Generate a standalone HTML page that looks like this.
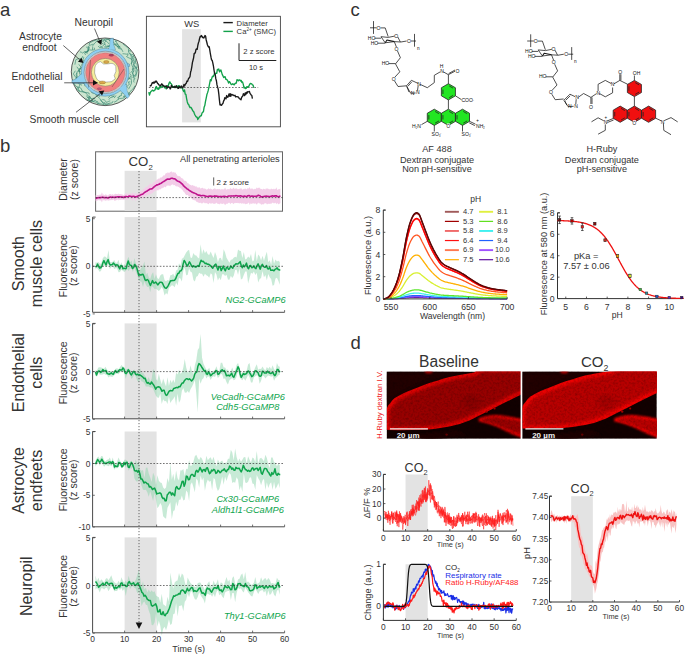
<!DOCTYPE html>
<html><head><meta charset="utf-8"><style>
html,body{margin:0;padding:0;background:#fff;width:685px;height:655px;overflow:hidden}
svg{display:block;font-family:"Liberation Sans", sans-serif}
</style></head><body>
<svg width="685" height="655" viewBox="0 0 685 655">
<text x="0" y="15.8" font-size="18.5" text-anchor="start" fill="#333" >a</text>
<circle cx="105.1" cy="71.8" r="33.8" fill="#cce5cf" stroke="#333" stroke-width="0.8"/>
<polyline points="124.96,92.58 121.22,93.27 121.5,95.51 119.06,96.36 117.42,98.01" fill="none" stroke="#2c7f6c" stroke-width="0.6"/>
<polyline points="112.21,42.63 110.64,40.14 107.46,39.51 105.12,40.07" fill="none" stroke="#2c7f6c" stroke-width="0.6"/>
<polyline points="115.25,41.97 115.92,40.62 116.61,42.53 117.93,44.53 119.65,46.84 119.01,47.99" fill="none" stroke="#2c7f6c" stroke-width="0.6"/>
<polyline points="130.22,54.99 132.5,54.49 133.95,55.77 132.39,57.2 134.01,59.7" fill="none" stroke="#2c7f6c" stroke-width="0.6"/>
<polyline points="127.37,85.78 129.33,84.48 128.41,81.93 130.34,81.83" fill="none" stroke="#2c7f6c" stroke-width="0.6"/>
<polyline points="114.53,95.7 112.98,96.23 110.8,95.55 110.22,95.45 108.34,97.74" fill="none" stroke="#2c7f6c" stroke-width="0.6"/>
<polyline points="93.07,99.93 91.97,101.11 89.96,100.35 87.96,100 86.02,98.72 85.82,98.58" fill="none" stroke="#2c7f6c" stroke-width="0.6"/>
<polyline points="112.27,40.91 114.02,42.92 117.18,45.81 118.41,47.13 120.26,46.31" fill="none" stroke="#2c7f6c" stroke-width="0.6"/>
<polyline points="79.51,72.08 79.28,71.09 80.21,68.86 81.22,66.74" fill="none" stroke="#2c7f6c" stroke-width="0.6"/>
<polyline points="79.9,91.28 77.96,90.57 76.42,88.12 76.36,88.02" fill="none" stroke="#2c7f6c" stroke-width="0.6"/>
<polyline points="80.34,77.34 81.72,78.58 82.3,79.9 83.48,82.67 84.52,84.53 85.21,86.36" fill="none" stroke="#2c7f6c" stroke-width="0.6"/>
<polyline points="86.06,95.64 87.54,97.04 88.52,97.79 89.71,100.92 92.92,101.57 95.18,100.21 97.51,102.28" fill="none" stroke="#2c7f6c" stroke-width="0.6"/>
<polyline points="130.11,54.06 129.11,53.55 128.54,50.29 128.45,48.63 127.29,47.37 125.7,46.02 122.98,44.06" fill="none" stroke="#2c7f6c" stroke-width="0.6"/>
<polyline points="114.51,44.67 117.71,46.63 119.26,46.86 121.23,48.47 123.01,51.9" fill="none" stroke="#2c7f6c" stroke-width="0.6"/>
<polyline points="76.81,66.72 78.63,69.23 78.68,71.66 80.69,71.68 80.53,71.66" fill="none" stroke="#2c7f6c" stroke-width="0.6"/>
<polyline points="113.14,101.07 112.07,103 108.92,103.26 106.99,104.48 103.19,102.63 102.07,101.93 100.2,99.77" fill="none" stroke="#2c7f6c" stroke-width="0.6"/>
<polyline points="82.07,91.86 79.37,91.15 77.78,87.68 74.85,84.99 74.03,82.93 74.86,80.53" fill="none" stroke="#2c7f6c" stroke-width="0.6"/>
<polyline points="89.01,45.22 89.71,42.79 93.6,40.87 96.89,39.84" fill="none" stroke="#2c7f6c" stroke-width="0.6"/>
<polyline points="97.22,101.17 98.73,103.63 101.72,104.03 104.73,104.8 106.7,104.02 109.73,104.14" fill="none" stroke="#2c7f6c" stroke-width="0.6"/>
<polyline points="132.46,77.44 134.42,76.79 135.87,76.04 136.21,73.66 135.82,71.02 136.8,67.13" fill="none" stroke="#2c7f6c" stroke-width="0.6"/>
<polyline points="75.39,78.15 77.31,76.8 76.88,74.71 77.1,71.8 79.34,69.35 78.96,68.82 80.98,68.09" fill="none" stroke="#2c7f6c" stroke-width="0.6"/>
<polyline points="89.89,96.76 88.18,96.05 87.45,94.89 86.1,93.13 84.92,92.36 82.02,90.82" fill="none" stroke="#2c7f6c" stroke-width="0.6"/>
<polyline points="89.37,48.25 88.38,47.22 89.04,48.75 87.65,51.5 85.86,52.02 84.68,53.15 85.62,54.94" fill="none" stroke="#2c7f6c" stroke-width="0.6"/>
<polyline points="105.36,102.22 103.45,103.62 101.82,101.42 100.52,99.11 97.95,96.83 95.31,94.55" fill="none" stroke="#2c7f6c" stroke-width="0.6"/>
<polyline points="95.14,97.8 93.98,99.28 93.72,98.08 91.29,98.8 90.86,97.95 88.43,98.01" fill="none" stroke="#2c7f6c" stroke-width="0.6"/>
<polyline points="118.04,99.62 119.37,98.57 123.43,98.1 125.25,97.16" fill="none" stroke="#2c7f6c" stroke-width="0.6"/>
<polyline points="88.89,96.22 89.99,96.34 91.19,99.17 92.91,101.41 96.28,102.36 98.1,104.05 99.39,102.75" fill="none" stroke="#2c7f6c" stroke-width="0.6"/>
<polyline points="123.22,97.26 125.86,95.31 128.36,93.76 129.72,92.3 131.5,90 133.78,88.13 134.85,85.83" fill="none" stroke="#2c7f6c" stroke-width="0.6"/>
<polyline points="131.31,63.98 131.91,59.98 131.35,58.13 131.14,55.78 129.94,52.97" fill="none" stroke="#2c7f6c" stroke-width="0.6"/>
<polyline points="92.38,46.23 94.99,42.81 98.55,39.72 100.7,40.84 102.83,41.23 104.57,42.68 105.97,40.78" fill="none" stroke="#2c7f6c" stroke-width="0.6"/>
<polyline points="75.77,80.42 76.3,78.77 76.76,76.87 76.15,74.88 76.76,72.78" fill="none" stroke="#2c7f6c" stroke-width="0.6"/>
<polyline points="130.51,72.64 132.52,70.81 134.03,67.24 133.38,63.86 133.94,61.35 132.44,58.09" fill="none" stroke="#2c7f6c" stroke-width="0.6"/>
<polyline points="136.66,68.01 137.37,64.88 135.27,62.75 134.93,60.46" fill="none" stroke="#2c7f6c" stroke-width="0.6"/>
<polyline points="133.89,79.47 134.27,78.1 133.05,75.98 132.96,74.39 132.28,72.75 133.78,70.43 134.13,68.24" fill="none" stroke="#2c7f6c" stroke-width="0.6"/>
<polyline points="128.46,89.22 130.41,85.77 131.54,83.14 131.46,80.53 131.03,78.71 131.07,75.04 129.71,73.53" fill="none" stroke="#2c7f6c" stroke-width="0.6"/>
<polyline points="87,97.36 89.53,97.35 88.92,99.49 88.36,100.24 88.4,100.26" fill="none" stroke="#2c7f6c" stroke-width="0.6"/>
<polyline points="121.45,49.11 118.43,48.4 117.75,46.79 118.04,45.37 117.91,44.64 117.09,43.85 113.65,44.63" fill="none" stroke="#2c7f6c" stroke-width="0.6"/>
<polyline points="112.15,44.21 110.49,45.75 108.69,46.3 107.34,45.23" fill="none" stroke="#2c7f6c" stroke-width="0.6"/>
<polyline points="79.97,51.84 81.49,52.31 82.56,53.02 83,52.65 84.65,51.74 86.18,52.73 87.62,53.35" fill="none" stroke="#2c7f6c" stroke-width="0.6"/>
<polyline points="99.55,45.86 100.58,46.27 102.33,47.76 102.68,46.9" fill="none" stroke="#2c7f6c" stroke-width="0.6"/>
<polyline points="126.17,56.83 127.82,55.52 128,53.86 126.17,54.17 124.79,53.89 122.52,53.72" fill="none" stroke="#2c7f6c" stroke-width="0.6"/>
<polyline points="98.8,41.81 99.47,41.22 102.17,39.62 105.41,40.54 107.68,42.29 109.22,44.2" fill="none" stroke="#2c7f6c" stroke-width="0.6"/>
<polyline points="89.3,94.45 88.9,92.98 85.08,92.42 82.47,92.06 81.23,88.5 79.53,87.48 76.82,86.77" fill="none" stroke="#2c7f6c" stroke-width="0.6"/>
<polyline points="98.05,46.15 99.84,47.75 101.88,46.8 103.52,45.13 105.37,43.56" fill="none" stroke="#2c7f6c" stroke-width="0.6"/>
<polyline points="120.37,95.69 118.91,97.1 118.22,98.98 116.94,100.73 114.06,102.26" fill="none" stroke="#2c7f6c" stroke-width="0.6"/>
<polyline points="131.26,55.66 133.99,57.08 135.38,58.69 135.28,61.9 134.13,64.65 135.71,67.61 134.99,68.95" fill="none" stroke="#2c7f6c" stroke-width="0.6"/>
<polyline points="74.89,64.65 75.47,61.61 75.77,59.79 78.1,58.69 80.36,58.65 81.89,58.21 82.88,56.02" fill="none" stroke="#2c7f6c" stroke-width="0.6"/>
<polyline points="128.18,87.51 126.56,86.49 126.09,86.33 124.25,87.18 122.88,88.22 122.49,88.63 122.45,88.67" fill="none" stroke="#2c7f6c" stroke-width="0.6"/>
<polyline points="134.19,82.51 133.63,81.15 134.37,79.19 135.04,78.31" fill="none" stroke="#2c7f6c" stroke-width="0.6"/>
<polyline points="89.73,46.83 88.53,48.48 88.38,50.88 87.05,52.31" fill="none" stroke="#2c7f6c" stroke-width="0.6"/>
<polyline points="92.59,49.08 93.52,49.93 94.77,49.55 94.21,47.64" fill="none" stroke="#2c7f6c" stroke-width="0.6"/>
<polyline points="110.22,100.82 108.56,101.45 106.48,102.45 105.3,100.68 104.27,99.91 102.29,99.4" fill="none" stroke="#2c7f6c" stroke-width="0.6"/>
<polyline points="83.89,57.07 83.02,59.68 83.58,60.73 83.02,61.89 82.47,63.22 81.41,65.65" fill="none" stroke="#2c7f6c" stroke-width="0.6"/>
<polyline points="113.48,45.29 112.28,47.02 109.88,46.87 108.94,45.68 106.7,47.6 105.31,47.6" fill="none" stroke="#2c7f6c" stroke-width="0.6"/>
<polyline points="79.42,81.06 78.32,83.54 80.01,84.59 79.15,86.84 78.78,87.75 78.09,88.78" fill="none" stroke="#2c7f6c" stroke-width="0.6"/>
<polyline points="123.11,96.4 126.49,95.8 129.55,93.97 128.65,91.97" fill="none" stroke="#2c7f6c" stroke-width="0.6"/>
<polyline points="134.54,65.86 136.29,68.46 137.55,69.67 136.73,72.52 135.55,75.11 133.45,75.77" fill="none" stroke="#2c7f6c" stroke-width="0.6"/>
<polyline points="133.86,76.16 132.85,73.55 133.27,71.51 134.37,70.93" fill="none" stroke="#2c7f6c" stroke-width="0.6"/>
<polyline points="78.55,64.38 80.15,65.78 81.26,67.66 80.02,69.12 79.09,70.76 79.61,73.04 79.69,74.56" fill="none" stroke="#2c7f6c" stroke-width="0.6"/>
<polyline points="128.07,50.85 128.86,51.25 129.63,50.59 130.77,51.06 130.36,51.13" fill="none" stroke="#2c7f6c" stroke-width="0.6"/>
<polyline points="106.16,45.46 103.91,43.56 103.27,44.24 101.58,42.5 98.68,41.15" fill="none" stroke="#2c7f6c" stroke-width="0.6"/>
<polyline points="93.32,44.06 90.39,45.18 88.98,46.09 87.7,47.16 86.08,47.15" fill="none" stroke="#2c7f6c" stroke-width="0.6"/>
<polyline points="99.54,96.8 99.11,95.36 97.41,94.75 95.5,94.02 94.05,93.33 91.98,92.9 91.01,91.48" fill="none" stroke="#2c7f6c" stroke-width="0.6"/>
<polyline points="103.17,40.52 105.48,38.8 108.33,39.24 110.57,41.67 110.73,41.34 112.58,40.27" fill="none" stroke="#2c7f6c" stroke-width="0.6"/>
<polyline points="132.31,70 132.84,67.27 132.01,65.36 131.2,63.05" fill="none" stroke="#2c7f6c" stroke-width="0.6"/>
<polyline points="75.35,70.73 73.37,73.93 75.84,77.45 77.16,78.67 78.72,81.94 80.52,84.41 82.06,85.3" fill="none" stroke="#2c7f6c" stroke-width="0.6"/>
<polyline points="131.92,63.03 132.62,60.91 131.01,58.9 129.27,58.09 126.9,56.89" fill="none" stroke="#2c7f6c" stroke-width="0.6"/>
<polyline points="112.28,46.96 111.73,46.53 110.5,47.43 109.96,45.88 108,46.75 105.3,46.02 104.13,47.62" fill="none" stroke="#2c7f6c" stroke-width="0.6"/>
<polyline points="130.7,76.5 128.47,78.07 130.24,78.91 129.25,78.51 128.19,79.04 128.46,79.69" fill="none" stroke="#2c7f6c" stroke-width="0.6"/>
<polyline points="87.82,47.76 87.78,49.33 87.43,51.11 87.95,51.94 85.57,52.37" fill="none" stroke="#2c7f6c" stroke-width="0.6"/>
<polyline points="92.7,46.55 92.58,47.77 92.65,50.16 89.42,49.91 87.42,51.43 86.42,51.42 84.4,52.15" fill="none" stroke="#2c7f6c" stroke-width="0.6"/>
<polyline points="116,95.46 114.49,97.67 113.33,96.08 112.6,97.18 110.4,97.55 108.79,99.68" fill="none" stroke="#2c7f6c" stroke-width="0.6"/>
<path d="M108.6,49 Q110.6,45 110,38.4 L113.4,38.2 Q112.6,45 115.5,49.5 Z" fill="#8ecff0" stroke="#2c5f78" stroke-width="0.35"/>
<path d="M83,71 Q78,79 71.8,80.6 L72.2,83.2 Q80,83.4 87,83.5 Z" fill="#8ecff0" stroke="#2c5f78" stroke-width="0.35"/>
<path d="M118.5,89.5 Q124,92.5 127,98.4 L129.4,96.3 Q126,91 126.5,84 Z" fill="#8ecff0" stroke="#2c5f78" stroke-width="0.35"/>
<path d="M125.5,61.5 Q127.5,63.8 129.5,64.2 L129.6,66.4 Q127.4,66.6 125.8,68 Z" fill="#8ecff0" stroke="#2c5f78" stroke-width="0.35"/>
<circle cx="105.1" cy="72.3" r="23.9" fill="#8ecff0" stroke="#2c5f78" stroke-width="0.35"/>
<path d="M108.8,49.6 Q110.8,45.5 110.5,40 L112.9,40 Q112.4,45.5 115,49.8 Z" fill="#8ecff0"/>
<path d="M83.5,72 Q78,79.6 73,81.4 L73.2,82.6 Q80,82.8 87,83 Z" fill="#8ecff0"/>
<path d="M119,89 Q124,92.5 127.6,97.4 L128.7,96.4 Q125.8,91 126,84.5 Z" fill="#8ecff0"/>
<circle cx="105.3" cy="72.39999999999999" r="21.2" fill="#fff" stroke="#333" stroke-width="0.35"/>
<circle cx="105.3" cy="72.39999999999999" r="20.4" fill="none" stroke="#444" stroke-width="0.3"/>
<circle cx="105.3" cy="72.39999999999999" r="19.7" fill="#f07f7f" stroke="#555" stroke-width="0.3"/>
<circle cx="105.3" cy="72.3" r="13.9" fill="#f6ee9c" stroke="#555" stroke-width="0.4"/>
<path d="M94.8,68 Q95.5,62.8 100.5,61.6 L103.6,64 L108.4,63.8 Q114,62.2 115.8,66.5 Q116.8,72 114.2,75.5 L115.3,78.8 Q111.5,83 107.5,82 L103,82.4 Q97.2,81.2 96,77.2 L94.6,73 Z" fill="#fff" stroke="#555" stroke-width="0.4"/>
<ellipse cx="106.3" cy="62" rx="2.8" ry="1.4" fill="#d9a84a" stroke="#7a5a20" stroke-width="0.3"/>
<ellipse cx="102.3" cy="82.4" rx="3.2" ry="1.5" fill="#d9a84a" stroke="#7a5a20" stroke-width="0.3"/>
<ellipse cx="111.3" cy="55.2" rx="2.4" ry="1.1" fill="#b04060" stroke="#702040" stroke-width="0.3"/>
<ellipse cx="99.4" cy="88.8" rx="2.2" ry="1" fill="#c06080" stroke="#702040" stroke-width="0.3"/>
<line x1="94.5" y1="28.5" x2="99.39" y2="40.38" stroke="#222" stroke-width="0.7" />
<polygon points="101.3,45 96.9,41.41 101.89,39.35" fill="#111"/>
<line x1="63.3" y1="45.5" x2="79.72" y2="59.73" stroke="#222" stroke-width="0.7" />
<polygon points="83.5,63 77.95,61.77 81.49,57.69" fill="#111"/>
<line x1="64.2" y1="82.8" x2="93" y2="82.8" stroke="#222" stroke-width="0.7" />
<polygon points="98,82.8 93,85.5 93,80.1" fill="#111"/>
<line x1="76" y1="112.3" x2="100.35" y2="93.46" stroke="#222" stroke-width="0.7" />
<polygon points="104.3,90.4 102,95.6 98.69,91.32" fill="#111"/>
<line x1="88.5" y1="87.5" x2="90.5" y2="60" stroke="#333" stroke-width="0.4" />
<line x1="112" y1="87" x2="124" y2="69" stroke="#333" stroke-width="0.4" />
<text x="74.6" y="26" font-size="10.3" text-anchor="start" fill="#333" >Neuropil</text>
<text x="40.5" y="39.7" font-size="10.3" text-anchor="middle" fill="#333" >Astrocyte</text>
<text x="39.5" y="51.4" font-size="10.3" text-anchor="middle" fill="#333" >endfoot</text>
<text x="37" y="80.4" font-size="10.3" text-anchor="middle" fill="#333" >Endothelial</text>
<text x="36.3" y="92.4" font-size="10.3" text-anchor="middle" fill="#333" >cell</text>
<text x="29.6" y="122.5" font-size="10.3" text-anchor="start" fill="#333" >Smooth muscle cell</text>
<rect x="146.4" y="16.3" width="134" height="110.5" fill="none" stroke="#444" stroke-width="0.9"/>
<rect x="182.1" y="29.2" width="18.7" height="93.2" fill="#e3e3e3"/>
<text x="191.7" y="26.7" font-size="9.3" text-anchor="middle" fill="#333" >WS</text>
<line x1="148.8" y1="87.5" x2="258.2" y2="87.5" stroke="#333" stroke-width="0.7" stroke-dasharray="1.6 1.6"/>
<polyline points="148.8,92.11 149.5,95.07 150.2,92.81 150.9,91.54 151.6,91.01 152.3,90.21 153,90.55 153.7,91.08 154.4,90.31 155.1,89.84 155.8,86.98 156.5,86.58 157.2,89.18 157.9,88.27 158.6,89.31 159.3,88.16 160,85.75 160.7,87.89 161.4,87.05 162.1,86.56 162.8,85.71 163.5,86.7 164.2,86.73 164.9,87.94 165.6,87.35 166.3,88.98 167,85.75 167.7,86.12 168.4,85.27 169.1,83.04 169.8,81.84 170.5,83.16 171.2,83.73 171.9,84.88 172.6,87.27 173.3,86.6 174,87.34 174.7,86.32 175.4,86.94 176.1,87.56 176.8,86.06 177.5,87.27 178.2,85.67 178.9,86.69 179.6,85.9 180.3,87.44 181,87.9 181.7,87.9 182.4,88.11 183.1,90.42 183.8,91.52 184.5,89.9 185.2,94.22 185.9,94.48 186.6,98.62 187.3,101.93 188,103.96 188.7,104.55 189.4,106.44 190.1,107.71 190.8,107.41 191.5,107.93 192.2,109.7 192.9,110.94 193.6,111.61 194.3,113.36 195,114.98 195.7,116.21 196.4,116.99 197.1,117.16 197.8,119.55 198.5,118.27 199.2,117.16 199.9,116.45 200.6,115.81 201.3,115.79 202,113.18 202.7,112.14 203.4,111.83 204.1,107.35 204.8,105.62 205.5,101.43 206.2,98.12 206.9,94.53 207.6,92.63 208.3,90.15 209,86.8 209.7,83.22 210.4,79.61 211.1,80.85 211.8,78.15 212.5,76.26 213.2,76.59 213.9,75.38 214.6,73.25 215.3,74.21 216,73.17 216.7,73.37 217.4,69.43 218.1,69.88 218.8,69.06 219.5,71.86 220.2,70.6 220.9,69.98 221.6,72.32 222.3,74.66 223,75.91 223.7,77.53 224.4,76.93 225.1,76.66 225.8,79.28 226.5,79.32 227.2,80.07 227.9,81.12 228.6,83.07 229.3,81.6 230,82.18 230.7,83.83 231.4,84.53 232.1,84.31 232.8,83.71 233.5,84.43 234.2,84.85 234.9,83.69 235.6,83.12 236.3,83.15 237,79.73 237.7,80.04 238.4,80.67 239.1,80 239.8,80.04 240.5,80.92 241.2,80.39 241.9,82.46 242.6,82.08 243.3,84.38 244,87.92 244.7,87.26 245.4,88.6 246.1,88.46 246.8,86.73 247.5,87.28 248.2,86.39 248.9,86.35 249.6,84.53 250.3,83.49 251,83.68 251.7,83.91 252.4,84.77 253.1,85.1 253.8,87.7" fill="none" stroke="#12a14a" stroke-width="1.35" stroke-linejoin="round" />
<polyline points="149.8,86.4 150.4,85.77 151,85.87 151.6,84.37 152.2,82.76 152.8,83.07 153.4,82.16 154,83.19 154.6,82.55 155.2,81.19 155.8,81.99 156.4,81.1 157,82.2 157.6,83.35 158.2,83.82 158.8,84.96 159.4,85.09 160,85.16 160.6,85.87 161.2,84.72 161.8,83.76 162.4,84.79 163,85.55 163.6,85.53 164.2,86.17 164.8,86.64 165.4,86.12 166,86.44 166.6,85.96 167.2,88.05 167.8,87.17 168.4,86.71 169,86.96 169.6,87.55 170.2,88.97 170.8,87.91 171.4,85.33 172,86.39 172.6,86.85 173.2,87.28 173.8,87.14 174.4,86.4 175,87.58 175.6,86.95 176.2,85.67 176.8,87.28 177.4,87.22 178,88.46 178.6,88.31 179.2,86.31 179.8,87.57 180.4,87.65 181,86.44 181.6,86.05 182.2,87.81 182.8,87.68 183.4,86.69 184,84.46 184.6,86.07 185.2,84.78 185.8,83.7 186.4,82.98 187,81.03 187.6,81.33 188.2,79.61 188.8,78.06 189.4,77.79 190,76.47 190.6,72.06 191.2,70.23 191.8,66.87 192.4,62.65 193,60.25 193.6,57.79 194.2,53.41 194.8,53.54 195.4,52.44 196,49.28 196.6,48.96 197.2,49.31 197.8,45.5 198.4,42.89 199,41.26 199.6,38.37 200.2,36.36 200.8,36.69 201.4,35.52 202,36.34 202.6,37.59 203.2,37.5 203.8,38.01 204.4,36.91 205,35.51 205.6,36.21 206.2,39.96 206.8,42.26 207.4,44.77 208,46.17 208.6,46.98 209.2,46.69 209.8,50.19 210.4,53.99 211,57.2 211.6,60 212.2,60.35 212.8,62.89 213.4,65.78 214,70.01 214.6,73.5 215.2,74.7 215.8,78.65 216.4,80.75 217,84.88 217.6,87.16 218.2,89.08 218.8,93.93 219.4,99.83 220,104.88 220.6,104.51 221.2,105.41 221.8,104.9 222.4,103.92 223,103.3 223.6,101 224.2,100.16 224.8,97.61 225.4,98.35 226,98.81 226.6,95.55 227.2,96.38 227.8,97.31 228.4,95.92 229,93.89 229.6,96.2 230.2,93.72 230.8,96.23 231.4,94.47 232,94.36 232.6,95.02 233.2,94.98 233.8,95.54 234.4,95.55 235,95.28 235.6,96.91 236.2,96.67 236.8,96.58 237.4,96.76 238,96.86 238.6,97.23 239.2,98.5 239.8,98.93 240.4,99.14 241,99.71 241.6,97.36 242.2,96.79 242.8,95.97 243.4,93.75 244,94.21 244.6,95.65 245.2,92.99 245.8,94.59 246.4,92.3 247,93.31 247.6,91.71 248.2,91.84 248.8,91.78 249.4,91.35 250,93.43 250.6,94.15 251.2,95.06 251.8,95.47 252.4,98.57" fill="none" stroke="#1a1a1a" stroke-width="1.35" stroke-linejoin="round" />
<line x1="223.4" y1="22.6" x2="232.8" y2="22.6" stroke="#1a1a1a" stroke-width="1.4" />
<line x1="223.4" y1="31.4" x2="232.8" y2="31.4" stroke="#12a14a" stroke-width="1.4" />
<text x="236.6" y="25.8" font-size="7.7" text-anchor="start" fill="#333" >Diameter</text>
<text x="236.6" y="34.2" font-size="7.7" fill="#333">Ca<tspan font-size="4.6" dy="-3">2+</tspan><tspan dy="3"> (SMC)</tspan></text>
<polyline points="239,43.3 239,60.5 276.3,60.5" fill="none" stroke="#222" stroke-width="1"/>
<text x="243.3" y="53.8" font-size="7.7" text-anchor="start" fill="#333" >2 z score</text>
<text x="256" y="69.6" font-size="7.5" text-anchor="middle" fill="#333" >10 s</text>
<text x="0" y="151.9" font-size="18.5" text-anchor="start" fill="#333" >b</text>
<rect x="95.6" y="151.8" width="186.9" height="59.4" fill="none" stroke="#666" stroke-width="1"/>
<rect x="124.6" y="170.8" width="32" height="40" fill="#e3e3e3"/>
<text x="128.6" y="166.3" font-size="13.2" fill="#333">CO<tspan font-size="7.8" dy="3.2">2</tspan></text>
<text x="180" y="162.4" font-size="9.25" text-anchor="start" fill="#333" >All penetrating arterioles</text>
<line x1="213.7" y1="177.4" x2="213.7" y2="185.5" stroke="#333" stroke-width="0.8" />
<text x="216.4" y="185" font-size="8.05" text-anchor="start" fill="#333" >2 z score</text>
<text x="67.2" y="179.5" font-size="10.5" text-anchor="middle" fill="#333" transform="rotate(-90 67.2 179.5)" >Diameter</text>
<text x="77.8" y="179.5" font-size="10.5" text-anchor="middle" fill="#333" transform="rotate(-90 77.8 179.5)" >(z score)</text>
<polygon points="95.64,195.3 96.12,195.15 96.6,195.6 97.08,195.02 97.56,195.06 98.04,195.35 98.52,195.26 99,194.44 99.48,195.25 99.96,194.37 100.44,194.51 100.92,195.15 101.4,193.8 101.88,192.17 102.36,193.21 102.84,194.94 103.32,194.62 103.8,194.5 104.28,195.29 104.76,194.95 105.24,193.9 105.72,194.75 106.2,195.17 106.68,194.33 107.16,195.33 107.64,195.61 108.12,195.56 108.6,194.88 109.08,194.03 109.56,194.56 110.04,193.92 110.52,194.22 111,194.14 111.48,194.95 111.96,194.3 112.44,194.09 112.92,194.63 113.4,194.52 113.88,195 114.36,194.15 114.84,193.91 115.32,193.67 115.8,193.75 116.28,193.89 116.76,193.97 117.24,194.14 117.72,194.03 118.2,194.61 118.68,193.15 119.16,194.35 119.64,193.9 120.12,193.95 120.6,194.24 121.08,194.3 121.56,194.45 122.04,194.05 122.52,194.67 123,194.91 123.48,195.29 123.96,195 124.44,194.25 124.92,194.51 125.4,193.3 125.88,193.88 126.36,192.64 126.84,193.52 127.32,193.94 127.8,194.32 128.28,193.94 128.76,193.59 129.24,193.36 129.72,193.67 130.2,193.15 130.68,193.57 131.16,193.76 131.64,193.81 132.12,193.17 132.6,192.02 133.08,193.11 133.56,194.07 134.04,193.4 134.52,193.42 135,193.32 135.48,192.37 135.96,194.36 136.44,193.4 136.92,193.94 137.4,193.03 137.88,193.79 138.36,193.09 138.84,193.18 139.32,192.1 139.8,192.48 140.28,191.94 140.76,191.15 141.24,190.48 141.72,191.04 142.2,191.15 142.68,190.17 143.16,188.9 143.64,188.83 144.12,189.51 144.6,188.19 145.08,187.57 145.56,187.4 146.04,187.03 146.52,187.13 147,187.12 147.48,186.61 147.96,185.87 148.44,185.15 148.92,185.06 149.4,184.9 149.88,183.52 150.36,183.53 150.84,184.55 151.32,184.21 151.8,184.1 152.28,183.72 152.76,183.5 153.24,182.79 153.72,182.02 154.2,181.98 154.68,181.84 155.16,181.3 155.64,180.7 156.12,179.88 156.6,179.82 157.08,179.62 157.56,179.54 158.04,178.77 158.52,178.59 159,178.85 159.48,178.85 159.96,177.58 160.44,177.35 160.92,178.2 161.4,177.36 161.88,177.16 162.36,176.46 162.84,176.55 163.32,175.39 163.8,175.19 164.28,175.45 164.76,175.15 165.24,174.18 165.72,173.14 166.2,173.2 166.68,172.96 167.16,173.58 167.64,171.89 168.12,172.91 168.6,172.58 169.08,172.81 169.56,173.04 170.04,171.42 170.52,171.92 171,171.96 171.48,171.52 171.96,171.35 172.44,172.63 172.92,172.22 173.4,171.81 173.88,172.87 174.36,172.11 174.84,173.03 175.32,172.52 175.8,172.78 176.28,174.3 176.76,174.14 177.24,175.42 177.72,175.88 178.2,175.81 178.68,176.29 179.16,175.92 179.64,176.16 180.12,176.49 180.6,177 181.08,177.77 181.56,178.25 182.04,177.97 182.52,178.8 183,178.51 183.48,179.58 183.96,180.46 184.44,180.76 184.92,180.78 185.4,181.08 185.88,180.73 186.36,181.41 186.84,182.01 187.32,182.95 187.8,183.37 188.28,183.23 188.76,183.76 189.24,184.26 189.72,184.51 190.2,184.97 190.68,184.79 191.16,185.14 191.64,185.56 192.12,185.38 192.6,185.12 193.08,185.08 193.56,185.93 194.04,185.72 194.52,185.85 195,186.57 195.48,186.71 195.96,186.05 196.44,186.19 196.92,187.6 197.4,187.56 197.88,187.28 198.36,188 198.84,187.07 199.32,187.58 199.8,187.37 200.28,188.75 200.76,188.33 201.24,188.03 201.72,188.22 202.2,188.02 202.68,187.53 203.16,188.84 203.64,188.14 204.12,188.64 204.6,188.26 205.08,189.03 205.56,188.4 206.04,189.54 206.52,189.51 207,189.6 207.48,189.27 207.96,188.94 208.44,188.25 208.92,188.61 209.4,189.29 209.88,188.72 210.36,188.34 210.84,189.28 211.32,188.89 211.8,189.2 212.28,189.75 212.76,189.49 213.24,189.03 213.72,188.69 214.2,188.93 214.68,188.08 215.16,188.2 215.64,189.13 216.12,189.26 216.6,189.29 217.08,189.14 217.56,189.07 218.04,188.71 218.52,189.23 219,189.59 219.48,188.91 219.96,188.83 220.44,189.65 220.92,189.48 221.4,188.86 221.88,189.67 222.36,189.04 222.84,189.4 223.32,189.47 223.8,189.13 224.28,189.04 224.76,187.92 225.24,187.6 225.72,188.95 226.2,189.72 226.68,189.62 227.16,189.53 227.64,188.95 228.12,189.04 228.6,189.22 229.08,189.31 229.56,189.23 230.04,188.07 230.52,187.78 231,189.23 231.48,188.83 231.96,188.82 232.44,189.15 232.92,188.11 233.4,187.49 233.88,188.37 234.36,188.8 234.84,188.84 235.32,189.11 235.8,188.06 236.28,188.73 236.76,188.27 237.24,188.79 237.72,189.17 238.2,189.28 238.68,188.96 239.16,189.15 239.64,188.54 240.12,188.63 240.6,188.61 241.08,187.87 241.56,188.83 242.04,189.52 242.52,189.55 243,189.49 243.48,188.83 243.96,189.27 244.44,188.59 244.92,189.02 245.4,188.52 245.88,188.78 246.36,189.46 246.84,188.94 247.32,188.66 247.8,187.64 248.28,188.33 248.76,188.71 249.24,187.74 249.72,186.89 250.2,188.25 250.68,189.2 251.16,188.65 251.64,188.31 252.12,189.12 252.6,188.35 253.08,188.9 253.56,189.45 254.04,189.27 254.52,188.9 255,188.56 255.48,189.27 255.96,188.87 256.44,187.95 256.92,187.31 257.4,188.28 257.88,188.23 258.36,188.03 258.84,187.4 259.32,187.59 259.8,188.13 260.28,188.62 260.76,189 261.24,189.05 261.72,189.08 262.2,189.38 262.68,189.44 263.16,188.71 263.64,188.67 264.12,189.18 264.6,189.02 265.08,189.34 265.56,189.42 266.04,187.82 266.52,188.71 267,188.98 267.48,188.61 267.96,188.3 268.44,188.91 268.92,189.37 269.4,189.25 269.88,189.27 270.36,189.4 270.84,188.87 271.32,188.56 271.8,189.03 272.28,189.07 272.76,189.2 273.24,189.32 273.72,188.4 274.2,189.38 274.68,188.76 275.16,188.89 275.64,188.89 276.12,187.45 276.6,187.82 277.08,189.66 277.56,189.69 278.04,189.41 278.52,189.37 279,188.97 279.48,189.21 279.96,188.85 280.44,188.57 280.44,203.32 279.96,203.32 279.48,203.64 279,204.26 278.52,204.14 278.04,203.9 277.56,203.34 277.08,203.07 276.6,203.86 276.12,204.31 275.64,202.83 275.16,202.85 274.68,203.25 274.2,203.16 273.72,203.46 273.24,202.86 272.76,202.88 272.28,202.61 271.8,202.9 271.32,204.09 270.84,203.83 270.36,203.61 269.88,203.88 269.4,203.83 268.92,203.46 268.44,203.82 267.96,204.27 267.48,204.15 267,203.6 266.52,203.61 266.04,204.45 265.56,203 265.08,203.12 264.6,203.52 264.12,203.76 263.64,204.43 263.16,204.29 262.68,204.2 262.2,204.32 261.72,204.7 261.24,204.51 260.76,204.35 260.28,203.45 259.8,203.24 259.32,203.59 258.84,203.4 258.36,202.58 257.88,202.89 257.4,203.81 256.92,204.64 256.44,204.35 255.96,203.77 255.48,203.2 255,203.83 254.52,203.79 254.04,203.16 253.56,203.21 253.08,203.79 252.6,203.86 252.12,203.1 251.64,204.11 251.16,203.67 250.68,203.15 250.2,204.21 249.72,204.99 249.24,203.5 248.76,202.45 248.28,203.07 247.8,203.83 247.32,203.45 246.84,204.06 246.36,203.63 245.88,204.16 245.4,204.32 244.92,203.17 244.44,203.89 243.96,203.03 243.48,203.9 243,203.53 242.52,203.57 242.04,202.94 241.56,203.45 241.08,203.96 240.6,202.93 240.12,203.1 239.64,203.42 239.16,203.21 238.68,203.22 238.2,203.03 237.72,202.81 237.24,203.14 236.76,202.98 236.28,202.88 235.8,203.25 235.32,202.83 234.84,203.04 234.36,203.16 233.88,203.39 233.4,204.36 232.92,203.79 232.44,202.71 231.96,203.3 231.48,202.99 231,202.94 230.52,204.18 230.04,203.84 229.56,202.67 229.08,202.77 228.6,202.81 228.12,203.3 227.64,203.8 227.16,203.64 226.68,203.77 226.2,203.64 225.72,204.2 225.24,205.18 224.76,204.76 224.28,203.77 223.8,203.7 223.32,203.32 222.84,203.95 222.36,204 221.88,203.22 221.4,204.17 220.92,203.41 220.44,203.17 219.96,204.39 219.48,204.26 219,203.38 218.52,203.97 218.04,203.94 217.56,203.56 217.08,203.66 216.6,202.86 216.12,202.8 215.64,203.15 215.16,203.98 214.68,203.65 214.2,203.63 213.72,203.93 213.24,203.56 212.76,203.3 212.28,203.36 211.8,203.46 211.32,203.42 210.84,203.25 210.36,203.78 209.88,203.23 209.4,203.01 208.92,203.86 208.44,204.28 207.96,203.95 207.48,203.62 207,203.26 206.52,203.27 206.04,203 205.56,203.54 205.08,202.83 204.6,203.52 204.12,202.48 203.64,202.82 203.16,202.26 202.68,203.54 202.2,203.13 201.72,203.19 201.24,203.44 200.76,202.92 200.28,202.42 199.8,202.95 199.32,202.81 198.84,203.22 198.36,202.37 197.88,202.49 197.4,202.04 196.92,201.53 196.44,201.94 195.96,201.37 195.48,200.42 195,200.12 194.52,200.38 194.04,200.08 193.56,199.77 193.08,200.28 192.6,199.49 192.12,198.89 191.64,198.38 191.16,197.91 190.68,197.82 190.2,197.15 189.72,196.85 189.24,196.44 188.76,196.42 188.28,195.73 187.8,195.03 187.32,195.11 186.84,195.22 186.36,194.96 185.88,194.75 185.4,194.07 184.92,193.18 184.44,192.48 183.96,191.55 183.48,191.82 183,191.37 182.52,189.82 182.04,189.64 181.56,189.23 181.08,188.22 180.6,188.19 180.12,188.25 179.64,187.76 179.16,187.15 178.68,186.67 178.2,187.04 177.72,186.25 177.24,186.38 176.76,186.86 176.28,185.99 175.8,186.31 175.32,185.8 174.84,185.1 174.36,185.32 173.88,184.56 173.4,185.54 172.92,184.7 172.44,183.89 171.96,185.16 171.48,184.84 171,184.68 170.52,185.65 170.04,186.39 169.56,185.39 169.08,185.77 168.6,185.74 168.12,185.35 167.64,186.34 167.16,184.92 166.68,186.02 166.2,186.44 165.72,187.45 165.24,186.88 164.76,186.49 164.28,186.98 163.8,187.67 163.32,187.57 162.84,187.5 162.36,188.58 161.88,187.84 161.4,188.86 160.92,188.65 160.44,189.56 159.96,189.51 159.48,189.43 159,189.37 158.52,190.12 158.04,190.75 157.56,190.2 157.08,189.9 156.6,190.23 156.12,190.95 155.64,190.56 155.16,190.64 154.68,191.19 154.2,191.77 153.72,192.08 153.24,192.32 152.76,192.95 152.28,193.62 151.8,193.37 151.32,193.76 150.84,193.46 150.36,194.47 149.88,194.68 149.4,193.9 148.92,194.58 148.44,195.31 147.96,194.65 147.48,194.81 147,195.21 146.52,195.5 146.04,195.97 145.56,196.7 145.08,196.62 144.6,196.62 144.12,196.1 143.64,197.73 143.16,198.53 142.68,198.22 142.2,197.41 141.72,197.81 141.24,198.7 140.76,198.38 140.28,197.91 139.8,198.42 139.32,198.96 138.84,198.06 138.36,198.66 137.88,198.45 137.4,199.36 136.92,199.2 136.44,200.24 135.96,199.49 135.48,201.41 135,200.31 134.52,199.59 134.04,199.5 133.56,198.69 133.08,199.59 132.6,200.93 132.12,200.07 131.64,199.33 131.16,199.05 130.68,198.94 130.2,199.2 129.72,198.49 129.24,198.7 128.76,198.8 128.28,198.95 127.8,199.02 127.32,199.62 126.84,199.79 126.36,200.23 125.88,199.05 125.4,199.78 124.92,199.14 124.44,199.82 123.96,199.83 123.48,199.7 123,199.46 122.52,199.5 122.04,200.17 121.56,199.53 121.08,199.49 120.6,199.87 120.12,199.89 119.64,199.92 119.16,199.5 118.68,200.63 118.2,199.18 117.72,199.73 117.24,199.83 116.76,199.89 116.28,200.24 115.8,200.26 115.32,200.83 114.84,200.84 114.36,200.63 113.88,199.45 113.4,199.86 112.92,199.73 112.44,199.99 111.96,200.16 111.48,199.82 111,200.43 110.52,199.79 110.04,200.6 109.56,199.93 109.08,200.72 108.6,200.45 108.12,200.53 107.64,200.17 107.16,200.19 106.68,200.86 106.2,199.88 105.72,200.25 105.24,201.31 104.76,200.4 104.28,199.94 103.8,200.57 103.32,200.25 102.84,199.35 102.36,201.21 101.88,202.61 101.4,201.23 100.92,199.83 100.44,200.82 99.96,200.82 99.48,200.09 99,200.59 98.52,200.05 98.04,200.22 97.56,200.53 97.08,200.75 96.6,201.07 96.12,201.2 95.64,201.2" fill="#f3cde8" />
<polyline points="95.64,198.25 96.12,198.18 96.6,198.34 97.08,197.88 97.56,197.8 98.04,197.78 98.52,197.66 99,197.52 99.48,197.67 99.96,197.59 100.44,197.66 100.92,197.49 101.4,197.52 101.88,197.39 102.36,197.21 102.84,197.14 103.32,197.43 103.8,197.54 104.28,197.62 104.76,197.67 105.24,197.6 105.72,197.5 106.2,197.53 106.68,197.59 107.16,197.76 107.64,197.89 108.12,198.05 108.6,197.67 109.08,197.38 109.56,197.24 110.04,197.26 110.52,197 111,197.29 111.48,197.38 111.96,197.23 112.44,197.04 112.92,197.18 113.4,197.19 113.88,197.23 114.36,197.39 114.84,197.37 115.32,197.25 115.8,197 116.28,197.07 116.76,196.93 117.24,196.98 117.72,196.88 118.2,196.9 118.68,196.89 119.16,196.92 119.64,196.91 120.12,196.92 120.6,197.06 121.08,196.9 121.56,196.99 122.04,197.11 122.52,197.09 123,197.18 123.48,197.5 123.96,197.41 124.44,197.03 124.92,196.82 125.4,196.54 125.88,196.46 126.36,196.43 126.84,196.66 127.32,196.78 127.8,196.67 128.28,196.45 128.76,196.19 129.24,196.03 129.72,196.08 130.2,196.17 130.68,196.26 131.16,196.41 131.64,196.57 132.12,196.62 132.6,196.48 133.08,196.35 133.56,196.38 134.04,196.45 134.52,196.5 135,196.81 135.48,196.89 135.96,196.92 136.44,196.82 136.92,196.57 137.4,196.2 137.88,196.12 138.36,195.87 138.84,195.62 139.32,195.53 139.8,195.45 140.28,194.93 140.76,194.77 141.24,194.59 141.72,194.42 142.2,194.28 142.68,194.2 143.16,193.72 143.64,193.28 144.12,192.81 144.6,192.41 145.08,192.09 145.56,192.05 146.04,191.5 146.52,191.32 147,191.16 147.48,190.71 147.96,190.26 148.44,190.23 148.92,189.82 149.4,189.4 149.88,189.1 150.36,189 150.84,189 151.32,188.98 151.8,188.73 152.28,188.67 152.76,188.23 153.24,187.56 153.72,187.05 154.2,186.88 154.68,186.51 155.16,185.97 155.64,185.63 156.12,185.41 156.6,185.02 157.08,184.76 157.56,184.87 158.04,184.76 158.52,184.36 159,184.11 159.48,184.14 159.96,183.54 160.44,183.45 160.92,183.43 161.4,183.11 161.88,182.5 162.36,182.52 162.84,182.03 163.32,181.48 163.8,181.43 164.28,181.22 164.76,180.82 165.24,180.53 165.72,180.3 166.2,179.82 166.68,179.49 167.16,179.25 167.64,179.11 168.12,179.13 168.6,179.16 169.08,179.29 169.56,179.21 170.04,178.9 170.52,178.78 171,178.32 171.48,178.18 171.96,178.26 172.44,178.26 172.92,178.46 173.4,178.68 173.88,178.71 174.36,178.72 174.84,179.07 175.32,179.16 175.8,179.55 176.28,180.15 176.76,180.5 177.24,180.9 177.72,181.06 178.2,181.42 178.68,181.48 179.16,181.54 179.64,181.96 180.12,182.37 180.6,182.59 181.08,183 181.56,183.74 182.04,183.81 182.52,184.31 183,184.94 183.48,185.7 183.96,186 184.44,186.62 184.92,186.98 185.4,187.58 185.88,187.74 186.36,188.19 186.84,188.62 187.32,189.03 187.8,189.2 188.28,189.48 188.76,190.09 189.24,190.35 189.72,190.68 190.2,191.06 190.68,191.3 191.16,191.53 191.64,191.97 192.12,192.13 192.6,192.31 193.08,192.68 193.56,192.85 194.04,192.9 194.52,193.12 195,193.35 195.48,193.57 195.96,193.71 196.44,194.06 196.92,194.56 197.4,194.8 197.88,194.88 198.36,195.18 198.84,195.15 199.32,195.2 199.8,195.16 200.28,195.58 200.76,195.63 201.24,195.73 201.72,195.7 202.2,195.57 202.68,195.53 203.16,195.55 203.64,195.48 204.12,195.56 204.6,195.89 205.08,195.93 205.56,195.97 206.04,196.27 206.52,196.39 207,196.43 207.48,196.44 207.96,196.44 208.44,196.27 208.92,196.24 209.4,196.15 209.88,195.98 210.36,196.06 210.84,196.27 211.32,196.15 211.8,196.33 212.28,196.56 212.76,196.4 213.24,196.29 213.72,196.31 214.2,196.28 214.68,195.87 215.16,196.09 215.64,196.14 216.12,196.03 216.6,196.07 217.08,196.4 217.56,196.31 218.04,196.32 218.52,196.6 219,196.49 219.48,196.59 219.96,196.61 220.44,196.41 220.92,196.44 221.4,196.51 221.88,196.44 222.36,196.52 222.84,196.67 223.32,196.39 223.8,196.42 224.28,196.4 224.76,196.34 225.24,196.39 225.72,196.57 226.2,196.68 226.68,196.69 227.16,196.59 227.64,196.37 228.12,196.17 228.6,196.02 229.08,196.04 229.56,195.95 230.04,195.96 230.52,195.98 231,196.09 231.48,195.91 231.96,196.06 232.44,195.93 232.92,195.95 233.4,195.93 233.88,195.88 234.36,195.98 234.84,195.94 235.32,195.97 235.8,195.65 236.28,195.8 236.76,195.63 237.24,195.97 237.72,195.99 238.2,196.15 238.68,196.09 239.16,196.18 239.64,195.98 240.12,195.87 240.6,195.77 241.08,195.91 241.56,196.14 242.04,196.23 242.52,196.56 243,196.51 243.48,196.37 243.96,196.15 244.44,196.24 244.92,196.09 245.4,196.42 245.88,196.47 246.36,196.55 246.84,196.5 247.32,196.06 247.8,195.74 248.28,195.7 248.76,195.58 249.24,195.62 249.72,195.94 250.2,196.23 250.68,196.18 251.16,196.16 251.64,196.21 252.12,196.11 252.6,196.1 253.08,196.35 253.56,196.33 254.04,196.22 254.52,196.35 255,196.2 255.48,196.24 255.96,196.32 256.44,196.15 256.92,195.97 257.4,196.05 257.88,195.56 258.36,195.3 258.84,195.4 259.32,195.59 259.8,195.69 260.28,196.04 260.76,196.68 261.24,196.78 261.72,196.89 262.2,196.85 262.68,196.82 263.16,196.5 263.64,196.55 264.12,196.47 264.6,196.27 265.08,196.23 265.56,196.21 266.04,196.14 266.52,196.16 267,196.29 267.48,196.38 267.96,196.28 268.44,196.36 268.92,196.42 269.4,196.54 269.88,196.57 270.36,196.5 270.84,196.35 271.32,196.32 271.8,195.96 272.28,195.84 272.76,196.04 273.24,196.09 273.72,195.93 274.2,196.27 274.68,196.01 275.16,195.87 275.64,195.86 276.12,195.88 276.6,195.84 277.08,196.36 277.56,196.52 278.04,196.65 278.52,196.76 279,196.61 279.48,196.43 279.96,196.09 280.44,195.95" fill="none" stroke="#bf148c" stroke-width="1.6" stroke-linejoin="round" />
<line x1="95.6" y1="197.6" x2="282.5" y2="197.6" stroke="#333" stroke-width="0.7" stroke-dasharray="1.6 1.6"/>
<rect x="124.6" y="217.1" width="32" height="95.2" fill="#e3e3e3"/>
<polygon points="95.48,262.16 96.92,262.87 98.36,262.12 99.8,263.48 101.24,263.86 102.68,258.55 104.12,256.6 105.56,256.85 107,258.25 108.44,250.1 109.88,261.73 111.32,262.19 112.76,261.76 114.2,260.11 115.64,262.75 117.08,262.77 118.52,259.81 119.96,265.82 121.4,262.24 122.84,266.14 124.28,264.22 125.72,265.16 127.16,259.79 128.6,256.84 130.04,262.51 131.48,260.38 132.92,266.04 134.36,257.99 135.8,263.07 137.24,266.79 138.68,270.33 140.12,270.1 141.56,267.45 143,265.55 144.44,261.58 145.88,275.1 147.32,272.83 148.76,277.5 150.2,278.88 151.64,274.55 153.08,272.17 154.52,278.99 155.96,274.14 157.4,278.23 158.84,278.89 160.28,275.42 161.72,274.21 163.16,274.26 164.6,280.2 166.04,281.15 167.48,280.01 168.92,280.44 170.36,275.13 171.8,275 173.24,273.85 174.68,276.62 176.12,270.6 177.56,269.65 179,263.18 180.44,266.12 181.88,258.8 183.32,257.97 184.76,255.19 186.2,252.39 187.64,250.83 189.08,249.8 190.52,257.57 191.96,257.95 193.4,252.91 194.84,255.22 196.28,255.57 197.72,257.54 199.16,258.57 200.6,244.21 202.04,254.34 203.48,249.23 204.92,253.26 206.36,251.05 207.8,254.34 209.24,255.04 210.68,251.57 212.12,255.09 213.56,257.93 215,252.12 216.44,255.68 217.88,262.18 219.32,258.27 220.76,257.73 222.2,261.22 223.64,249.34 225.08,252.58 226.52,257.71 227.96,260.37 229.4,262.71 230.84,259.85 232.28,259.58 233.72,257.66 235.16,256.79 236.6,257.48 238.04,249.57 239.48,250.74 240.92,251.12 242.36,257.99 243.8,251.92 245.24,259.49 246.68,258.75 248.12,256.38 249.56,257.88 251,254.07 252.44,261.44 253.88,260.39 255.32,250.06 256.76,261.2 258.2,254.44 259.64,256.35 261.08,260.6 262.52,255.83 263.96,261.08 265.4,256.1 266.84,251.7 268.28,262.17 269.72,260.28 271.16,264.66 272.6,255.91 274.04,263.73 275.48,259.54 276.92,261.39 278.36,260.63 279.8,261.93 279.8,284.79 278.36,280.81 276.92,277.8 275.48,278.59 274.04,284.92 272.6,285.83 271.16,279.12 269.72,277.18 268.28,274.09 266.84,280.3 265.4,275.06 263.96,277.17 262.52,271.02 261.08,278 259.64,278.96 258.2,282.62 256.76,272.83 255.32,275.08 253.88,271.38 252.44,273.67 251,272.68 249.56,277.89 248.12,283.4 246.68,271.4 245.24,271.56 243.8,275.04 242.36,278.84 240.92,279.62 239.48,268.25 238.04,274.79 236.6,269.77 235.16,269.98 233.72,275.79 232.28,278.09 230.84,275.75 229.4,279.8 227.96,279.57 226.52,274.84 225.08,276 223.64,274.28 222.2,274.32 220.76,280.25 219.32,277.41 217.88,280.39 216.44,274.49 215,272.04 213.56,283.03 212.12,274.42 210.68,273.31 209.24,277.67 207.8,275.89 206.36,275.24 204.92,273.87 203.48,276.76 202.04,273.72 200.6,273.73 199.16,272.63 197.72,275.98 196.28,276.87 194.84,281.38 193.4,280 191.96,272.58 190.52,271.81 189.08,268.57 187.64,274.88 186.2,275.32 184.76,267.44 183.32,270.55 181.88,281.38 180.44,278.46 179,278.09 177.56,285.38 176.12,282.48 174.68,287.19 173.24,285.65 171.8,285.33 170.36,286.79 168.92,288 167.48,294.49 166.04,293.12 164.6,295.46 163.16,289.78 161.72,286.89 160.28,289.58 158.84,290.9 157.4,289.75 155.96,288.78 154.52,289.06 153.08,286.9 151.64,286.17 150.2,292.07 148.76,286.76 147.32,287.07 145.88,284.67 144.44,281.26 143,286.98 141.56,281.78 140.12,281.36 138.68,279.92 137.24,274.86 135.8,271.47 134.36,267.59 132.92,271.88 131.48,268.25 130.04,268.86 128.6,270.96 127.16,269.09 125.72,271.12 124.28,271.91 122.84,270.71 121.4,269.86 119.96,272.01 118.52,272.18 117.08,268.27 115.64,268.35 114.2,268.99 112.76,266.2 111.32,266.9 109.88,269.06 108.44,264.08 107,266.87 105.56,266.8 104.12,265.2 102.68,266.2 101.24,270.14 99.8,272.05 98.36,269.79 96.92,267.77 95.48,269.54" fill="#8fd6ae" fill-opacity="0.5"/>
<polyline points="95.48,267.18 96.54,266.23 97.59,264.1 98.65,266.67 99.7,268.12 100.76,267.78 101.82,266.38 102.87,262.81 103.93,260.62 104.98,262.97 106.04,264.92 107.1,261.57 108.15,259.6 109.21,263.43 110.26,265.07 111.32,264.77 112.38,264.57 113.43,263.01 114.49,264.17 115.54,265.44 116.6,264.87 117.66,264.88 118.71,267.09 119.77,268.85 120.82,265.6 121.88,265.83 122.94,268.74 123.99,268.17 125.05,268.64 126.1,268.58 127.16,264.32 128.22,261.06 129.27,264.21 130.33,265.25 131.38,265.43 132.44,268.5 133.5,267.65 134.55,264.4 135.61,265.42 136.66,267.55 137.72,271.2 138.78,275.34 139.83,274.66 140.89,275.2 141.94,274.43 143,274.24 144.06,276.81 145.11,279.89 146.17,280.57 147.22,279.51 148.28,280.26 149.34,283.05 150.39,285.45 151.45,282.94 152.5,280.6 153.56,282.91 154.62,283.07 155.67,282.01 156.73,283.31 157.78,284.97 158.84,283.53 159.9,282.2 160.95,282.23 162.01,282.42 163.06,284.43 164.12,286.82 165.18,288.05 166.23,288.29 167.29,287.07 168.34,285.3 169.4,283.13 170.46,280.83 171.51,280.8 172.57,280.46 173.62,280.39 174.68,280.2 175.74,278.5 176.79,275.84 177.85,273.52 178.9,273.17 179.96,270.91 181.02,270.75 182.07,269.06 183.13,264.11 184.18,260.51 185.24,261.91 186.3,264.52 187.35,266.07 188.41,264.04 189.46,261.88 190.52,263.73 191.58,265.88 192.63,266.89 193.69,265.81 194.74,266.75 195.8,267.15 196.86,266.43 197.91,265.64 198.97,266.37 200.02,263.03 201.08,260.32 202.14,261.59 203.19,261.25 204.25,262.53 205.3,263.6 206.36,263.33 207.42,264.36 208.47,264.15 209.53,264.84 210.58,265.75 211.64,267.04 212.7,268.29 213.75,266.22 214.81,264.9 215.86,264.1 216.92,267.26 217.98,270.03 219.03,266.7 220.09,266.41 221.14,270.62 222.2,268.71 223.26,265.94 224.31,269.13 225.37,270.81 226.42,267.56 227.48,267.24 228.54,269.3 229.59,268.86 230.65,265.98 231.7,267.26 232.76,268.19 233.82,265.51 234.87,265.03 235.93,263.84 236.98,264.03 238.04,263.83 239.1,262.89 240.15,261.61 241.21,265.48 242.26,267.81 243.32,264.94 244.38,266.78 245.43,265.32 246.49,263.1 247.54,267.43 248.6,268.74 249.66,265.83 250.71,265.6 251.77,267.78 252.82,267.33 253.88,265.91 254.94,267.91 255.99,268.61 257.05,265.66 258.1,263.78 259.16,266.75 260.22,269.15 261.27,266.02 262.33,264.39 263.38,266.18 264.44,267.36 265.5,267.16 266.55,265.52 267.61,268.87 268.66,268.96 269.72,267.27 270.78,270.33 271.83,270.19 272.89,270.1 273.94,270.76 275,269.44 276.06,268.87 277.11,267.82 278.17,269.48 279.22,269.93 280.28,269.68" fill="none" stroke="#0ea44c" stroke-width="1.5" stroke-linejoin="round" />
<line x1="92.6" y1="266.3" x2="284.6" y2="266.3" stroke="#333" stroke-width="0.7" stroke-dasharray="1.6 1.6"/>
<polyline points="95.6,217.1 92.6,217.1 92.6,312.3 284.6,312.3" fill="none" stroke="#4a4a4a" stroke-width="1"/>
<line x1="124.6" y1="312.3" x2="124.6" y2="310.1" stroke="#4a4a4a" stroke-width="0.8" />
<line x1="156.6" y1="312.3" x2="156.6" y2="310.1" stroke="#4a4a4a" stroke-width="0.8" />
<line x1="188.6" y1="312.3" x2="188.6" y2="310.1" stroke="#4a4a4a" stroke-width="0.8" />
<line x1="220.6" y1="312.3" x2="220.6" y2="310.1" stroke="#4a4a4a" stroke-width="0.8" />
<line x1="252.6" y1="312.3" x2="252.6" y2="310.1" stroke="#4a4a4a" stroke-width="0.8" />
<line x1="284.6" y1="312.3" x2="284.6" y2="310.1" stroke="#4a4a4a" stroke-width="0.8" />
<line x1="92.6" y1="313.9" x2="94.8" y2="313.9" stroke="#4a4a4a" stroke-width="0.8" />
<text x="90.4" y="316.9" font-size="8.3" text-anchor="end" fill="#333" >-5</text>
<line x1="92.6" y1="266.3" x2="94.8" y2="266.3" stroke="#4a4a4a" stroke-width="0.8" />
<text x="90.4" y="269.3" font-size="8.3" text-anchor="end" fill="#333" >0</text>
<line x1="92.6" y1="218.7" x2="94.8" y2="218.7" stroke="#4a4a4a" stroke-width="0.8" />
<text x="90.4" y="221.7" font-size="8.3" text-anchor="end" fill="#333" >5</text>
<text x="24.2" y="263.6" font-size="16.0" text-anchor="middle" fill="#333" transform="rotate(-90 24.2 263.6)" >Smooth</text>
<text x="41.8" y="263.6" font-size="16.0" text-anchor="middle" fill="#333" transform="rotate(-90 41.8 263.6)" >muscle cells</text>
<text x="67.2" y="265.6" font-size="10.5" text-anchor="middle" fill="#333" transform="rotate(-90 67.2 265.6)" >Fluorescence</text>
<text x="77" y="265.6" font-size="10.5" text-anchor="middle" fill="#333" transform="rotate(-90 77 265.6)" >(z score)</text>
<text x="285.6" y="303" font-size="9.25" text-anchor="end" fill="#0ea44c" font-style="italic">NG2-GCaMP6</text>
<rect x="124.6" y="323.4" width="32" height="95.4" fill="#e3e3e3"/>
<polygon points="95.48,370.27 96.92,370.5 98.36,367.49 99.8,367.14 101.24,367.55 102.68,368.16 104.12,368.85 105.56,366.72 107,369.87 108.44,370.97 109.88,371.38 111.32,370.64 112.76,372.67 114.2,370.81 115.64,368.72 117.08,368.3 118.52,369.17 119.96,367.18 121.4,365.07 122.84,366.54 124.28,367.3 125.72,369.84 127.16,369.31 128.6,368.18 130.04,369.97 131.48,371.06 132.92,370.91 134.36,369.52 135.8,372.23 137.24,369.92 138.68,370.64 140.12,368.16 141.56,372.99 143,372.45 144.44,375.05 145.88,377.08 147.32,379.99 148.76,377.08 150.2,381.19 151.64,378.92 153.08,369.02 154.52,371.06 155.96,379.08 157.4,380.66 158.84,373.7 160.28,379.79 161.72,384.17 163.16,378.51 164.6,382.86 166.04,386.55 167.48,377.31 168.92,385.93 170.36,379.74 171.8,383.04 173.24,379.52 174.68,382.97 176.12,372.72 177.56,374.43 179,369.59 180.44,373.83 181.88,372.39 183.32,367.4 184.76,358.94 186.2,367.4 187.64,372.15 189.08,372.39 190.52,365.13 191.96,371.58 193.4,374.53 194.84,365.34 196.28,360.32 197.72,349.94 199.16,347.66 200.6,333.9 202.04,357.65 203.48,363.74 204.92,366.87 206.36,369.68 207.8,369.75 209.24,367.67 210.68,372.85 212.12,370.88 213.56,370.81 215,369.76 216.44,366.3 217.88,370.79 219.32,370.64 220.76,362.66 222.2,362.87 223.64,367.48 225.08,367.54 226.52,370.1 227.96,369.56 229.4,372.69 230.84,370.66 232.28,367.48 233.72,372.17 235.16,370.37 236.6,365.05 238.04,363.06 239.48,367.57 240.92,373.9 242.36,372.13 243.8,371.3 245.24,371 246.68,370.38 248.12,364.62 249.56,362.92 251,372.03 252.44,373.33 253.88,370.63 255.32,367.37 256.76,364.13 258.2,369.73 259.64,368.71 261.08,368.99 262.52,366.51 263.96,368.99 265.4,370.55 266.84,367.01 268.28,368.63 269.72,366.87 271.16,369.25 272.6,365.21 274.04,368.94 275.48,371.04 276.92,362.94 278.36,366.25 279.8,366.77 279.8,374.86 278.36,375.33 276.92,376.93 275.48,378.05 274.04,380.85 272.6,375.97 271.16,376.63 269.72,375.9 268.28,375.58 266.84,376.67 265.4,378.56 263.96,376.23 262.52,375.48 261.08,380.8 259.64,383.66 258.2,375.82 256.76,375.28 255.32,376.18 253.88,377.37 252.44,382.56 251,382.4 249.56,377.34 248.12,374.63 246.68,378.12 245.24,380.73 243.8,378.07 242.36,380.13 240.92,379.09 239.48,376.97 238.04,369.38 236.6,376.79 235.16,379.56 233.72,380.17 232.28,378.06 230.84,378.95 229.4,380.15 227.96,384.41 226.52,382.29 225.08,378.21 223.64,379.05 222.2,374.51 220.76,373.76 219.32,376.45 217.88,377.96 216.44,374.26 215,376.88 213.56,376.29 212.12,377.17 210.68,380.08 209.24,376.86 207.8,376.55 206.36,378.47 204.92,374.17 203.48,378.21 202.04,379.59 200.6,383.72 199.16,378.58 197.72,412.14 196.28,393.19 194.84,380.09 193.4,383.65 191.96,386.73 190.52,389.15 189.08,393.05 187.64,390.97 186.2,392.82 184.76,392.61 183.32,388.07 181.88,390.83 180.44,399.92 179,402.79 177.56,393.54 176.12,405.65 174.68,396.22 173.24,398.9 171.8,400.51 170.36,402.97 168.92,396.46 167.48,403.97 166.04,400.99 164.6,401.28 163.16,399.21 161.72,403.99 160.28,393.43 158.84,397.67 157.4,397.57 155.96,395.69 154.52,392.22 153.08,388.74 151.64,387.61 150.2,387.57 148.76,386.47 147.32,386.52 145.88,386.46 144.44,383.56 143,381.69 141.56,381.39 140.12,378.78 138.68,382.23 137.24,380.53 135.8,376.67 134.36,374.23 132.92,377.37 131.48,378.98 130.04,375.12 128.6,371.74 127.16,374.2 125.72,378.73 124.28,372.66 122.84,371.47 121.4,371.98 119.96,372.3 118.52,374.27 117.08,373.63 115.64,373.91 114.2,375.15 112.76,376.64 111.32,376.78 109.88,376.24 108.44,377.38 107,374.74 105.56,374.79 104.12,373.63 102.68,374.45 101.24,374.66 99.8,374.85 98.36,373.03 96.92,376.81 95.48,375.47" fill="#8fd6ae" fill-opacity="0.5"/>
<polyline points="95.48,372.02 96.54,375.06 97.59,372.24 98.65,370.9 99.7,371.31 100.76,372.35 101.82,371.45 102.87,369.55 103.93,370.97 104.98,370.81 106.04,370.53 107.1,373.47 108.15,373.84 109.21,374.21 110.26,373.75 111.32,372.75 112.38,374 113.43,374.31 114.49,371.85 115.54,370.58 116.6,372.27 117.66,371.99 118.71,370.48 119.77,369.66 120.82,369.98 121.88,370.05 122.94,367.86 123.99,369.15 125.05,372.91 126.1,373.62 127.16,372.25 128.22,369.77 129.27,370.92 130.33,373.75 131.38,374.93 132.44,373.22 133.5,371.41 134.55,371.87 135.61,374.09 136.66,374.83 137.72,374.23 138.78,375.03 139.83,374.79 140.89,375.53 141.94,376.42 143,377.26 144.06,378.42 145.11,378.29 146.17,381.29 147.22,383.23 148.28,382.59 149.34,383.74 150.39,384.18 151.45,381.99 152.5,383.5 153.56,384.92 154.62,386.74 155.67,389.22 156.73,387.42 157.78,386.88 158.84,386.84 159.9,387.25 160.95,389.16 162.01,391.34 163.06,390.17 164.12,390.28 165.18,393.64 166.23,395.38 167.29,394.79 168.34,392.47 169.4,390.92 170.46,390.56 171.51,390.87 172.57,390.75 173.62,388.48 174.68,388.28 175.74,387.67 176.79,387.36 177.85,387.68 178.9,386.52 179.96,386.86 181.02,384.89 182.07,383.12 183.13,383.05 184.18,381.05 185.24,379.75 186.3,378.79 187.35,378.82 188.41,379.59 189.46,378.84 190.52,379.82 191.58,380.94 192.63,379.71 193.69,378.14 194.74,374.22 195.8,372.53 196.86,371.77 197.91,366.22 198.97,363.63 200.02,364.44 201.08,365.86 202.14,367.77 203.19,369.27 204.25,371.15 205.3,370.43 206.36,373.77 207.42,374.43 208.47,371.87 209.53,373.37 210.58,375.76 211.64,374.86 212.7,373.57 213.75,373.3 214.81,372.5 215.86,370.59 216.92,370.89 217.98,374.4 219.03,373.78 220.09,372.04 221.14,370.47 222.2,369.75 223.26,371.23 224.31,370.5 225.37,372.71 226.42,375.69 227.48,375.45 228.54,375.23 229.59,375.96 230.65,374.68 231.7,373.23 232.76,376.21 233.82,377.31 234.87,374.77 235.93,372.14 236.98,369.74 238.04,366.8 239.1,368.83 240.15,374.01 241.21,377.35 242.26,375.53 243.32,373.62 244.38,374.43 245.43,374.03 246.49,373.6 247.54,371.4 248.6,371.07 249.66,372.81 250.71,374.51 251.77,376.65 252.82,375.98 253.88,373.86 254.94,370.88 255.99,370.71 257.05,371.85 258.1,372.78 259.16,375.78 260.22,376.34 261.27,375.63 262.33,371.35 263.38,371.41 264.44,373.08 265.5,373.11 266.55,372.91 267.61,371.08 268.66,372.48 269.72,372.98 270.78,373.57 271.83,372.83 272.89,372.45 273.94,374.6 275,375.6 276.06,373.58 277.11,369.59 278.17,369.49 279.22,371.68 280.28,371.39" fill="none" stroke="#0ea44c" stroke-width="1.5" stroke-linejoin="round" />
<line x1="92.6" y1="371.6" x2="284.6" y2="371.6" stroke="#333" stroke-width="0.7" stroke-dasharray="1.6 1.6"/>
<polyline points="95.6,323.4 92.6,323.4 92.6,418.8 284.6,418.8" fill="none" stroke="#4a4a4a" stroke-width="1"/>
<line x1="124.6" y1="418.8" x2="124.6" y2="416.6" stroke="#4a4a4a" stroke-width="0.8" />
<line x1="156.6" y1="418.8" x2="156.6" y2="416.6" stroke="#4a4a4a" stroke-width="0.8" />
<line x1="188.6" y1="418.8" x2="188.6" y2="416.6" stroke="#4a4a4a" stroke-width="0.8" />
<line x1="220.6" y1="418.8" x2="220.6" y2="416.6" stroke="#4a4a4a" stroke-width="0.8" />
<line x1="252.6" y1="418.8" x2="252.6" y2="416.6" stroke="#4a4a4a" stroke-width="0.8" />
<line x1="284.6" y1="418.8" x2="284.6" y2="416.6" stroke="#4a4a4a" stroke-width="0.8" />
<line x1="92.6" y1="419.3" x2="94.8" y2="419.3" stroke="#4a4a4a" stroke-width="0.8" />
<text x="90.4" y="422.3" font-size="8.3" text-anchor="end" fill="#333" >-5</text>
<line x1="92.6" y1="371.6" x2="94.8" y2="371.6" stroke="#4a4a4a" stroke-width="0.8" />
<text x="90.4" y="374.6" font-size="8.3" text-anchor="end" fill="#333" >0</text>
<line x1="92.6" y1="323.9" x2="94.8" y2="323.9" stroke="#4a4a4a" stroke-width="0.8" />
<text x="90.4" y="326.9" font-size="8.3" text-anchor="end" fill="#333" >5</text>
<text x="24.2" y="372.7" font-size="16.0" text-anchor="middle" fill="#333" transform="rotate(-90 24.2 372.7)" >Endothelial</text>
<text x="41.8" y="372.7" font-size="16.0" text-anchor="middle" fill="#333" transform="rotate(-90 41.8 372.7)" >cells</text>
<text x="67.2" y="372.8" font-size="10.5" text-anchor="middle" fill="#333" transform="rotate(-90 67.2 372.8)" >Fluorescence</text>
<text x="77" y="372.8" font-size="10.5" text-anchor="middle" fill="#333" transform="rotate(-90 77 372.8)" >(z score)</text>
<text x="247.8" y="399.7" font-size="9.25" text-anchor="middle" fill="#0ea44c" font-style="italic">VeCadh-GCaMP6</text>
<text x="247.8" y="409.7" font-size="9.25" text-anchor="middle" fill="#0ea44c" font-style="italic">Cdh5-GCaMP8</text>
<rect x="124.6" y="431.5" width="32" height="95.3" fill="#e3e3e3"/>
<polygon points="95.48,460.79 96.92,458.01 98.36,456.61 99.8,459.11 101.24,455.93 102.68,456.16 104.12,460.38 105.56,461.19 107,459.71 108.44,459.41 109.88,457.38 111.32,461.93 112.76,457.56 114.2,463.32 115.64,464.18 117.08,461.65 118.52,457.58 119.96,460.68 121.4,462.67 122.84,463.16 124.28,459.84 125.72,459.75 127.16,460.51 128.6,464.71 130.04,461.48 131.48,460.75 132.92,463.65 134.36,465.1 135.8,459.51 137.24,464.22 138.68,460.2 140.12,469.75 141.56,470.64 143,470.1 144.44,478.05 145.88,467.77 147.32,467.43 148.76,473.61 150.2,477.59 151.64,481.95 153.08,472.82 154.52,476.09 155.96,484.94 157.4,475.36 158.84,480.67 160.28,482.49 161.72,483.07 163.16,487.51 164.6,489.1 166.04,487.61 167.48,478.04 168.92,482.86 170.36,462.92 171.8,479.77 173.24,473.68 174.68,481.35 176.12,470.61 177.56,478.29 179,480.52 180.44,470.19 181.88,470.59 183.32,468.96 184.76,476.03 186.2,468.81 187.64,469.14 189.08,459.89 190.52,465.93 191.96,465.33 193.4,461.75 194.84,456.36 196.28,454.8 197.72,458.22 199.16,459.92 200.6,457.06 202.04,458.78 203.48,462.55 204.92,464.13 206.36,455.78 207.8,460.18 209.24,458.38 210.68,457.27 212.12,460.63 213.56,456.82 215,462.54 216.44,466.14 217.88,459.56 219.32,462.87 220.76,461.52 222.2,460.53 223.64,463.42 225.08,462.72 226.52,462.72 227.96,458.66 229.4,458.81 230.84,449.84 232.28,452.54 233.72,460.6 235.16,448.43 236.6,457.11 238.04,461.86 239.48,458.44 240.92,461.63 242.36,459.76 243.8,457.2 245.24,457.05 246.68,463.33 248.12,456.32 249.56,459.7 251,462.84 252.44,457.51 253.88,458.41 255.32,462.55 256.76,451.07 258.2,463.53 259.64,458.84 261.08,457.79 262.52,459.37 263.96,461.28 265.4,454.8 266.84,457.98 268.28,464.18 269.72,468.02 271.16,457.38 272.6,457.53 274.04,462.26 275.48,462.8 276.92,466.34 278.36,463.54 279.8,465.4 279.8,488.28 278.36,482.88 276.92,486.43 275.48,488.97 274.04,481.68 272.6,489.68 271.16,482.21 269.72,483.94 268.28,487.95 266.84,482.34 265.4,490.09 263.96,478.68 262.52,480.38 261.08,485.15 259.64,480.55 258.2,478.31 256.76,474.91 255.32,489.85 253.88,484 252.44,483.44 251,477.34 249.56,477.64 248.12,481.68 246.68,482.88 245.24,482.59 243.8,473.13 242.36,491.99 240.92,485.73 239.48,490.24 238.04,479.63 236.6,477.17 235.16,482.84 233.72,481.91 232.28,482.92 230.84,474.65 229.4,472.98 227.96,476.36 226.52,480.96 225.08,476.5 223.64,484.68 222.2,476.44 220.76,483.37 219.32,488.86 217.88,490.91 216.44,487.17 215,479.23 213.56,477.99 212.12,490.37 210.68,480.63 209.24,481.72 207.8,479.42 206.36,483.22 204.92,490.83 203.48,477.5 202.04,480.39 200.6,475.52 199.16,487.43 197.72,480.43 196.28,478.49 194.84,492.32 193.4,487.06 191.96,482.21 190.52,484.86 189.08,500.9 187.64,492.61 186.2,490.62 184.76,499.67 183.32,500.58 181.88,495.56 180.44,499.67 179,499.63 177.56,506.41 176.12,501.4 174.68,510.19 173.24,510.99 171.8,519.26 170.36,502.24 168.92,504.93 167.48,507.64 166.04,518.69 164.6,517.79 163.16,516.16 161.72,505.87 160.28,502.9 158.84,506.26 157.4,508.3 155.96,499.53 154.52,493.15 153.08,501.07 151.64,495.97 150.2,491.43 148.76,496.71 147.32,492.29 145.88,489.68 144.44,490.11 143,489.76 141.56,485.75 140.12,481.3 138.68,478.77 137.24,482.02 135.8,480.78 134.36,478.18 132.92,467.29 131.48,468.71 130.04,468.17 128.6,470.69 127.16,463.94 125.72,467.65 124.28,464.71 122.84,467.86 121.4,468.22 119.96,465.26 118.52,466.8 117.08,468.15 115.64,468.1 114.2,469.84 112.76,463.93 111.32,466.14 109.88,465.12 108.44,466.33 107,465.43 105.56,464.96 104.12,466.79 102.68,464.41 101.24,463.07 99.8,465.76 98.36,462.92 96.92,463.64 95.48,466.78" fill="#8fd6ae" fill-opacity="0.5"/>
<polyline points="95.48,464.17 96.54,461.93 97.59,459.52 98.65,460.87 99.7,462.27 100.76,461.2 101.82,459.17 102.87,461.05 103.93,462.98 104.98,463.19 106.04,463.42 107.1,462.79 108.15,462.44 109.21,461.88 110.26,461.95 111.32,463.64 112.38,461.49 113.43,462.41 114.49,467.05 115.54,465.77 116.6,466.46 117.66,466.6 118.71,462.44 119.77,462.71 120.82,464.03 121.88,466.84 122.94,465.94 123.99,462.46 125.05,464.65 126.1,462.43 127.16,462.34 128.22,467 129.27,467.48 130.33,464.85 131.38,462.47 132.44,463.94 133.5,466.88 134.55,470.61 135.61,471.03 136.66,470.55 137.72,472.16 138.78,470.39 139.83,473.75 140.89,478.98 141.94,478.95 143,480.94 144.06,483.09 145.11,482.02 146.17,482.71 147.22,483.78 148.28,484 149.34,487.03 150.39,486.54 151.45,487.61 152.5,489.55 153.56,488.64 154.62,488.11 155.67,490.59 156.73,493.92 157.78,493.41 158.84,493.3 159.9,492.86 160.95,493.56 162.01,496.99 163.06,498.49 164.12,498.16 165.18,500.87 166.23,500.69 167.29,494.79 168.34,493.69 169.4,492.25 170.46,492.3 171.51,495.1 172.57,492.94 173.62,494.6 174.68,495.69 175.74,487.98 176.79,486.56 177.85,488.56 178.9,489.15 179.96,488.24 181.02,485.64 182.07,481.59 183.13,481.27 184.18,486.26 185.24,483.16 186.3,476.12 187.35,476.43 188.41,479.83 189.46,479.61 190.52,475.89 191.58,474.55 192.63,474.43 193.69,476.22 194.74,476.33 195.8,471.41 196.86,470.41 197.91,472.22 198.97,470.28 200.02,467.57 201.08,469.65 202.14,472.02 203.19,469.67 204.25,469.43 205.3,471.41 206.36,468.24 207.42,467.78 208.47,470.82 209.53,473.63 210.58,472.78 211.64,470.08 212.7,470.85 213.75,469.34 214.81,470.12 215.86,473.39 216.92,472.58 217.98,470.37 219.03,471.25 220.09,472.68 221.14,471.75 222.2,470.26 223.26,470.14 224.31,468.81 225.37,470.89 226.42,471.72 227.48,469.56 228.54,469.52 229.59,466.06 230.65,466.81 231.7,469.26 232.76,468.05 233.82,470.12 234.87,470.31 235.93,467.36 236.98,468.39 238.04,468.57 239.1,468.16 240.15,470.04 241.21,471.95 242.26,469.54 243.32,465.29 244.38,467.64 245.43,469.51 246.49,470.04 247.54,471.14 248.6,470.25 249.66,471.4 250.71,471.07 251.77,468.42 252.82,467.81 253.88,470.1 254.94,469.17 255.99,468.42 257.05,468.14 258.1,470.46 259.16,469 260.22,467.4 261.27,473.03 262.33,474.16 263.38,471.22 264.44,468.47 265.5,468.56 266.55,468.9 267.61,471.46 268.66,472.44 269.72,474.56 270.78,476.05 271.83,472.51 272.89,474.37 273.94,472.56 275,468.79 276.06,474.07 277.11,475.31 278.17,473.36 279.22,474.53 280.28,474.48" fill="none" stroke="#0ea44c" stroke-width="1.5" stroke-linejoin="round" />
<line x1="92.6" y1="463.5" x2="284.6" y2="463.5" stroke="#333" stroke-width="0.7" stroke-dasharray="1.6 1.6"/>
<polyline points="95.6,431.5 92.6,431.5 92.6,526.8 284.6,526.8" fill="none" stroke="#4a4a4a" stroke-width="1"/>
<line x1="124.6" y1="526.8" x2="124.6" y2="524.6" stroke="#4a4a4a" stroke-width="0.8" />
<line x1="156.6" y1="526.8" x2="156.6" y2="524.6" stroke="#4a4a4a" stroke-width="0.8" />
<line x1="188.6" y1="526.8" x2="188.6" y2="524.6" stroke="#4a4a4a" stroke-width="0.8" />
<line x1="220.6" y1="526.8" x2="220.6" y2="524.6" stroke="#4a4a4a" stroke-width="0.8" />
<line x1="252.6" y1="526.8" x2="252.6" y2="524.6" stroke="#4a4a4a" stroke-width="0.8" />
<line x1="284.6" y1="526.8" x2="284.6" y2="524.6" stroke="#4a4a4a" stroke-width="0.8" />
<line x1="92.6" y1="527.03" x2="94.8" y2="527.03" stroke="#4a4a4a" stroke-width="0.8" />
<text x="90.4" y="530.03" font-size="8.3" text-anchor="end" fill="#333" >-10</text>
<line x1="92.6" y1="495.27" x2="94.8" y2="495.27" stroke="#4a4a4a" stroke-width="0.8" />
<text x="90.4" y="498.27" font-size="8.3" text-anchor="end" fill="#333" >-5</text>
<line x1="92.6" y1="463.5" x2="94.8" y2="463.5" stroke="#4a4a4a" stroke-width="0.8" />
<text x="90.4" y="466.5" font-size="8.3" text-anchor="end" fill="#333" >0</text>
<line x1="92.6" y1="431.73" x2="94.8" y2="431.73" stroke="#4a4a4a" stroke-width="0.8" />
<text x="90.4" y="434.73" font-size="8.3" text-anchor="end" fill="#333" >5</text>
<text x="24.2" y="480.5" font-size="16.0" text-anchor="middle" fill="#333" transform="rotate(-90 24.2 480.5)" >Astrocyte</text>
<text x="41.8" y="480.5" font-size="16.0" text-anchor="middle" fill="#333" transform="rotate(-90 41.8 480.5)" >endfeets</text>
<text x="67.2" y="479.8" font-size="10.5" text-anchor="middle" fill="#333" transform="rotate(-90 67.2 479.8)" >Fluorescence</text>
<text x="77" y="479.8" font-size="10.5" text-anchor="middle" fill="#333" transform="rotate(-90 77 479.8)" >(z score)</text>
<text x="247.8" y="502" font-size="9.25" text-anchor="middle" fill="#0ea44c" font-style="italic">Cx30-GCaMP6</text>
<text x="247.8" y="512.6" font-size="9.25" text-anchor="middle" fill="#0ea44c" font-style="italic">Aldh1l1-GCaMP6</text>
<rect x="124.6" y="537.4" width="32" height="95.4" fill="#e3e3e3"/>
<polygon points="95.48,575.54 96.92,581.28 98.36,577.8 99.8,581.66 101.24,579.22 102.68,580.77 104.12,582.66 105.56,579.02 107,577.93 108.44,580.16 109.88,577.94 111.32,575.31 112.76,579.89 114.2,581.95 115.64,583.3 117.08,583.76 118.52,580.78 119.96,583.32 121.4,577.32 122.84,580.69 124.28,582.89 125.72,580.57 127.16,582.82 128.6,575.87 130.04,580.83 131.48,581.88 132.92,581.02 134.36,582.12 135.8,579.87 137.24,575.58 138.68,570.02 140.12,577.68 141.56,586.31 143,581.18 144.44,589.6 145.88,587.64 147.32,592.6 148.76,589.62 150.2,592.23 151.64,590.23 153.08,592.37 154.52,591.15 155.96,595.58 157.4,596.61 158.84,597.36 160.28,602.75 161.72,593.87 163.16,604.22 164.6,605.31 166.04,606.55 167.48,596.7 168.92,601.8 170.36,572.85 171.8,581.86 173.24,588.64 174.68,582.62 176.12,581.1 177.56,580.49 179,573.09 180.44,577.98 181.88,573.53 183.32,575.13 184.76,581.65 186.2,587.15 187.64,577.56 189.08,580.61 190.52,582.92 191.96,584.44 193.4,585.09 194.84,586.99 196.28,586.67 197.72,583.25 199.16,582.38 200.6,582.68 202.04,585.83 203.48,587.02 204.92,590.27 206.36,585.5 207.8,583.36 209.24,581.19 210.68,586.55 212.12,586.28 213.56,580.46 215,584.22 216.44,583.23 217.88,579.24 219.32,586.39 220.76,582.57 222.2,582.96 223.64,585.88 225.08,581.45 226.52,576.94 227.96,581.63 229.4,579.45 230.84,586.51 232.28,577.95 233.72,576.21 235.16,583.78 236.6,584.63 238.04,579.49 239.48,578.68 240.92,574.88 242.36,573.5 243.8,579.43 245.24,571.96 246.68,582.18 248.12,581.53 249.56,582.88 251,584.7 252.44,584.54 253.88,582.66 255.32,576.91 256.76,584.06 258.2,583.23 259.64,582.15 261.08,577.35 262.52,580.95 263.96,579.11 265.4,578.05 266.84,580.43 268.28,577.99 269.72,579.72 271.16,583.54 272.6,582.9 274.04,583.65 275.48,583.81 276.92,577.65 278.36,580.08 279.8,580.35 279.8,594.69 278.36,589.38 276.92,590.72 275.48,596.5 274.04,594.75 272.6,590.48 271.16,593.71 269.72,594.95 268.28,590.61 266.84,596.26 265.4,590.77 263.96,592.41 262.52,589.94 261.08,590.56 259.64,591.36 258.2,593.9 256.76,591.24 255.32,588.59 253.88,591.94 252.44,596.61 251,596.09 249.56,593.89 248.12,592.32 246.68,589.7 245.24,587.58 243.8,592.55 242.36,591 240.92,588.13 239.48,588.95 238.04,588.09 236.6,593.36 235.16,602.19 233.72,592.89 232.28,592.99 230.84,600.11 229.4,590.98 227.96,590.89 226.52,591.48 225.08,592.45 223.64,598.16 222.2,596.39 220.76,593.67 219.32,595.24 217.88,590.02 216.44,592.02 215,597.19 213.56,593.73 212.12,596.63 210.68,594.5 209.24,594.67 207.8,593.43 206.36,594.99 204.92,603.58 203.48,599.62 202.04,597.6 200.6,595.29 199.16,592.13 197.72,596.96 196.28,599.68 194.84,599.15 193.4,595.7 191.96,591.21 190.52,591.88 189.08,597.17 187.64,593.23 186.2,599.87 184.76,601.81 183.32,611.2 181.88,605.25 180.44,605.79 179,605.98 177.56,616.61 176.12,603.02 174.68,613.41 173.24,614.33 171.8,623.83 170.36,625.1 168.92,619.15 167.48,625.38 166.04,630.37 164.6,626.8 163.16,628.83 161.72,635.61 160.28,625.79 158.84,620.65 157.4,626.86 155.96,613.49 154.52,622.41 153.08,625.34 151.64,624.97 150.2,614.4 148.76,610.48 147.32,605.16 145.88,604.71 144.44,601.51 143,602.72 141.56,606.28 140.12,596.93 138.68,592.07 137.24,593.36 135.8,588.6 134.36,587.63 132.92,586.01 131.48,587.08 130.04,589.12 128.6,584.86 127.16,589.08 125.72,596.01 124.28,588.51 122.84,591.09 121.4,588.02 119.96,590.04 118.52,588.58 117.08,590.96 115.64,591.08 114.2,591.22 112.76,586.81 111.32,586.49 109.88,588.74 108.44,591.27 107,587.52 105.56,587.88 104.12,589.58 102.68,588.17 101.24,588.33 99.8,592.49 98.36,589.21 96.92,588.03 95.48,589.44" fill="#8fd6ae" fill-opacity="0.5"/>
<polyline points="95.48,581.6 96.54,582.73 97.59,584.73 98.65,587.27 99.7,586.2 100.76,585.25 101.82,584.37 102.87,583.13 103.93,585 104.98,584.66 106.04,582.42 107.1,582.28 108.15,584.05 109.21,584.23 110.26,583.39 111.32,583.34 112.38,583.55 113.43,586.61 114.49,588.97 115.54,587.02 116.6,588.18 117.66,587.47 118.71,585.83 119.77,586.99 120.82,583.42 121.88,582.78 122.94,585.39 123.99,585.15 125.05,585.11 126.1,586.58 127.16,586.34 128.22,582.64 129.27,581.5 130.33,583.57 131.38,584.23 132.44,583.51 133.5,582.77 134.55,584.95 135.61,585.37 136.66,584.4 137.72,583.02 138.78,584.55 139.83,586.76 140.89,589.61 141.94,592.46 143,593.28 144.06,596.12 145.11,595.31 146.17,596.68 147.22,599.15 148.28,600 149.34,600.6 150.39,600.59 151.45,605.39 152.5,606.15 153.56,605.36 154.62,604.84 155.67,603.87 156.73,606.34 157.78,611.79 158.84,611.75 159.9,609.52 160.95,614.37 162.01,614.62 163.06,611.7 164.12,614.86 165.18,615.79 166.23,613.61 167.29,613.13 168.34,610.6 169.4,608.29 170.46,604.81 171.51,601.33 172.57,598.82 173.62,595.89 174.68,596.3 175.74,595.34 176.79,595.06 177.85,594.63 178.9,593.53 179.96,594.1 181.02,590.83 182.07,590.04 183.13,590.28 184.18,591.47 185.24,593.29 186.3,590.9 187.35,588.21 188.41,590.69 189.46,590.51 190.52,588.47 191.58,587.41 192.63,588.01 193.69,591.5 194.74,590.52 195.8,591.2 196.86,591.42 197.91,590.03 198.97,588.4 200.02,587.82 201.08,591.18 202.14,593.31 203.19,592.87 204.25,593.81 205.3,595.34 206.36,589.78 207.42,588 208.47,589.04 209.53,588.87 210.58,591.06 211.64,592.3 212.7,590.04 213.75,588.25 214.81,587.66 215.86,588.02 216.92,588.48 217.98,585.52 219.03,589.18 220.09,590.51 221.14,589.83 222.2,591.93 223.26,590.34 224.31,587.65 225.37,585.94 226.42,587.4 227.48,587.81 228.54,586.54 229.59,587.8 230.65,589.75 231.7,589.61 232.76,583.57 233.82,584.81 234.87,589.67 235.93,589.54 236.98,587.4 238.04,583.72 239.1,583.7 240.15,583.39 241.21,585.22 242.26,585.55 243.32,586.49 244.38,586.58 245.43,583.4 246.49,586.26 247.54,586.92 248.6,587.46 249.66,590.54 250.71,590.89 251.77,590.42 252.82,590.08 253.88,588.74 254.94,584.87 255.99,585.06 257.05,588.56 258.1,587.3 259.16,586.49 260.22,587.28 261.27,586.42 262.33,585.95 263.38,587.41 264.44,588.34 265.5,586.15 266.55,586.33 267.61,587.91 268.66,586.99 269.72,586.1 270.78,586.94 271.83,586.75 272.89,586.33 273.94,588.86 275,587.98 276.06,587.38 277.11,584.11 278.17,582.53 279.22,587.06 280.28,586.3" fill="none" stroke="#0ea44c" stroke-width="1.5" stroke-linejoin="round" />
<line x1="92.6" y1="585.5" x2="284.6" y2="585.5" stroke="#333" stroke-width="0.7" stroke-dasharray="1.6 1.6"/>
<polyline points="95.6,537.4 92.6,537.4 92.6,632.8 284.6,632.8" fill="none" stroke="#4a4a4a" stroke-width="1"/>
<line x1="124.6" y1="632.8" x2="124.6" y2="630.6" stroke="#4a4a4a" stroke-width="0.8" />
<line x1="156.6" y1="632.8" x2="156.6" y2="630.6" stroke="#4a4a4a" stroke-width="0.8" />
<line x1="188.6" y1="632.8" x2="188.6" y2="630.6" stroke="#4a4a4a" stroke-width="0.8" />
<line x1="220.6" y1="632.8" x2="220.6" y2="630.6" stroke="#4a4a4a" stroke-width="0.8" />
<line x1="252.6" y1="632.8" x2="252.6" y2="630.6" stroke="#4a4a4a" stroke-width="0.8" />
<line x1="284.6" y1="632.8" x2="284.6" y2="630.6" stroke="#4a4a4a" stroke-width="0.8" />
<line x1="92.6" y1="633.2" x2="94.8" y2="633.2" stroke="#4a4a4a" stroke-width="0.8" />
<text x="90.4" y="636.2" font-size="8.3" text-anchor="end" fill="#333" >-5</text>
<line x1="92.6" y1="585.5" x2="94.8" y2="585.5" stroke="#4a4a4a" stroke-width="0.8" />
<text x="90.4" y="588.5" font-size="8.3" text-anchor="end" fill="#333" >0</text>
<line x1="92.6" y1="537.8" x2="94.8" y2="537.8" stroke="#4a4a4a" stroke-width="0.8" />
<text x="90.4" y="540.8" font-size="8.3" text-anchor="end" fill="#333" >5</text>
<text x="31.8" y="586.3" font-size="16.0" text-anchor="middle" fill="#333" transform="rotate(-90 31.8 586.3)" >Neuropil</text>
<text x="67.2" y="586.3" font-size="10.5" text-anchor="middle" fill="#333" transform="rotate(-90 67.2 586.3)" >Fluorescence</text>
<text x="77" y="586.3" font-size="10.5" text-anchor="middle" fill="#333" transform="rotate(-90 77 586.3)" >(z score)</text>
<text x="285.6" y="619.4" font-size="9.25" text-anchor="end" fill="#0ea44c" font-style="italic">Thy1-GCaMP6</text>
<text x="92.6" y="642" font-size="8.4" text-anchor="middle" fill="#333" >0</text>
<text x="124.6" y="642" font-size="8.4" text-anchor="middle" fill="#333" >10</text>
<text x="156.6" y="642" font-size="8.4" text-anchor="middle" fill="#333" >20</text>
<text x="188.6" y="642" font-size="8.4" text-anchor="middle" fill="#333" >30</text>
<text x="220.6" y="642" font-size="8.4" text-anchor="middle" fill="#333" >40</text>
<text x="252.6" y="642" font-size="8.4" text-anchor="middle" fill="#333" >50</text>
<text x="284.6" y="642" font-size="8.4" text-anchor="middle" fill="#333" >60</text>
<text x="188.6" y="652.3" font-size="9" text-anchor="middle" fill="#333" >Time (s)</text>
<line x1="139" y1="171" x2="139" y2="622.5" stroke="#444" stroke-width="0.8" stroke-dasharray="1.2 1.8"/>
<polygon points="135.7,622.6 142.3,622.6 139,629" fill="#111"/>
<text x="350.5" y="16" font-size="18.5" text-anchor="start" fill="#333" >c</text>
<g transform="translate(0,0)">
<path d="M373.5,21.1 V33.9 M370,27.8 H376.6" fill="none" stroke="#151515" stroke-width="0.75" stroke-linejoin="round"/>
<text x="378.6" y="29.7" font-size="5.07" text-anchor="middle" fill="#111">O</text>
<path d="M380.5,27.9 H385.2 L388.2,36.6" fill="none" stroke="#151515" stroke-width="0.75" stroke-linejoin="round"/>
<path d="M381,36.7 L388.2,37.4 L394.6,36.1 M397.8,37 L400.4,42 L394.3,41.6 L385.2,42.8 L381,36.7" fill="none" stroke="#151515" stroke-width="0.75" stroke-linejoin="round"/>
<path d="M385.2,42.8 L387,40 L394.3,41.6" fill="none" stroke="#151515" stroke-width="1.1" stroke-linejoin="round"/>
<text x="396.2" y="37.9" font-size="5.07" text-anchor="middle" fill="#111">O</text>
<text x="371.6" y="39.9" font-size="5.07" text-anchor="middle" fill="#111">HO</text>
<path d="M374.5,38.2 H381" fill="none" stroke="#151515" stroke-width="0.75" stroke-linejoin="round"/>
<text x="374.5" y="44.9" font-size="5.07" text-anchor="middle" fill="#111">HO</text>
<path d="M377.4,43.2 H385.2" fill="none" stroke="#151515" stroke-width="0.75" stroke-linejoin="round"/>
<path d="M400.4,42.1 L406.6,41" fill="none" stroke="#151515" stroke-width="0.75" stroke-linejoin="round"/>
<text x="409" y="42.7" font-size="5.07" text-anchor="middle" fill="#111">O</text>
<path d="M411,41 H416 M414.5,33.9 V46.7" fill="none" stroke="#151515" stroke-width="0.75" stroke-linejoin="round"/>
<text x="418.2" y="49.5" font-size="4.72" text-anchor="middle" fill="#111">n</text>
<path d="M394.3,41.6 L396.4,47" fill="none" stroke="#151515" stroke-width="0.75" stroke-linejoin="round"/>
<text x="396.5" y="50.5" font-size="5.07" text-anchor="middle" fill="#111">O</text>
<path d="M397.5,51 L400.4,57.7 L395.5,63.9 L399.8,71.8 L395,77" fill="none" stroke="#151515" stroke-width="0.75" stroke-linejoin="round"/>
<text x="385.5" y="65.1" font-size="5.07" text-anchor="middle" fill="#111">HO</text>
<path d="M388.5,63.6 H395.5" fill="none" stroke="#151515" stroke-width="0.75" stroke-linejoin="round"/>
<text x="393.8" y="80.5" font-size="5.07" text-anchor="middle" fill="#111">O</text>
<path d="M394.6,81 L398,86.5 L406.5,85.8" fill="none" stroke="#151515" stroke-width="0.75" stroke-linejoin="round"/>
</g>
<path d="M406.5,85.8 L411.4,80.3 L418,83.4 M418.2,85.5 L417.5,90.6 M415.6,93 L410.6,93.2 L406.5,85.8 M408,86.2 L411.8,81.8 M409,92 L406.8,86.6" fill="none" stroke="#151515" stroke-width="0.75" stroke-linejoin="round"/>
<text x="419" y="85.7" font-size="5.07" text-anchor="middle" fill="#111">N</text>
<text x="417.8" y="94.1" font-size="5.07" text-anchor="middle" fill="#111">N</text>
<text x="412.6" y="94.9" font-size="5.07" text-anchor="middle" fill="#111">N</text>
<path d="M420.2,84.4 L427.3,87.7 L434.3,82.6 L434.3,75.3 L440.3,71.8" fill="none" stroke="#151515" stroke-width="0.75" stroke-linejoin="round"/>
<text x="442" y="72.5" font-size="5.07" text-anchor="middle" fill="#111">N</text>
<text x="441.6" y="67.5" font-size="5.07" text-anchor="middle" fill="#111">H</text>
<path d="M443.6,72 L448.4,74.7 L455,71.2 M448.4,74.7 L448.4,83.8 M448.6,73.6 L455,70" fill="none" stroke="#151515" stroke-width="0.75" stroke-linejoin="round"/>
<text x="457.4" y="72.7" font-size="5.07" text-anchor="middle" fill="#111">O</text>
<polygon points="448.4,83.7 455.41,87.75 455.41,95.85 448.4,99.9 441.39,95.85 441.39,87.75" fill="#22e622" stroke="#222" stroke-width="0.8"/>
<line x1="449.22" y1="85.96" x2="453.05" y2="88.17" stroke="#222" stroke-width="0.8"/>
<line x1="453.05" y1="95.43" x2="449.22" y2="97.64" stroke="#222" stroke-width="0.8"/>
<line x1="442.93" y1="94.01" x2="442.93" y2="89.59" stroke="#222" stroke-width="0.8"/>
<path d="M455.4,95.8 L461.4,99.6" fill="none" stroke="#151515" stroke-width="0.75" stroke-linejoin="round"/>
<text x="461.4" y="102.3" font-size="5.07" text-anchor="start" fill="#111">COO<tspan font-size="2.6" dy="-1.5">-</tspan></text>
<path d="M448.4,99.9 L448.4,108.9" fill="none" stroke="#151515" stroke-width="0.75" stroke-linejoin="round"/>
<polygon points="434.3,109.2 441.31,113.25 441.31,121.35 434.3,125.4 427.29,121.35 427.29,113.25" fill="#22e622" stroke="#222" stroke-width="0.8"/>
<line x1="435.12" y1="111.46" x2="438.95" y2="113.67" stroke="#222" stroke-width="0.8"/>
<line x1="438.95" y1="120.93" x2="435.12" y2="123.14" stroke="#222" stroke-width="0.8"/>
<line x1="428.83" y1="119.51" x2="428.83" y2="115.09" stroke="#222" stroke-width="0.8"/>
<polygon points="448.4,109.2 455.41,113.25 455.41,121.35 448.4,125.4 441.39,121.35 441.39,113.25" fill="#22e622" stroke="#222" stroke-width="0.8"/>
<line x1="449.22" y1="111.46" x2="453.05" y2="113.67" stroke="#222" stroke-width="0.8"/>
<line x1="453.05" y1="120.93" x2="449.22" y2="123.14" stroke="#222" stroke-width="0.8"/>
<line x1="442.93" y1="119.51" x2="442.93" y2="115.09" stroke="#222" stroke-width="0.8"/>
<polygon points="462.5,109.2 469.51,113.25 469.51,121.35 462.5,125.4 455.49,121.35 455.49,113.25" fill="#22e622" stroke="#222" stroke-width="0.8"/>
<line x1="463.32" y1="111.46" x2="467.15" y2="113.67" stroke="#222" stroke-width="0.8"/>
<line x1="467.15" y1="120.93" x2="463.32" y2="123.14" stroke="#222" stroke-width="0.8"/>
<line x1="457.03" y1="119.51" x2="457.03" y2="115.09" stroke="#222" stroke-width="0.8"/>
<rect x="446.8" y="123.5" width="3.2" height="3.6" fill="#fff"/>
<text x="448.4" y="127.7" font-size="4.72" text-anchor="middle" fill="#111">O</text>
<path d="M427.3,121.3 L421.5,124.6" fill="none" stroke="#151515" stroke-width="0.75" stroke-linejoin="round"/>
<text x="416.4" y="127.5" font-size="5.07" text-anchor="middle" fill="#111">H<tspan font-size="2.6" dy="1">2</tspan><tspan dy="-1">N</tspan></text>
<path d="M434.3,125.4 L434.3,131.5 M462.5,125.4 L462.5,131.5" fill="none" stroke="#151515" stroke-width="0.75" stroke-linejoin="round"/>
<text x="436.4" y="135.8" font-size="5.07" text-anchor="middle" fill="#111">SO<tspan font-size="2.6" dy="1">3</tspan><tspan font-size="2.6" dy="-2.5">-</tspan></text>
<text x="466.4" y="135.8" font-size="5.07" text-anchor="middle" fill="#111">SO<tspan font-size="2.6" dy="1">3</tspan><tspan font-size="2.6" dy="-2.5">-</tspan></text>
<path d="M469.5,121.3 L475.5,124.2 M469.2,122.8 L474.8,125.6" fill="none" stroke="#151515" stroke-width="0.75" stroke-linejoin="round"/>
<text x="480.4" y="127.7" font-size="5.07" text-anchor="middle" fill="#111">NH<tspan font-size="2.6" dy="1">2</tspan></text>
<text x="477.6" y="121.9" font-size="4.48" text-anchor="middle" fill="#111">+</text>
<g transform="translate(157.2,13.2)">
<path d="M373.5,21.1 V33.9 M370,27.8 H376.6" fill="none" stroke="#151515" stroke-width="0.75" stroke-linejoin="round"/>
<text x="378.6" y="29.7" font-size="5.07" text-anchor="middle" fill="#111">O</text>
<path d="M380.5,27.9 H385.2 L388.2,36.6" fill="none" stroke="#151515" stroke-width="0.75" stroke-linejoin="round"/>
<path d="M381,36.7 L388.2,37.4 L394.6,36.1 M397.8,37 L400.4,42 L394.3,41.6 L385.2,42.8 L381,36.7" fill="none" stroke="#151515" stroke-width="0.75" stroke-linejoin="round"/>
<path d="M385.2,42.8 L387,40 L394.3,41.6" fill="none" stroke="#151515" stroke-width="1.1" stroke-linejoin="round"/>
<text x="396.2" y="37.9" font-size="5.07" text-anchor="middle" fill="#111">O</text>
<text x="371.6" y="39.9" font-size="5.07" text-anchor="middle" fill="#111">HO</text>
<path d="M374.5,38.2 H381" fill="none" stroke="#151515" stroke-width="0.75" stroke-linejoin="round"/>
<text x="374.5" y="44.9" font-size="5.07" text-anchor="middle" fill="#111">HO</text>
<path d="M377.4,43.2 H385.2" fill="none" stroke="#151515" stroke-width="0.75" stroke-linejoin="round"/>
<path d="M400.4,42.1 L406.6,41" fill="none" stroke="#151515" stroke-width="0.75" stroke-linejoin="round"/>
<text x="409" y="42.7" font-size="5.07" text-anchor="middle" fill="#111">O</text>
<path d="M411,41 H416 M414.5,33.9 V46.7" fill="none" stroke="#151515" stroke-width="0.75" stroke-linejoin="round"/>
<text x="418.2" y="49.5" font-size="4.72" text-anchor="middle" fill="#111">n</text>
<path d="M394.3,41.6 L396.4,47" fill="none" stroke="#151515" stroke-width="0.75" stroke-linejoin="round"/>
<text x="396.5" y="50.5" font-size="5.07" text-anchor="middle" fill="#111">O</text>
<path d="M397.5,51 L400.4,57.7 L395.5,63.9 L399.8,71.8 L395,77" fill="none" stroke="#151515" stroke-width="0.75" stroke-linejoin="round"/>
<text x="385.5" y="65.1" font-size="5.07" text-anchor="middle" fill="#111">HO</text>
<path d="M388.5,63.6 H395.5" fill="none" stroke="#151515" stroke-width="0.75" stroke-linejoin="round"/>
<text x="393.8" y="80.5" font-size="5.07" text-anchor="middle" fill="#111">O</text>
<path d="M394.6,81 L398,86.5 L406.5,85.8" fill="none" stroke="#151515" stroke-width="0.75" stroke-linejoin="round"/>
</g>
<path d="M563.9,100.2 L569.9,94.2 L575,96.6 M576.2,99.2 L575.8,104 M573.6,106.3 L568,106.6 L563.9,100.2 M565.6,100.4 L570.2,95.8 M566.8,105 L564.8,101" fill="none" stroke="#151515" stroke-width="0.75" stroke-linejoin="round"/>
<text x="577" y="99.3" font-size="5.07" text-anchor="middle" fill="#111">N</text>
<text x="576" y="107.5" font-size="5.07" text-anchor="middle" fill="#111">N</text>
<text x="569.8" y="108.3" font-size="5.07" text-anchor="middle" fill="#111">N</text>
<path d="M578.4,97.2 L583.6,93.5 L590.9,97.4 L596.5,93.6 M590.9,97.4 L590.9,104 M592,97.4 L592,104" fill="none" stroke="#151515" stroke-width="0.75" stroke-linejoin="round"/>
<text x="591" y="108.5" font-size="5.07" text-anchor="middle" fill="#111">O</text>
<text x="598.3" y="94.7" font-size="5.07" text-anchor="middle" fill="#111">N</text>
<text x="612.6" y="86.1" font-size="5.07" text-anchor="middle" fill="#111">N</text>
<path d="M598.1,91 L598.1,84.3 L605.3,80.4 L611.2,83.5 M612.6,87.5 L612.6,92.8 L605.3,96.8 L599.6,93.6" fill="none" stroke="#151515" stroke-width="0.75" stroke-linejoin="round"/>
<path d="M614,83.8 L619.8,80.4 L627.7,84.3 M619.8,80.4 L619.8,74.2 M620.9,80.4 L620.9,74.2" fill="none" stroke="#151515" stroke-width="0.75" stroke-linejoin="round"/>
<text x="620.3" y="73.5" font-size="5.07" text-anchor="middle" fill="#111">O</text>
<polygon points="634.4,80.4 641.41,84.45 641.41,92.55 634.4,96.6 627.39,92.55 627.39,84.45" fill="#f01010" stroke="#222" stroke-width="0.8"/>
<line x1="635.22" y1="82.66" x2="639.05" y2="84.87" stroke="#222" stroke-width="0.8"/>
<line x1="639.05" y1="92.13" x2="635.22" y2="94.34" stroke="#222" stroke-width="0.8"/>
<line x1="628.93" y1="90.71" x2="628.93" y2="86.29" stroke="#222" stroke-width="0.8"/>
<path d="M634.4,80.4 L634.4,75.5" fill="none" stroke="#151515" stroke-width="0.75" stroke-linejoin="round"/>
<text x="636.6" y="74.7" font-size="5.07" text-anchor="middle" fill="#111">OH</text>
<path d="M634.4,96.6 L634.4,106" fill="none" stroke="#151515" stroke-width="0.75" stroke-linejoin="round"/>
<polygon points="620.2,106.1 627.21,110.15 627.21,118.25 620.2,122.3 613.19,118.25 613.19,110.15" fill="#f01010" stroke="#222" stroke-width="0.8"/>
<line x1="621.02" y1="108.36" x2="624.85" y2="110.57" stroke="#222" stroke-width="0.8"/>
<line x1="624.85" y1="117.83" x2="621.02" y2="120.04" stroke="#222" stroke-width="0.8"/>
<line x1="614.73" y1="116.41" x2="614.73" y2="111.99" stroke="#222" stroke-width="0.8"/>
<polygon points="634.4,106.1 641.41,110.15 641.41,118.25 634.4,122.3 627.39,118.25 627.39,110.15" fill="#f01010" stroke="#222" stroke-width="0.8"/>
<line x1="635.22" y1="108.36" x2="639.05" y2="110.57" stroke="#222" stroke-width="0.8"/>
<line x1="639.05" y1="117.83" x2="635.22" y2="120.04" stroke="#222" stroke-width="0.8"/>
<line x1="628.93" y1="116.41" x2="628.93" y2="111.99" stroke="#222" stroke-width="0.8"/>
<polygon points="648.6,106.1 655.61,110.15 655.61,118.25 648.6,122.3 641.59,118.25 641.59,110.15" fill="#f01010" stroke="#222" stroke-width="0.8"/>
<line x1="649.42" y1="108.36" x2="653.25" y2="110.57" stroke="#222" stroke-width="0.8"/>
<line x1="653.25" y1="117.83" x2="649.42" y2="120.04" stroke="#222" stroke-width="0.8"/>
<line x1="643.13" y1="116.41" x2="643.13" y2="111.99" stroke="#222" stroke-width="0.8"/>
<rect x="632.8" y="120.2" width="3.2" height="3.8" fill="#fff"/>
<text x="634.4" y="124.7" font-size="4.72" text-anchor="middle" fill="#111">O</text>
<path d="M613.2,118.5 L607,121 M613.6,120 L607.4,122.5" fill="none" stroke="#151515" stroke-width="0.75" stroke-linejoin="round"/>
<text x="605.5" y="123.7" font-size="5.07" text-anchor="middle" fill="#111">N</text>
<text x="605.8" y="119.1" font-size="4.48" text-anchor="middle" fill="#111">+</text>
<path d="M603.8,120.8 L598.1,117.8 L591.5,121.8 M605.3,124.4 L605.3,130.3 L598.1,134.2" fill="none" stroke="#151515" stroke-width="0.75" stroke-linejoin="round"/>
<path d="M655.7,118.2 L661.2,120.8" fill="none" stroke="#151515" stroke-width="0.75" stroke-linejoin="round"/>
<text x="662.7" y="123.5" font-size="5.07" text-anchor="middle" fill="#111">N</text>
<path d="M664.2,120.6 L671,117.6 L677.7,121.9 M663.4,123.6 L663.8,130.4 L671,134.7" fill="none" stroke="#151515" stroke-width="0.75" stroke-linejoin="round"/>
<text x="437" y="152.3" font-size="9.15" text-anchor="middle" fill="#333" >AF 488</text>
<text x="437" y="162.9" font-size="9.15" text-anchor="middle" fill="#333" >Dextran conjugate</text>
<text x="437" y="172.4" font-size="9.15" text-anchor="middle" fill="#333" >Non pH-sensitive</text>
<text x="601.9" y="152.3" font-size="9.15" text-anchor="middle" fill="#333" >H-Ruby</text>
<text x="601.9" y="162.9" font-size="9.15" text-anchor="middle" fill="#333" >Dextran conjugate</text>
<text x="601.9" y="172.4" font-size="9.15" text-anchor="middle" fill="#333" >pH-sensitive</text>
<polyline points="383.3,298.9 384.07,298.9 384.85,298.9 385.62,298.89 386.4,298.89 387.17,298.88 387.94,298.87 388.72,298.86 389.49,298.84 390.27,298.82 391.04,298.8 391.81,298.78 392.59,298.76 393.36,298.73 394.14,298.7 394.91,298.67 395.68,298.63 396.46,298.59 397.23,298.55 398.01,298.5 398.78,298.45 399.55,298.39 400.33,298.33 401.1,298.26 401.88,298.19 402.65,298.12 403.42,298.04 404.2,297.95 404.97,297.86 405.75,297.78 406.52,297.7 407.29,297.63 408.07,297.57 408.84,297.51 409.62,297.45 410.39,297.41 411.16,297.37 411.94,297.33 412.71,297.3 413.49,297.28 414.26,297.26 415.03,297.25 415.81,297.24 416.58,297.23 417.36,297.24 418.13,297.25 418.9,297.26 419.68,297.28 420.45,297.32 421.23,297.36 422,297.4 422.77,297.44 423.55,297.48 424.32,297.52 425.1,297.56 425.87,297.6 426.64,297.64 427.42,297.68 428.19,297.72 428.97,297.76 429.74,297.79 430.51,297.83 431.29,297.86 432.06,297.89 432.84,297.92 433.61,297.95 434.38,297.98 435.16,298.01 435.93,298.03 436.71,298.06 437.48,298.08 438.25,298.11 439.03,298.13 439.8,298.15 440.58,298.18 441.35,298.19 442.12,298.21 442.9,298.22 443.67,298.23 444.45,298.24 445.22,298.25 445.99,298.26 446.77,298.27 447.54,298.27 448.32,298.28 449.09,298.29 449.86,298.29 450.64,298.3 451.41,298.31 452.19,298.31 452.96,298.32 453.73,298.33 454.51,298.33 455.28,298.34 456.06,298.35 456.83,298.35 457.6,298.36 458.38,298.37 459.15,298.38 459.93,298.38 460.7,298.39 461.47,298.4 462.25,298.41 463.02,298.42 463.8,298.43 464.57,298.44 465.34,298.45 466.12,298.46 466.89,298.47 467.67,298.48 468.44,298.49 469.21,298.5 469.99,298.51 470.76,298.52 471.54,298.53 472.31,298.54 473.08,298.55 473.86,298.56 474.63,298.57 475.41,298.57 476.18,298.58 476.95,298.59 477.73,298.6 478.5,298.61 479.28,298.62 480.05,298.63 480.82,298.63 481.6,298.64 482.37,298.65 483.15,298.65 483.92,298.66 484.69,298.66 485.47,298.67 486.24,298.67 487.02,298.68 487.79,298.68 488.56,298.69 489.34,298.69 490.11,298.69 490.89,298.7 491.66,298.7 492.43,298.7 493.21,298.71 493.98,298.71 494.76,298.71 495.53,298.71 496.3,298.72 497.08,298.72 497.85,298.72 498.63,298.72 499.4,298.72 500.17,298.73 500.95,298.73 501.72,298.73 502.5,298.73 503.27,298.73 504.04,298.74 504.82,298.74 505.59,298.74 506.37,298.74 507.14,298.74" fill="none" stroke="#5a1090" stroke-width="1.3" stroke-linejoin="round" />
<polyline points="383.3,298.9 384.07,298.9 384.85,298.89 385.62,298.89 386.4,298.88 387.17,298.87 387.94,298.86 388.72,298.84 389.49,298.82 390.27,298.8 391.04,298.77 391.81,298.74 392.59,298.71 393.36,298.67 394.14,298.63 394.91,298.59 395.68,298.54 396.46,298.49 397.23,298.43 398.01,298.37 398.78,298.3 399.55,298.23 400.33,298.14 401.1,298.05 401.88,297.95 402.65,297.86 403.42,297.75 404.2,297.63 404.97,297.52 405.75,297.4 406.52,297.3 407.29,297.21 408.07,297.12 408.84,297.04 409.62,296.97 410.39,296.91 411.16,296.86 411.94,296.81 412.71,296.77 413.49,296.74 414.26,296.71 415.03,296.7 415.81,296.68 416.58,296.68 417.36,296.68 418.13,296.7 418.9,296.71 419.68,296.74 420.45,296.79 421.23,296.85 422,296.9 422.77,296.95 423.55,297.01 424.32,297.06 425.1,297.12 425.87,297.17 426.64,297.22 427.42,297.27 428.19,297.33 428.97,297.38 429.74,297.42 430.51,297.47 431.29,297.51 432.06,297.55 432.84,297.6 433.61,297.63 434.38,297.67 435.16,297.71 435.93,297.75 436.71,297.78 437.48,297.81 438.25,297.84 439.03,297.88 439.8,297.91 440.58,297.93 441.35,297.96 442.12,297.98 442.9,297.99 443.67,298.01 444.45,298.02 445.22,298.03 445.99,298.05 446.77,298.06 447.54,298.06 448.32,298.07 449.09,298.08 449.86,298.09 450.64,298.1 451.41,298.11 452.19,298.12 452.96,298.13 453.73,298.14 454.51,298.14 455.28,298.15 456.06,298.16 456.83,298.17 457.6,298.18 458.38,298.19 459.15,298.2 459.93,298.21 460.7,298.22 461.47,298.23 462.25,298.25 463.02,298.26 463.8,298.27 464.57,298.28 465.34,298.3 466.12,298.31 466.89,298.32 467.67,298.34 468.44,298.35 469.21,298.36 469.99,298.38 470.76,298.39 471.54,298.4 472.31,298.42 473.08,298.43 473.86,298.44 474.63,298.45 475.41,298.47 476.18,298.48 476.95,298.49 477.73,298.5 478.5,298.51 479.28,298.52 480.05,298.53 480.82,298.54 481.6,298.55 482.37,298.56 483.15,298.57 483.92,298.58 484.69,298.58 485.47,298.59 486.24,298.6 487.02,298.6 487.79,298.61 488.56,298.61 489.34,298.62 490.11,298.62 490.89,298.63 491.66,298.63 492.43,298.64 493.21,298.64 493.98,298.64 494.76,298.65 495.53,298.65 496.3,298.65 497.08,298.66 497.85,298.66 498.63,298.66 499.4,298.66 500.17,298.67 500.95,298.67 501.72,298.67 502.5,298.68 503.27,298.68 504.04,298.68 504.82,298.68 505.59,298.68 506.37,298.69 507.14,298.69" fill="none" stroke="#9a50ff" stroke-width="1.3" stroke-linejoin="round" />
<polyline points="383.3,298.9 384.07,298.9 384.85,298.89 385.62,298.88 386.4,298.87 387.17,298.86 387.94,298.84 388.72,298.82 389.49,298.78 390.27,298.75 391.04,298.71 391.81,298.66 392.59,298.61 393.36,298.56 394.14,298.5 394.91,298.43 395.68,298.36 396.46,298.28 397.23,298.2 398.01,298.1 398.78,298 399.55,297.89 400.33,297.76 401.1,297.63 401.88,297.48 402.65,297.33 403.42,297.18 404.2,297 404.97,296.82 405.75,296.65 406.52,296.5 407.29,296.37 408.07,296.24 408.84,296.12 409.62,296.01 410.39,295.92 411.16,295.84 411.94,295.77 412.71,295.71 413.49,295.65 414.26,295.62 415.03,295.6 415.81,295.58 416.58,295.57 417.36,295.58 418.13,295.6 418.9,295.62 419.68,295.66 420.45,295.74 421.23,295.82 422,295.9 422.77,295.98 423.55,296.06 424.32,296.14 425.1,296.22 425.87,296.3 426.64,296.38 427.42,296.46 428.19,296.54 428.97,296.61 429.74,296.69 430.51,296.75 431.29,296.82 432.06,296.88 432.84,296.94 433.61,297 434.38,297.06 435.16,297.11 435.93,297.17 436.71,297.22 437.48,297.27 438.25,297.32 439.03,297.36 439.8,297.41 440.58,297.45 441.35,297.48 442.12,297.51 442.9,297.54 443.67,297.56 444.45,297.58 445.22,297.6 445.99,297.62 446.77,297.63 447.54,297.65 448.32,297.66 449.09,297.67 449.86,297.69 450.64,297.7 451.41,297.71 452.19,297.73 452.96,297.74 453.73,297.75 454.51,297.77 455.28,297.78 456.06,297.79 456.83,297.81 457.6,297.82 458.38,297.84 459.15,297.85 459.93,297.87 460.7,297.88 461.47,297.9 462.25,297.92 463.02,297.94 463.8,297.96 464.57,297.97 465.34,297.99 466.12,298.01 466.89,298.03 467.67,298.05 468.44,298.07 469.21,298.09 469.99,298.11 470.76,298.13 471.54,298.15 472.31,298.17 473.08,298.19 473.86,298.21 474.63,298.23 475.41,298.25 476.18,298.27 476.95,298.28 477.73,298.3 478.5,298.32 479.28,298.34 480.05,298.35 480.82,298.36 481.6,298.38 482.37,298.39 483.15,298.4 483.92,298.41 484.69,298.42 485.47,298.43 486.24,298.44 487.02,298.45 487.79,298.46 488.56,298.47 489.34,298.48 490.11,298.49 490.89,298.49 491.66,298.5 492.43,298.51 493.21,298.51 493.98,298.52 494.76,298.52 495.53,298.53 496.3,298.53 497.08,298.53 497.85,298.54 498.63,298.54 499.4,298.55 500.17,298.55 500.95,298.56 501.72,298.56 502.5,298.56 503.27,298.57 504.04,298.57 504.82,298.57 505.59,298.58 506.37,298.58 507.14,298.58" fill="none" stroke="#2a60ff" stroke-width="1.3" stroke-linejoin="round" />
<polyline points="383.3,298.9 384.07,298.9 384.85,298.89 385.62,298.87 386.4,298.85 387.17,298.83 387.94,298.8 388.72,298.75 389.49,298.7 390.27,298.63 391.04,298.57 391.81,298.49 392.59,298.41 393.36,298.31 394.14,298.2 394.91,298.09 395.68,297.97 396.46,297.83 397.23,297.68 398.01,297.52 398.78,297.34 399.55,297.15 400.33,296.93 401.1,296.69 401.88,296.44 402.65,296.19 403.42,295.91 404.2,295.61 404.97,295.3 405.75,295.01 406.52,294.74 407.29,294.51 408.07,294.28 408.84,294.07 409.62,293.89 410.39,293.73 411.16,293.6 411.94,293.47 412.71,293.36 413.49,293.27 414.26,293.21 415.03,293.17 415.81,293.14 416.58,293.13 417.36,293.14 418.13,293.17 418.9,293.21 419.68,293.29 420.45,293.42 421.23,293.56 422,293.71 422.77,293.84 423.55,293.98 424.32,294.12 425.1,294.26 425.87,294.4 426.64,294.53 427.42,294.67 428.19,294.81 428.97,294.94 429.74,295.06 430.51,295.18 431.29,295.29 432.06,295.4 432.84,295.51 433.61,295.61 434.38,295.71 435.16,295.8 435.93,295.9 436.71,295.99 437.48,296.07 438.25,296.16 439.03,296.24 439.8,296.32 440.58,296.39 441.35,296.45 442.12,296.5 442.9,296.54 443.67,296.58 444.45,296.62 445.22,296.65 445.99,296.68 446.77,296.7 447.54,296.73 448.32,296.75 449.09,296.78 449.86,296.8 450.64,296.82 451.41,296.85 452.19,296.87 452.96,296.89 453.73,296.91 454.51,296.94 455.28,296.96 456.06,296.98 456.83,297.01 457.6,297.03 458.38,297.06 459.15,297.08 459.93,297.11 460.7,297.14 461.47,297.17 462.25,297.2 463.02,297.23 463.8,297.26 464.57,297.3 465.34,297.33 466.12,297.36 466.89,297.4 467.67,297.43 468.44,297.47 469.21,297.5 469.99,297.54 470.76,297.57 471.54,297.61 472.31,297.64 473.08,297.68 473.86,297.71 474.63,297.74 475.41,297.77 476.18,297.8 476.95,297.83 477.73,297.86 478.5,297.89 479.28,297.92 480.05,297.95 480.82,297.97 481.6,298 482.37,298.02 483.15,298.04 483.92,298.06 484.69,298.08 485.47,298.09 486.24,298.11 487.02,298.13 487.79,298.14 488.56,298.16 489.34,298.17 490.11,298.18 490.89,298.2 491.66,298.21 492.43,298.22 493.21,298.23 493.98,298.24 494.76,298.24 495.53,298.25 496.3,298.26 497.08,298.27 497.85,298.27 498.63,298.28 499.4,298.29 500.17,298.3 500.95,298.3 501.72,298.31 502.5,298.32 503.27,298.32 504.04,298.33 504.82,298.33 505.59,298.34 506.37,298.35 507.14,298.35" fill="none" stroke="#40f0f0" stroke-width="1.3" stroke-linejoin="round" />
<polyline points="383.3,298.9 384.07,298.89 384.85,298.88 385.62,298.85 386.4,298.82 387.17,298.79 387.94,298.74 388.72,298.67 389.49,298.58 390.27,298.48 391.04,298.37 391.81,298.26 392.59,298.12 393.36,297.97 394.14,297.8 394.91,297.63 395.68,297.43 396.46,297.22 397.23,296.98 398.01,296.72 398.78,296.44 399.55,296.13 400.33,295.79 401.1,295.42 401.88,295.02 402.65,294.62 403.42,294.19 404.2,293.71 404.97,293.22 405.75,292.76 406.52,292.35 407.29,291.98 408.07,291.62 408.84,291.29 409.62,291 410.39,290.75 411.16,290.54 411.94,290.34 412.71,290.17 413.49,290.03 414.26,289.93 415.03,289.87 415.81,289.82 416.58,289.8 417.36,289.82 418.13,289.87 418.9,289.93 419.68,290.06 420.45,290.25 421.23,290.49 422,290.71 422.77,290.92 423.55,291.14 424.32,291.36 425.1,291.58 425.87,291.8 426.64,292.02 427.42,292.23 428.19,292.44 428.97,292.65 429.74,292.85 430.51,293.03 431.29,293.21 432.06,293.38 432.84,293.55 433.61,293.71 434.38,293.87 435.16,294.02 435.93,294.17 436.71,294.31 437.48,294.44 438.25,294.57 439.03,294.7 439.8,294.83 440.58,294.94 441.35,295.03 442.12,295.11 442.9,295.18 443.67,295.24 444.45,295.3 445.22,295.35 445.99,295.4 446.77,295.44 447.54,295.48 448.32,295.51 449.09,295.55 449.86,295.59 450.64,295.62 451.41,295.66 452.19,295.7 452.96,295.73 453.73,295.77 454.51,295.8 455.28,295.84 456.06,295.88 456.83,295.91 457.6,295.95 458.38,295.99 459.15,296.04 459.93,296.08 460.7,296.12 461.47,296.17 462.25,296.22 463.02,296.27 463.8,296.32 464.57,296.37 465.34,296.42 466.12,296.48 466.89,296.53 467.67,296.59 468.44,296.64 469.21,296.7 469.99,296.75 470.76,296.81 471.54,296.86 472.31,296.92 473.08,296.97 473.86,297.02 474.63,297.07 475.41,297.12 476.18,297.17 476.95,297.22 477.73,297.27 478.5,297.31 479.28,297.36 480.05,297.4 480.82,297.44 481.6,297.47 482.37,297.51 483.15,297.54 483.92,297.57 484.69,297.6 485.47,297.63 486.24,297.65 487.02,297.68 487.79,297.7 488.56,297.73 489.34,297.75 490.11,297.77 490.89,297.79 491.66,297.81 492.43,297.82 493.21,297.84 493.98,297.85 494.76,297.87 495.53,297.88 496.3,297.89 497.08,297.9 497.85,297.91 498.63,297.92 499.4,297.94 500.17,297.95 500.95,297.96 501.72,297.97 502.5,297.98 503.27,297.99 504.04,298 504.82,298.01 505.59,298.02 506.37,298.03 507.14,298.04" fill="none" stroke="#5ce62c" stroke-width="1.3" stroke-linejoin="round" />
<polyline points="383.3,298.9 384.07,298.88 384.85,298.84 385.62,298.77 386.4,298.68 387.17,298.59 387.94,298.45 388.72,298.24 389.49,297.98 390.27,297.69 391.04,297.39 391.81,297.05 392.59,296.66 393.36,296.23 394.14,295.76 394.91,295.25 395.68,294.69 396.46,294.07 397.23,293.39 398.01,292.65 398.78,291.86 399.55,290.97 400.33,289.99 401.1,288.92 401.88,287.79 402.65,286.64 403.42,285.39 404.2,284.03 404.97,282.63 405.75,281.3 406.52,280.12 407.29,279.06 408.07,278.04 408.84,277.09 409.62,276.25 410.39,275.55 411.16,274.94 411.94,274.37 412.71,273.88 413.49,273.48 414.26,273.21 415.03,273.02 415.81,272.87 416.58,272.81 417.36,272.87 418.13,273.01 418.9,273.21 419.68,273.56 420.45,274.12 421.23,274.79 422,275.42 422.77,276.03 423.55,276.65 424.32,277.29 425.1,277.93 425.87,278.55 426.64,279.17 427.42,279.79 428.19,280.4 428.97,280.99 429.74,281.55 430.51,282.09 431.29,282.6 432.06,283.09 432.84,283.57 433.61,284.03 434.38,284.48 435.16,284.91 435.93,285.33 436.71,285.73 437.48,286.12 438.25,286.5 439.03,286.87 439.8,287.23 440.58,287.55 441.35,287.81 442.12,288.04 442.9,288.24 443.67,288.42 444.45,288.58 445.22,288.73 445.99,288.86 446.77,288.98 447.54,289.09 448.32,289.19 449.09,289.3 449.86,289.41 450.64,289.51 451.41,289.62 452.19,289.72 452.96,289.82 453.73,289.93 454.51,290.03 455.28,290.13 456.06,290.24 456.83,290.34 457.6,290.46 458.38,290.57 459.15,290.69 459.93,290.82 460.7,290.94 461.47,291.08 462.25,291.21 463.02,291.36 463.8,291.5 464.57,291.65 465.34,291.8 466.12,291.96 466.89,292.11 467.67,292.27 468.44,292.43 469.21,292.59 469.99,292.75 470.76,292.9 471.54,293.06 472.31,293.21 473.08,293.36 473.86,293.51 474.63,293.66 475.41,293.8 476.18,293.94 476.95,294.08 477.73,294.22 478.5,294.35 479.28,294.48 480.05,294.6 480.82,294.71 481.6,294.81 482.37,294.91 483.15,295.01 483.92,295.09 484.69,295.17 485.47,295.25 486.24,295.33 487.02,295.4 487.79,295.47 488.56,295.54 489.34,295.61 490.11,295.66 490.89,295.72 491.66,295.77 492.43,295.82 493.21,295.86 493.98,295.9 494.76,295.94 495.53,295.97 496.3,296.01 497.08,296.04 497.85,296.07 498.63,296.1 499.4,296.13 500.17,296.17 500.95,296.2 501.72,296.23 502.5,296.26 503.27,296.29 504.04,296.32 504.82,296.34 505.59,296.37 506.37,296.4 507.14,296.42" fill="none" stroke="#d8f030" stroke-width="1.3" stroke-linejoin="round" />
<polyline points="383.3,298.9 384.07,298.87 384.85,298.79 385.62,298.68 386.4,298.54 387.17,298.37 387.94,298.14 388.72,297.79 389.49,297.36 390.27,296.87 391.04,296.36 391.81,295.79 392.59,295.14 393.36,294.41 394.14,293.62 394.91,292.76 395.68,291.83 396.46,290.78 397.23,289.64 398.01,288.4 398.78,287.06 399.55,285.58 400.33,283.92 401.1,282.12 401.88,280.23 402.65,278.29 403.42,276.19 404.2,273.9 404.97,271.55 405.75,269.32 406.52,267.33 407.29,265.54 408.07,263.83 408.84,262.24 409.62,260.83 410.39,259.66 411.16,258.63 411.94,257.68 412.71,256.84 413.49,256.17 414.26,255.71 415.03,255.4 415.81,255.15 416.58,255.05 417.36,255.15 418.13,255.39 418.9,255.71 419.68,256.3 420.45,257.26 421.23,258.37 422,259.44 422.77,260.45 423.55,261.51 424.32,262.58 425.1,263.65 425.87,264.7 426.64,265.74 427.42,266.78 428.19,267.81 428.97,268.8 429.74,269.74 430.51,270.64 431.29,271.5 432.06,272.33 432.84,273.13 433.61,273.91 434.38,274.66 435.16,275.39 435.93,276.09 436.71,276.77 437.48,277.42 438.25,278.05 439.03,278.68 439.8,279.28 440.58,279.81 441.35,280.27 442.12,280.64 442.9,280.98 443.67,281.28 444.45,281.55 445.22,281.8 445.99,282.02 446.77,282.22 447.54,282.41 448.32,282.59 449.09,282.77 449.86,282.95 450.64,283.12 451.41,283.3 452.19,283.47 452.96,283.64 453.73,283.82 454.51,283.99 455.28,284.16 456.06,284.34 456.83,284.52 457.6,284.71 458.38,284.9 459.15,285.11 459.93,285.31 460.7,285.53 461.47,285.75 462.25,285.98 463.02,286.22 463.8,286.46 464.57,286.71 465.34,286.97 466.12,287.23 466.89,287.49 467.67,287.76 468.44,288.03 469.21,288.29 469.99,288.56 470.76,288.82 471.54,289.08 472.31,289.34 473.08,289.59 473.86,289.85 474.63,290.09 475.41,290.33 476.18,290.57 476.95,290.8 477.73,291.03 478.5,291.25 479.28,291.47 480.05,291.67 480.82,291.85 481.6,292.03 482.37,292.2 483.15,292.35 483.92,292.5 484.69,292.64 485.47,292.77 486.24,292.9 487.02,293.02 487.79,293.14 488.56,293.26 489.34,293.36 490.11,293.46 490.89,293.55 491.66,293.64 492.43,293.72 493.21,293.79 493.98,293.85 494.76,293.92 495.53,293.98 496.3,294.04 497.08,294.09 497.85,294.14 498.63,294.2 499.4,294.25 500.17,294.31 500.95,294.36 501.72,294.41 502.5,294.46 503.27,294.51 504.04,294.56 504.82,294.6 505.59,294.65 506.37,294.69 507.14,294.73" fill="none" stroke="#ffb000" stroke-width="1.3" stroke-linejoin="round" />
<polyline points="383.3,298.9 384.07,298.86 384.85,298.75 385.62,298.58 386.4,298.37 387.17,298.13 387.94,297.79 388.72,297.29 389.49,296.66 390.27,295.95 391.04,295.2 391.81,294.38 392.59,293.43 393.36,292.37 394.14,291.21 394.91,289.96 395.68,288.6 396.46,287.09 397.23,285.42 398.01,283.61 398.78,281.67 399.55,279.51 400.33,277.09 401.1,274.47 401.88,271.72 402.65,268.9 403.42,265.85 404.2,262.5 404.97,259.09 405.75,255.83 406.52,252.95 407.29,250.35 408.07,247.85 408.84,245.54 409.62,243.49 410.39,241.78 411.16,240.28 411.94,238.89 412.71,237.67 413.49,236.69 414.26,236.03 415.03,235.57 415.81,235.22 416.58,235.07 417.36,235.21 418.13,235.56 418.9,236.03 419.68,236.89 420.45,238.28 421.23,239.9 422,241.46 422.77,242.93 423.55,244.47 424.32,246.03 425.1,247.59 425.87,249.12 426.64,250.63 427.42,252.14 428.19,253.64 428.97,255.08 429.74,256.46 430.51,257.76 431.29,259.01 432.06,260.22 432.84,261.39 433.61,262.52 434.38,263.61 435.16,264.68 435.93,265.7 436.71,266.69 437.48,267.63 438.25,268.55 439.03,269.47 439.8,270.34 440.58,271.12 441.35,271.77 442.12,272.32 442.9,272.81 443.67,273.25 444.45,273.65 445.22,274.01 445.99,274.33 446.77,274.62 447.54,274.89 448.32,275.15 449.09,275.41 449.86,275.68 450.64,275.93 451.41,276.18 452.19,276.44 452.96,276.69 453.73,276.94 454.51,277.19 455.28,277.44 456.06,277.7 456.83,277.97 457.6,278.24 458.38,278.53 459.15,278.82 459.93,279.12 460.7,279.43 461.47,279.76 462.25,280.09 463.02,280.44 463.8,280.8 464.57,281.16 465.34,281.53 466.12,281.91 466.89,282.3 467.67,282.69 468.44,283.07 469.21,283.46 469.99,283.84 470.76,284.23 471.54,284.61 472.31,284.99 473.08,285.35 473.86,285.72 474.63,286.08 475.41,286.43 476.18,286.77 476.95,287.11 477.73,287.45 478.5,287.77 479.28,288.08 480.05,288.37 480.82,288.64 481.6,288.9 482.37,289.14 483.15,289.37 483.92,289.58 484.69,289.78 485.47,289.97 486.24,290.16 487.02,290.34 487.79,290.52 488.56,290.68 489.34,290.84 490.11,290.98 490.89,291.12 491.66,291.24 492.43,291.35 493.21,291.46 493.98,291.56 494.76,291.65 495.53,291.73 496.3,291.82 497.08,291.9 497.85,291.98 498.63,292.06 499.4,292.13 500.17,292.21 500.95,292.29 501.72,292.36 502.5,292.44 503.27,292.51 504.04,292.58 504.82,292.65 505.59,292.71 506.37,292.77 507.14,292.84" fill="none" stroke="#ff5520" stroke-width="1.3" stroke-linejoin="round" />
<polyline points="383.3,298.9 384.07,298.85 384.85,298.71 385.62,298.5 386.4,298.24 387.17,297.94 387.94,297.51 388.72,296.88 389.49,296.09 390.27,295.2 391.04,294.26 391.81,293.24 392.59,292.05 393.36,290.72 394.14,289.27 394.91,287.71 395.68,286 396.46,284.11 397.23,282.02 398.01,279.76 398.78,277.32 399.55,274.62 400.33,271.59 401.1,268.31 401.88,264.87 402.65,261.34 403.42,257.51 404.2,253.33 404.97,249.05 405.75,244.97 406.52,241.36 407.29,238.1 408.07,234.98 408.84,232.08 409.62,229.52 410.39,227.37 411.16,225.5 411.94,223.76 412.71,222.23 413.49,221.01 414.26,220.18 415.03,219.6 415.81,219.16 416.58,218.98 417.36,219.15 418.13,219.59 418.9,220.18 419.68,221.26 420.45,222.99 421.23,225.02 422,226.97 422.77,228.82 423.55,230.74 424.32,232.7 425.1,234.65 425.87,236.56 426.64,238.45 427.42,240.35 428.19,242.22 428.97,244.03 429.74,245.75 430.51,247.39 431.29,248.96 432.06,250.47 432.84,251.93 433.61,253.35 434.38,254.72 435.16,256.05 435.93,257.33 436.71,258.56 437.48,259.74 438.25,260.9 439.03,262.04 439.8,263.13 440.58,264.11 441.35,264.93 442.12,265.62 442.9,266.23 443.67,266.78 444.45,267.28 445.22,267.73 445.99,268.14 446.77,268.5 447.54,268.84 448.32,269.16 449.09,269.49 449.86,269.82 450.64,270.14 451.41,270.46 452.19,270.77 452.96,271.09 453.73,271.4 454.51,271.72 455.28,272.03 456.06,272.35 456.83,272.69 457.6,273.03 458.38,273.39 459.15,273.76 459.93,274.13 460.7,274.52 461.47,274.93 462.25,275.35 463.02,275.79 463.8,276.23 464.57,276.68 465.34,277.15 466.12,277.62 466.89,278.11 467.67,278.6 468.44,279.08 469.21,279.56 469.99,280.05 470.76,280.53 471.54,281.01 472.31,281.48 473.08,281.94 473.86,282.4 474.63,282.85 475.41,283.29 476.18,283.72 476.95,284.14 477.73,284.56 478.5,284.96 479.28,285.35 480.05,285.71 480.82,286.05 481.6,286.38 482.37,286.68 483.15,286.97 483.92,287.23 484.69,287.48 485.47,287.72 486.24,287.96 487.02,288.19 487.79,288.4 488.56,288.61 489.34,288.81 490.11,288.99 490.89,289.16 491.66,289.31 492.43,289.45 493.21,289.58 493.98,289.7 494.76,289.82 495.53,289.93 496.3,290.03 497.08,290.13 497.85,290.23 498.63,290.33 499.4,290.43 500.17,290.53 500.95,290.62 501.72,290.72 502.5,290.81 503.27,290.9 504.04,290.98 504.82,291.07 505.59,291.15 506.37,291.23 507.14,291.31" fill="none" stroke="#ff4040" stroke-width="1.3" stroke-linejoin="round" />
<polyline points="383.3,298.9 384.07,298.85 384.85,298.71 385.62,298.49 386.4,298.23 387.17,297.93 387.94,297.51 388.72,296.87 389.49,296.07 390.27,295.18 391.04,294.23 391.81,293.2 392.59,292 393.36,290.67 394.14,289.2 394.91,287.63 395.68,285.92 396.46,284 397.23,281.9 398.01,279.62 398.78,277.17 399.55,274.45 400.33,271.4 401.1,268.1 401.88,264.63 402.65,261.08 403.42,257.23 404.2,253.01 404.97,248.71 405.75,244.6 406.52,240.96 407.29,237.68 408.07,234.53 408.84,231.62 409.62,229.03 410.39,226.87 411.16,224.99 411.94,223.24 412.71,221.7 413.49,220.46 414.26,219.63 415.03,219.05 415.81,218.6 416.58,218.42 417.36,218.6 418.13,219.04 418.9,219.63 419.68,220.72 420.45,222.46 421.23,224.5 422,226.47 422.77,228.33 423.55,230.27 424.32,232.24 425.1,234.2 425.87,236.13 426.64,238.03 427.42,239.94 428.19,241.83 428.97,243.65 429.74,245.38 430.51,247.03 431.29,248.61 432.06,250.14 432.84,251.61 433.61,253.03 434.38,254.41 435.16,255.75 435.93,257.04 436.71,258.28 437.48,259.47 438.25,260.63 439.03,261.79 439.8,262.88 440.58,263.87 441.35,264.7 442.12,265.39 442.9,266.01 443.67,266.56 444.45,267.06 445.22,267.51 445.99,267.92 446.77,268.29 447.54,268.63 448.32,268.95 449.09,269.29 449.86,269.62 450.64,269.94 451.41,270.26 452.19,270.58 452.96,270.89 453.73,271.21 454.51,271.53 455.28,271.84 456.06,272.17 456.83,272.5 457.6,272.85 458.38,273.21 459.15,273.58 459.93,273.96 460.7,274.36 461.47,274.76 462.25,275.19 463.02,275.63 463.8,276.07 464.57,276.53 465.34,276.99 466.12,277.48 466.89,277.96 467.67,278.46 468.44,278.94 469.21,279.43 469.99,279.92 470.76,280.4 471.54,280.88 472.31,281.36 473.08,281.82 473.86,282.28 474.63,282.73 475.41,283.18 476.18,283.61 476.95,284.04 477.73,284.46 478.5,284.87 479.28,285.26 480.05,285.62 480.82,285.96 481.6,286.29 482.37,286.6 483.15,286.88 483.92,287.15 484.69,287.4 485.47,287.65 486.24,287.88 487.02,288.11 487.79,288.33 488.56,288.54 489.34,288.74 490.11,288.92 490.89,289.09 491.66,289.24 492.43,289.38 493.21,289.52 493.98,289.64 494.76,289.76 495.53,289.87 496.3,289.97 497.08,290.07 497.85,290.17 498.63,290.27 499.4,290.37 500.17,290.47 500.95,290.56 501.72,290.66 502.5,290.75 503.27,290.84 504.04,290.93 504.82,291.01 505.59,291.1 506.37,291.18 507.14,291.25" fill="none" stroke="#ff0000" stroke-width="1.3" stroke-linejoin="round" />
<polyline points="383.3,298.9 384.07,298.85 384.85,298.7 385.62,298.47 386.4,298.19 387.17,297.87 387.94,297.42 388.72,296.74 389.49,295.9 390.27,294.94 391.04,293.94 391.81,292.84 392.59,291.58 393.36,290.16 394.14,288.6 394.91,286.93 395.68,285.11 396.46,283.08 397.23,280.85 398.01,278.43 398.78,275.82 399.55,272.93 400.33,269.69 401.1,266.19 401.88,262.51 402.65,258.73 403.42,254.64 404.2,250.16 404.97,245.59 405.75,241.23 406.52,237.36 407.29,233.88 408.07,230.54 408.84,227.44 409.62,224.7 410.39,222.4 411.16,220.41 411.94,218.54 412.71,216.9 413.49,215.6 414.26,214.71 415.03,214.1 415.81,213.62 416.58,213.43 417.36,213.61 418.13,214.08 418.9,214.71 419.68,215.86 420.45,217.72 421.23,219.89 422,221.98 422.77,223.95 423.55,226.01 424.32,228.1 425.1,230.19 425.87,232.23 426.64,234.26 427.42,236.29 428.19,238.29 428.97,240.22 429.74,242.06 430.51,243.81 431.29,245.49 432.06,247.11 432.84,248.67 433.61,250.18 434.38,251.65 435.16,253.07 435.93,254.44 436.71,255.76 437.48,257.02 438.25,258.26 439.03,259.48 439.8,260.65 440.58,261.7 441.35,262.58 442.12,263.31 442.9,263.97 443.67,264.55 444.45,265.08 445.22,265.57 445.99,266 446.77,266.39 447.54,266.75 448.32,267.1 449.09,267.45 449.86,267.8 450.64,268.14 451.41,268.48 452.19,268.82 452.96,269.16 453.73,269.49 454.51,269.83 455.28,270.16 456.06,270.51 456.83,270.87 457.6,271.24 458.38,271.62 459.15,272.01 459.93,272.41 460.7,272.83 461.47,273.27 462.25,273.72 463.02,274.18 463.8,274.66 464.57,275.14 465.34,275.63 466.12,276.15 466.89,276.66 467.67,277.19 468.44,277.7 469.21,278.22 469.99,278.74 470.76,279.25 471.54,279.77 472.31,280.27 473.08,280.76 473.86,281.25 474.63,281.73 475.41,282.2 476.18,282.66 476.95,283.11 477.73,283.56 478.5,284 479.28,284.41 480.05,284.8 480.82,285.16 481.6,285.51 482.37,285.83 483.15,286.14 483.92,286.42 484.69,286.69 485.47,286.95 486.24,287.2 487.02,287.44 487.79,287.67 488.56,287.9 489.34,288.1 490.11,288.3 490.89,288.48 491.66,288.64 492.43,288.79 493.21,288.93 493.98,289.06 494.76,289.19 495.53,289.3 496.3,289.42 497.08,289.52 497.85,289.63 498.63,289.74 499.4,289.84 500.17,289.94 500.95,290.05 501.72,290.15 502.5,290.24 503.27,290.34 504.04,290.43 504.82,290.52 505.59,290.61 506.37,290.7 507.14,290.78" fill="none" stroke="#8b0000" stroke-width="1.3" stroke-linejoin="round" />
<polyline points="383.3,298.9 384.07,298.84 384.85,298.69 385.62,298.47 386.4,298.18 387.17,297.86 387.94,297.4 388.72,296.72 389.49,295.86 390.27,294.9 391.04,293.89 391.81,292.78 392.59,291.5 393.36,290.06 394.14,288.5 394.91,286.81 395.68,284.97 396.46,282.91 397.23,280.66 398.01,278.21 398.78,275.58 399.55,272.66 400.33,269.39 401.1,265.85 401.88,262.13 402.65,258.31 403.42,254.18 404.2,249.66 404.97,245.04 405.75,240.63 406.52,236.72 407.29,233.2 408.07,229.83 408.84,226.7 409.62,223.93 410.39,221.61 411.16,219.59 411.94,217.71 412.71,216.05 413.49,214.73 414.26,213.84 415.03,213.21 415.81,212.73 416.58,212.54 417.36,212.73 418.13,213.2 418.9,213.84 419.68,215 420.45,216.88 421.23,219.07 422,221.18 422.77,223.17 423.55,225.25 424.32,227.36 425.1,229.48 425.87,231.54 426.64,233.58 427.42,235.63 428.19,237.66 428.97,239.61 429.74,241.47 430.51,243.24 431.29,244.93 432.06,246.57 432.84,248.15 433.61,249.68 434.38,251.16 435.16,252.59 435.93,253.98 436.71,255.31 437.48,256.58 438.25,257.84 439.03,259.08 439.8,260.25 440.58,261.31 441.35,262.2 442.12,262.94 442.9,263.6 443.67,264.2 444.45,264.73 445.22,265.22 445.99,265.66 446.77,266.05 447.54,266.41 448.32,266.77 449.09,267.12 449.86,267.48 450.64,267.82 451.41,268.16 452.19,268.5 452.96,268.85 453.73,269.19 454.51,269.53 455.28,269.87 456.06,270.21 456.83,270.57 457.6,270.95 458.38,271.33 459.15,271.73 459.93,272.14 460.7,272.56 461.47,273 462.25,273.45 463.02,273.92 463.8,274.4 464.57,274.89 465.34,275.39 466.12,275.91 466.89,276.43 467.67,276.96 468.44,277.48 469.21,278 469.99,278.53 470.76,279.05 471.54,279.57 472.31,280.07 473.08,280.57 473.86,281.07 474.63,281.55 475.41,282.03 476.18,282.49 476.95,282.95 477.73,283.4 478.5,283.84 479.28,284.26 480.05,284.65 480.82,285.02 481.6,285.37 482.37,285.7 483.15,286.01 483.92,286.29 484.69,286.56 485.47,286.82 486.24,287.08 487.02,287.32 487.79,287.56 488.56,287.78 489.34,287.99 490.11,288.19 490.89,288.37 491.66,288.54 492.43,288.69 493.21,288.83 493.98,288.96 494.76,289.09 495.53,289.21 496.3,289.32 497.08,289.43 497.85,289.53 498.63,289.64 499.4,289.75 500.17,289.85 500.95,289.95 501.72,290.06 502.5,290.15 503.27,290.25 504.04,290.35 504.82,290.44 505.59,290.53 506.37,290.61 507.14,290.7" fill="none" stroke="#5a0808" stroke-width="1.3" stroke-linejoin="round" />
<polyline points="385.8,210.1 383.3,210.1 383.3,298.9 507.14,298.9" fill="none" stroke="#333" stroke-width="1"/>
<line x1="383.3" y1="298.9" x2="385.3" y2="298.9" stroke="#333" stroke-width="0.8" />
<text x="380.3" y="302" font-size="8.7" text-anchor="end" fill="#333" >0</text>
<line x1="383.3" y1="276.7" x2="385.3" y2="276.7" stroke="#333" stroke-width="0.8" />
<text x="380.3" y="279.8" font-size="8.7" text-anchor="end" fill="#333" >2</text>
<line x1="383.3" y1="254.5" x2="385.3" y2="254.5" stroke="#333" stroke-width="0.8" />
<text x="380.3" y="257.6" font-size="8.7" text-anchor="end" fill="#333" >4</text>
<line x1="383.3" y1="232.3" x2="385.3" y2="232.3" stroke="#333" stroke-width="0.8" />
<text x="380.3" y="235.4" font-size="8.7" text-anchor="end" fill="#333" >6</text>
<line x1="383.3" y1="210.1" x2="385.3" y2="210.1" stroke="#333" stroke-width="0.8" />
<text x="380.3" y="213.2" font-size="8.7" text-anchor="end" fill="#333" >8</text>
<line x1="391.04" y1="298.9" x2="391.04" y2="296.9" stroke="#333" stroke-width="0.8" />
<text x="391.04" y="310" font-size="8.7" text-anchor="middle" fill="#333" >550</text>
<line x1="429.74" y1="298.9" x2="429.74" y2="296.9" stroke="#333" stroke-width="0.8" />
<text x="429.74" y="310" font-size="8.7" text-anchor="middle" fill="#333" >600</text>
<line x1="468.44" y1="298.9" x2="468.44" y2="296.9" stroke="#333" stroke-width="0.8" />
<text x="468.44" y="310" font-size="8.7" text-anchor="middle" fill="#333" >650</text>
<line x1="507.14" y1="298.9" x2="507.14" y2="296.9" stroke="#333" stroke-width="0.8" />
<text x="507.14" y="310" font-size="8.7" text-anchor="middle" fill="#333" >700</text>
<text x="452.5" y="318.5" font-size="8.6" text-anchor="middle" fill="#333" >Wavelength (nm)</text>
<text x="371.2" y="255.5" font-size="9.2" text-anchor="middle" fill="#333" transform="rotate(-90 371.2 255.5)" >Fluorescence (a.u.)</text>
<text x="475.8" y="201.7" font-size="8.5" text-anchor="middle" fill="#333" >pH</text>
<line x1="444.9" y1="211.8" x2="458.9" y2="211.8" stroke="#a05a5a" stroke-width="1.9" />
<text x="463" y="214.1" font-size="7.5" text-anchor="start" fill="#333" >4.7</text>
<line x1="444.9" y1="221.38" x2="458.9" y2="221.38" stroke="#a00000" stroke-width="1.2" />
<text x="463" y="223.68" font-size="7.5" text-anchor="start" fill="#333" >5.3</text>
<line x1="444.9" y1="230.96" x2="458.9" y2="230.96" stroke="#f06a6a" stroke-width="1.9" />
<text x="463" y="233.26" font-size="7.5" text-anchor="start" fill="#333" >5.8</text>
<line x1="444.9" y1="240.54" x2="458.9" y2="240.54" stroke="#ff1010" stroke-width="1.2" />
<text x="463" y="242.84" font-size="7.5" text-anchor="start" fill="#333" >6.4</text>
<line x1="444.9" y1="250.12" x2="458.9" y2="250.12" stroke="#ff7850" stroke-width="1.9" />
<text x="463" y="252.42" font-size="7.5" text-anchor="start" fill="#333" >6.9</text>
<line x1="444.9" y1="259.7" x2="458.9" y2="259.7" stroke="#ffb000" stroke-width="1.2" />
<text x="463" y="262" font-size="7.5" text-anchor="start" fill="#333" >7.5</text>
<line x1="479.1" y1="211.8" x2="493.1" y2="211.8" stroke="#e0f040" stroke-width="1.9" />
<text x="497.2" y="214.1" font-size="7.5" text-anchor="start" fill="#333" >8.1</text>
<line x1="479.1" y1="221.38" x2="493.1" y2="221.38" stroke="#60e020" stroke-width="1.2" />
<text x="497.2" y="223.68" font-size="7.5" text-anchor="start" fill="#333" >8.6</text>
<line x1="479.1" y1="230.96" x2="493.1" y2="230.96" stroke="#40f0f0" stroke-width="1.9" />
<text x="497.2" y="233.26" font-size="7.5" text-anchor="start" fill="#333" >8.9</text>
<line x1="479.1" y1="240.54" x2="493.1" y2="240.54" stroke="#2060ff" stroke-width="1.2" />
<text x="497.2" y="242.84" font-size="7.5" text-anchor="start" fill="#333" >9.4</text>
<line x1="479.1" y1="250.12" x2="493.1" y2="250.12" stroke="#a050ff" stroke-width="1.9" />
<text x="495.1" y="252.42" font-size="7.5" text-anchor="start" fill="#333" >10.0</text>
<line x1="479.1" y1="259.7" x2="493.1" y2="259.7" stroke="#6010a0" stroke-width="1.2" />
<text x="495.1" y="262" font-size="7.5" text-anchor="start" fill="#333" >10.6</text>
<polyline points="560,212.84 557.5,212.84 557.5,298.6 682,298.6" fill="none" stroke="#333" stroke-width="1"/>
<line x1="557.5" y1="298.6" x2="559.5" y2="298.6" stroke="#333" stroke-width="0.8" />
<text x="554.5" y="301.7" font-size="8.7" text-anchor="end" fill="#333" >0</text>
<line x1="557.5" y1="277.16" x2="559.5" y2="277.16" stroke="#333" stroke-width="0.8" />
<text x="554.5" y="280.26" font-size="8.7" text-anchor="end" fill="#333" >2</text>
<line x1="557.5" y1="255.72" x2="559.5" y2="255.72" stroke="#333" stroke-width="0.8" />
<text x="554.5" y="258.82" font-size="8.7" text-anchor="end" fill="#333" >4</text>
<line x1="557.5" y1="234.28" x2="559.5" y2="234.28" stroke="#333" stroke-width="0.8" />
<text x="554.5" y="237.38" font-size="8.7" text-anchor="end" fill="#333" >6</text>
<line x1="557.5" y1="212.84" x2="559.5" y2="212.84" stroke="#333" stroke-width="0.8" />
<text x="554.5" y="215.94" font-size="8.7" text-anchor="end" fill="#333" >8</text>
<line x1="565.78" y1="298.6" x2="565.78" y2="296.6" stroke="#333" stroke-width="0.8" />
<text x="565.78" y="310.2" font-size="8.7" text-anchor="middle" fill="#333" >5</text>
<line x1="586.48" y1="298.6" x2="586.48" y2="296.6" stroke="#333" stroke-width="0.8" />
<text x="586.48" y="310.2" font-size="8.7" text-anchor="middle" fill="#333" >6</text>
<line x1="607.18" y1="298.6" x2="607.18" y2="296.6" stroke="#333" stroke-width="0.8" />
<text x="607.18" y="310.2" font-size="8.7" text-anchor="middle" fill="#333" >7</text>
<line x1="627.88" y1="298.6" x2="627.88" y2="296.6" stroke="#333" stroke-width="0.8" />
<text x="627.88" y="310.2" font-size="8.7" text-anchor="middle" fill="#333" >8</text>
<line x1="648.58" y1="298.6" x2="648.58" y2="296.6" stroke="#333" stroke-width="0.8" />
<text x="648.58" y="310.2" font-size="8.7" text-anchor="middle" fill="#333" >9</text>
<line x1="669.28" y1="298.6" x2="669.28" y2="296.6" stroke="#333" stroke-width="0.8" />
<text x="669.28" y="310.2" font-size="8.7" text-anchor="middle" fill="#333" >10</text>
<text x="617.3" y="318" font-size="8.6" text-anchor="middle" fill="#333" >pH</text>
<text x="546.8" y="253.9" font-size="9.2" text-anchor="middle" fill="#333" transform="rotate(-90 546.8 253.9)" >Fluorescence at 580 nm (a.u.)</text>
<polyline points="557.5,220.57 558.13,220.58 558.77,220.6 559.4,220.62 560.04,220.63 560.67,220.65 561.31,220.67 561.94,220.69 562.58,220.71 563.21,220.73 563.85,220.76 564.48,220.78 565.11,220.81 565.75,220.84 566.38,220.87 567.02,220.9 567.65,220.94 568.29,220.98 568.92,221.02 569.56,221.06 570.19,221.1 570.82,221.15 571.46,221.2 572.09,221.25 572.73,221.31 573.36,221.37 574,221.43 574.63,221.5 575.27,221.57 575.9,221.64 576.54,221.72 577.17,221.81 577.8,221.9 578.44,221.99 579.07,222.09 579.71,222.2 580.34,222.31 580.98,222.43 581.61,222.56 582.25,222.7 582.88,222.84 583.52,222.99 584.15,223.15 584.78,223.32 585.42,223.5 586.05,223.68 586.69,223.88 587.32,224.1 587.96,224.32 588.59,224.55 589.23,224.8 589.86,225.06 590.5,225.34 591.13,225.63 591.76,225.94 592.4,226.26 593.03,226.6 593.67,226.96 594.3,227.34 594.94,227.74 595.57,228.15 596.21,228.59 596.84,229.05 597.47,229.53 598.11,230.03 598.74,230.56 599.38,231.11 600.01,231.69 600.65,232.29 601.28,232.92 601.92,233.57 602.55,234.25 603.19,234.96 603.82,235.69 604.45,236.46 605.09,237.25 605.72,238.07 606.36,238.91 606.99,239.78 607.63,240.69 608.26,241.61 608.9,242.57 609.53,243.54 610.17,244.55 610.8,245.57 611.43,246.62 612.07,247.69 612.7,248.78 613.34,249.89 613.97,251.01 614.61,252.15 615.24,253.3 615.88,254.47 616.51,255.64 617.15,256.82 617.78,258 618.41,259.19 619.05,260.38 619.68,261.56 620.32,262.74 620.95,263.92 621.59,265.09 622.22,266.25 622.86,267.39 623.49,268.52 624.12,269.64 624.76,270.74 625.39,271.82 626.03,272.88 626.66,273.91 627.3,274.93 627.93,275.92 628.57,276.88 629.2,277.82 629.84,278.73 630.47,279.62 631.1,280.48 631.74,281.31 632.37,282.11 633.01,282.89 633.64,283.64 634.28,284.36 634.91,285.05 635.55,285.72 636.18,286.36 636.82,286.97 637.45,287.56 638.08,288.12 638.72,288.66 639.35,289.18 639.99,289.67 640.62,290.14 641.26,290.59 641.89,291.01 642.53,291.42 643.16,291.8 643.8,292.17 644.43,292.52 645.06,292.85 645.7,293.17 646.33,293.47 646.97,293.75 647.6,294.02 648.24,294.27 648.87,294.52 649.51,294.74 650.14,294.96 650.77,295.17 651.41,295.36 652.04,295.54 652.68,295.72 653.31,295.88 653.95,296.04 654.58,296.18 655.22,296.32 655.85,296.45 656.49,296.57 657.12,296.69 657.75,296.8 658.39,296.9 659.02,297 659.66,297.09 660.29,297.18 660.93,297.26 661.56,297.34 662.2,297.41 662.83,297.48 663.47,297.55 664.1,297.61 664.73,297.67 665.37,297.72 666,297.77 666.64,297.82 667.27,297.87 667.91,297.91 668.54,297.95 669.18,297.99 669.81,298.02 670.45,298.06 671.08,298.09 671.71,298.12 672.35,298.15 672.98,298.17 673.62,298.2 674.25,298.22 674.89,298.24 675.52,298.26 676.16,298.28 676.79,298.3 677.42,298.32 678.06,298.34 678.69,298.35 679.33,298.37 679.96,298.38 680.6,298.39 681.23,298.41 681.87,298.42 682.5,298.43 683.14,298.44 683.77,298.45" fill="none" stroke="#ee1111" stroke-width="1.3" stroke-linejoin="round" />
<line x1="559.57" y1="216.06" x2="559.57" y2="223.56" stroke="#222" stroke-width="0.7" />
<line x1="558.27" y1="216.06" x2="560.87" y2="216.06" stroke="#222" stroke-width="0.7" />
<line x1="558.27" y1="223.56" x2="560.87" y2="223.56" stroke="#222" stroke-width="0.7" />
<rect x="558.27" y="218.51" width="2.6" height="2.6" fill="#6b1010" stroke="#222" stroke-width="0.4"/>
<line x1="571.99" y1="217.66" x2="571.99" y2="224.1" stroke="#222" stroke-width="0.7" />
<line x1="570.69" y1="217.66" x2="573.29" y2="217.66" stroke="#222" stroke-width="0.7" />
<line x1="570.69" y1="224.1" x2="573.29" y2="224.1" stroke="#222" stroke-width="0.7" />
<rect x="570.69" y="219.58" width="2.6" height="2.6" fill="#b00000" stroke="#222" stroke-width="0.4"/>
<line x1="582.34" y1="223.02" x2="582.34" y2="230.53" stroke="#222" stroke-width="0.7" />
<line x1="581.04" y1="223.02" x2="583.64" y2="223.02" stroke="#222" stroke-width="0.7" />
<line x1="581.04" y1="230.53" x2="583.64" y2="230.53" stroke="#222" stroke-width="0.7" />
<rect x="581.04" y="225.48" width="2.6" height="2.6" fill="#e02020" stroke="#222" stroke-width="0.4"/>
<line x1="594.76" y1="222.7" x2="594.76" y2="224.85" stroke="#222" stroke-width="0.7" />
<line x1="593.46" y1="222.7" x2="596.06" y2="222.7" stroke="#222" stroke-width="0.7" />
<line x1="593.46" y1="224.85" x2="596.06" y2="224.85" stroke="#222" stroke-width="0.7" />
<rect x="593.46" y="222.47" width="2.6" height="2.6" fill="#8b1010" stroke="#222" stroke-width="0.4"/>
<line x1="605.11" y1="239.1" x2="605.11" y2="241.25" stroke="#222" stroke-width="0.7" />
<line x1="603.81" y1="239.1" x2="606.41" y2="239.1" stroke="#222" stroke-width="0.7" />
<line x1="603.81" y1="241.25" x2="606.41" y2="241.25" stroke="#222" stroke-width="0.7" />
<rect x="603.81" y="238.88" width="2.6" height="2.6" fill="#c03020" stroke="#222" stroke-width="0.4"/>
<line x1="617.53" y1="254.76" x2="617.53" y2="257.33" stroke="#222" stroke-width="0.7" />
<line x1="616.23" y1="254.76" x2="618.83" y2="254.76" stroke="#222" stroke-width="0.7" />
<line x1="616.23" y1="257.33" x2="618.83" y2="257.33" stroke="#222" stroke-width="0.7" />
<rect x="616.23" y="254.74" width="2.6" height="2.6" fill="#f0a000" stroke="#222" stroke-width="0.4"/>
<line x1="629.95" y1="274.27" x2="629.95" y2="277.48" stroke="#222" stroke-width="0.7" />
<line x1="628.65" y1="274.27" x2="631.25" y2="274.27" stroke="#222" stroke-width="0.7" />
<line x1="628.65" y1="277.48" x2="631.25" y2="277.48" stroke="#222" stroke-width="0.7" />
<rect x="628.65" y="274.57" width="2.6" height="2.6" fill="#c8e030" stroke="#222" stroke-width="0.4"/>
<rect x="639" y="288.19" width="2.6" height="2.6" fill="#40b040" stroke="#222" stroke-width="0.4"/>
<rect x="645.21" y="291.94" width="2.6" height="2.6" fill="#3090a0" stroke="#222" stroke-width="0.4"/>
<rect x="655.56" y="295.16" width="2.6" height="2.6" fill="#2050c0" stroke="#222" stroke-width="0.4"/>
<rect x="667.98" y="296.23" width="2.6" height="2.6" fill="#6030c0" stroke="#222" stroke-width="0.4"/>
<rect x="680.4" y="296.23" width="2.6" height="2.6" fill="#401080" stroke="#222" stroke-width="0.4"/>
<text x="586.2" y="259.4" font-size="9.3" text-anchor="middle" fill="#333" >pKa =</text>
<text x="586.4" y="269.2" font-size="9.3" text-anchor="middle" fill="#333" >7.57 ± 0.06</text>
<text x="350.5" y="349.2" font-size="18.5" text-anchor="start" fill="#333" >d</text>
<text x="449" y="367" font-size="15.6" text-anchor="middle" fill="#333" >Baseline</text>
<text x="581" y="367.3" font-size="15" fill="#333">CO<tspan font-size="8.8" dy="3.4">2</tspan></text>
<text x="382.4" y="404.7" font-size="7.9" text-anchor="middle" fill="#ee2020" transform="rotate(-90 382.4 404.7)" >H-Ruby dextran I.V.</text>
<defs>
<filter id="bl" x="-20%" y="-20%" width="140%" height="140%"><feGaussianBlur stdDeviation="1.2"/></filter>
<filter id="bl2" x="-20%" y="-20%" width="140%" height="140%"><feGaussianBlur stdDeviation="0.6"/></filter>
<filter id="bl3" x="-20%" y="-20%" width="140%" height="140%"><feGaussianBlur stdDeviation="3"/></filter>
<filter id="grain" x="0" y="0" width="100%" height="100%"><feTurbulence type="fractalNoise" baseFrequency="0.45" numOctaves="2" seed="3"/><feColorMatrix type="matrix" values="0 0 0 0 0  0 0 0 0 0  0 0 0 0 0  0 0 0 -0.9 0.55"/></filter>
<filter id="inset" x="-20%" y="-20%" width="140%" height="140%"><feMorphology operator="erode" radius="3.2"/><feGaussianBlur stdDeviation="1.8"/></filter>
<clipPath id="c1"><rect x="0" y="0" width="134.6" height="67.2"/></clipPath>
</defs>
<g transform="translate(386.6,371.6)" clip-path="url(#c1)">
<rect x="0" y="0" width="134.6" height="67.2" fill="#120000"/>
<path d="M0,0 L85,0 Q40,8 20,20 Q8,28 0,36 Z" fill="#220000" filter="url(#bl3)"/>
<path d="M92,47 Q100,43 112,43.5 Q125,45 140,48 L140,68 Q125,63 112,56 Q100,51 92,50 Z" fill="#e00000" filter="url(#bl)"/>
<path d="M96,47.5 Q104,45 112,46 Q125,48 140,51 L140,64 Q125,60 112,54 Q103,50.5 96,49.5 Z" fill="#980000" filter="url(#bl)"/>
<path d="M25,64 Q50,60 70,58 L80,64 Q60,66 40,70 Z" fill="#1c0000" filter="url(#bl)"/>
<path d="M0,58.5 L0,37 Q1.5,33 3.5,31.6 Q5.5,28.5 7.8,26.7 Q13,23.5 18.5,20.9 Q24,18.5 29.2,16.6 Q35,14.2 39.9,12.3 Q45,10.5 50.6,9.1 Q56,7.2 62.8,5.5 Q75,3 87.7,1 L92,-3 L140,-3 L140,21 Q134,23.2 126,27.2 Q115,32.6 104.8,37.9 Q94,43.3 83.4,48.6 Q73,53 62.8,55 Q50,57.5 38,58.2 Q20,58.8 0,58.5 Z" fill="#e00000" filter="url(#bl2)"/>
<path d="M0,58.5 L0,37 Q1.5,33 3.5,31.6 Q5.5,28.5 7.8,26.7 Q13,23.5 18.5,20.9 Q24,18.5 29.2,16.6 Q35,14.2 39.9,12.3 Q45,10.5 50.6,9.1 Q56,7.2 62.8,5.5 Q75,3 87.7,1 L92,-3 L140,-3 L140,21 Q134,23.2 126,27.2 Q115,32.6 104.8,37.9 Q94,43.3 83.4,48.6 Q73,53 62.8,55 Q50,57.5 38,58.2 Q20,58.8 0,58.5 Z" fill="#980000" filter="url(#inset)"/>
<ellipse cx="84" cy="30" rx="10" ry="6" fill="#000" fill-opacity="0.12" filter="url(#bl3)"/>
<rect x="0" y="0" width="134.6" height="67.2" filter="url(#grain)" opacity="0.5"/>
<rect x="38" y="-4" width="8" height="6" rx="3" fill="#e00000" fill-opacity="0.7" filter="url(#bl)"/>
<circle cx="60" cy="63" r="1.2" fill="#600000" filter="url(#bl2)"/>
<circle cx="100" cy="40" r="1.2" fill="#a00000" filter="url(#bl2)"/>
<circle cx="108" cy="37" r="1" fill="#a00000" filter="url(#bl2)"/>
</g>
<g transform="translate(522.2,371.6)" clip-path="url(#c1)">
<rect x="0" y="0" width="134.6" height="67.2" fill="#120000"/>
<path d="M0,0 L85,0 Q40,8 20,20 Q8,28 0,36 Z" fill="#220000" filter="url(#bl3)"/>
<path d="M92,47 Q100,43 112,43.5 Q125,45 140,48 L140,68 Q125,63 112,56 Q100,51 92,50 Z" fill="#f00000" filter="url(#bl)"/>
<path d="M96,47.5 Q104,45 112,46 Q125,48 140,51 L140,64 Q125,60 112,54 Q103,50.5 96,49.5 Z" fill="#b80000" filter="url(#bl)"/>
<path d="M25,64 Q50,60 70,58 L80,64 Q60,66 40,70 Z" fill="#1c0000" filter="url(#bl)"/>
<g transform="translate(0,-1.5)">
<path d="M0,58.5 L0,37 Q1.5,33 3.5,31.6 Q5.5,28.5 7.8,26.7 Q13,23.5 18.5,20.9 Q24,18.5 29.2,16.6 Q35,14.2 39.9,12.3 Q45,10.5 50.6,9.1 Q56,7.2 62.8,5.5 Q75,3 87.7,1 L92,-3 L140,-3 L140,21 Q134,23.2 126,27.2 Q115,32.6 104.8,37.9 Q94,43.3 83.4,48.6 Q73,53 62.8,55 Q50,57.5 38,58.2 Q20,58.8 0,58.5 Z" fill="#f00000" filter="url(#bl2)"/>
<path d="M0,58.5 L0,37 Q1.5,33 3.5,31.6 Q5.5,28.5 7.8,26.7 Q13,23.5 18.5,20.9 Q24,18.5 29.2,16.6 Q35,14.2 39.9,12.3 Q45,10.5 50.6,9.1 Q56,7.2 62.8,5.5 Q75,3 87.7,1 L92,-3 L140,-3 L140,21 Q134,23.2 126,27.2 Q115,32.6 104.8,37.9 Q94,43.3 83.4,48.6 Q73,53 62.8,55 Q50,57.5 38,58.2 Q20,58.8 0,58.5 Z" fill="#b80000" filter="url(#inset)"/>
</g>
<ellipse cx="84" cy="30" rx="10" ry="6" fill="#000" fill-opacity="0.12" filter="url(#bl3)"/>
<rect x="0" y="0" width="134.6" height="67.2" filter="url(#grain)" opacity="0.5"/>
<rect x="38" y="-4" width="8" height="6" rx="3" fill="#f00000" fill-opacity="0.7" filter="url(#bl)"/>
<circle cx="60" cy="63" r="1.2" fill="#600000" filter="url(#bl2)"/>
<circle cx="100" cy="40" r="1.2" fill="#a00000" filter="url(#bl2)"/>
<circle cx="108" cy="37" r="1" fill="#a00000" filter="url(#bl2)"/>
</g>
<rect x="520.6" y="371" width="1.5" height="68.4" fill="#fff"/>
<line x1="389.9" y1="428.9" x2="427.9" y2="428.9" stroke="#f0f0f0" stroke-width="1.2" />
<text x="408.1" y="437.8" font-size="8" font-weight="bold" text-anchor="middle" fill="#f0f0f0">20 µm</text>
<line x1="525.4" y1="428.9" x2="563.4" y2="428.9" stroke="#f0f0f0" stroke-width="1.2" />
<text x="543.6" y="437.8" font-size="8" font-weight="bold" text-anchor="middle" fill="#f0f0f0">20 µm</text>
<rect x="405.55" y="474.5" width="22.15" height="56.6" fill="#e3e3e3"/>
<text x="404.6" y="471.7" font-size="12.6" fill="#333">CO<tspan font-size="7.4" dy="3">2</tspan></text>
<polyline points="384.51,517.67 385.06,517.98 385.61,515.77 386.17,511.97 386.72,517.41 387.28,520.17 387.83,519.3 388.38,510.8 388.94,518.09 389.49,521.03 390.04,518.22 390.6,516.32 391.15,516.48 391.71,511.31 392.26,518.33 392.81,523 393.37,512.87 393.92,517.09 394.47,517.17 395.03,520.58 395.58,521.9 396.14,513.23 396.69,523.76 397.24,520.87 397.8,522.76 398.35,514.18 398.9,518.07 399.46,521.65 400.01,517 400.57,512.98 401.12,522.87 401.67,522.76 402.23,518.54 402.78,519.19 403.33,523.94 403.89,522.27 404.44,520.19 405,517.22 405.55,525.12 406.1,517.32 406.66,517.32 407.21,511.57 407.76,525.98 408.32,518.53 408.87,518.16 409.43,511.13 409.98,519.71 410.53,516.87 411.09,513.39 411.64,511.43 412.19,511.12 412.75,516.45 413.3,504.66 413.86,512.97 414.41,508.35 414.96,505.84 415.52,509.64 416.07,505.82 416.62,512.15 417.18,506.66 417.73,507.36 418.29,510.1 418.84,506.45 419.39,506.92 419.95,499.31 420.5,504.76 421.05,506.59 421.61,501.18 422.16,500.93 422.72,489.93 423.27,491.96 423.82,497.09 424.38,499.93 424.93,488.53 425.48,495.05 426.04,501.57 426.59,493.56 427.15,500.51 427.7,489.47 428.25,490.97 428.81,495.09 429.36,491.73 429.91,495.94 430.47,483.39 431.02,490.72 431.58,490.1 432.13,489.26 432.68,497.13 433.24,499.43 433.79,500.82 434.34,499.69 434.9,505.53 435.45,505.48 436.01,504.16 436.56,505.63 437.11,509.19 437.67,512.06 438.22,511.13 438.77,507.7 439.33,505.73 439.88,506.95 440.44,512.67 440.99,509.84 441.54,511.32 442.1,507.82 442.65,516.66 443.2,510.01 443.76,513.45 444.31,515.94 444.87,506.92 445.42,509.78 445.97,522.68 446.53,517.1 447.08,515.41 447.63,514.57 448.19,523.43 448.74,517.77 449.3,518.92 449.85,522.95 450.4,517.58 450.96,522.77 451.51,521.37 452.06,525.16 452.62,520.26 453.17,520.5 453.73,523.85 454.28,526.18 454.83,522.49 455.39,521.02 455.94,520.77 456.5,521.78 457.05,516.6 457.6,521.03 458.16,518.98 458.71,512.94 459.26,521.78 459.82,518.54 460.37,517.61 460.92,521.45 461.48,523.74 462.03,522.25 462.59,526.53 463.14,518.69 463.69,518.97 464.25,516.11 464.8,511.76 465.35,518.05 465.91,517.94 466.46,516.88 467.02,520.5 467.57,524.28 468.12,521.49 468.68,518.12 469.23,518.77 469.78,518.57 470.34,520.96 470.89,518.52 471.45,519.91 472,519.28 472.55,523.44 473.11,521.87 473.66,518.69 474.21,513.16 474.77,518.39 475.32,516.53 475.88,511.79 476.43,517.7 476.98,519.83 477.54,525.91 478.09,519.96 478.64,514.26 479.2,522.38 479.75,520.02 480.31,519.38 480.86,517.91 481.41,522.57 481.97,515.79 482.52,516.59 483.07,522.46 483.63,529.28 484.18,516.75 484.74,518.57 485.29,519.1 485.84,526.03 486.4,522.51 486.95,520.63 487.5,518.88 488.06,520.26 488.61,516.5 489.17,524.28 489.72,524.73 490.27,520.84 490.83,516.55 491.38,526.16 491.93,527 492.49,515.83 493.04,525.11 493.6,522.4 494.15,518.1 494.7,526.33 495.26,521.68 495.81,519.69 496.36,521.55 496.92,521.62 497.47,522.35 498.03,520.83 498.58,514.95 499.13,526.8 499.69,517.07 500.24,518.5 500.79,518.1 501.35,518 501.9,518.18 502.46,515.68 503.01,525.08 503.56,514.89 504.12,515.02 504.67,517.18 505.22,517.6 505.78,514.02 506.33,510.05 506.89,511.68 507.44,512.76 507.99,524.39 508.55,511.57 509.1,517.56 509.65,520.3 510.21,517.01 510.76,513.86 511.32,524.54 511.87,515.65 512.42,520.41 512.98,518.26" fill="none" stroke="#ff1a1a" stroke-width="0.6" stroke-linejoin="round" opacity="0.9"/>
<polyline points="384.51,513.43 385.06,515.96 385.61,518.96 386.17,519.7 386.72,518.64 387.28,514.77 387.83,519.69 388.38,514.24 388.94,512.83 389.49,516.47 390.04,524.79 390.6,516.21 391.15,515.86 391.71,514.59 392.26,517 392.81,513.04 393.37,512.87 393.92,518.01 394.47,515.54 395.03,511.68 395.58,516.26 396.14,517.16 396.69,511.68 397.24,526.21 397.8,513.99 398.35,520.33 398.9,527.11 399.46,516.17 400.01,514.47 400.57,519.94 401.12,517.89 401.67,516.05 402.23,521.63 402.78,519.07 403.33,517.67 403.89,522.78 404.44,520.67 405,523.58 405.55,523.94 406.1,520.27 406.66,517.9 407.21,518.02 407.76,515.98 408.32,515.07 408.87,514.62 409.43,518.59 409.98,517.25 410.53,520 411.09,509.02 411.64,510.75 412.19,514.24 412.75,512.67 413.3,508.71 413.86,514.1 414.41,511.85 414.96,512.57 415.52,508.94 416.07,503.53 416.62,509.16 417.18,502.28 417.73,504.66 418.29,506.11 418.84,501.49 419.39,507.73 419.95,502.45 420.5,501.81 421.05,493.7 421.61,502.22 422.16,499.12 422.72,503.59 423.27,502.04 423.82,495.66 424.38,491.46 424.93,492.5 425.48,501.62 426.04,499.45 426.59,499.86 427.15,495.08 427.7,490.35 428.25,489.64 428.81,490.99 429.36,489.76 429.91,496.67 430.47,502.47 431.02,492.68 431.58,499.3 432.13,494.9 432.68,500.16 433.24,495.56 433.79,501.96 434.34,504.88 434.9,503.72 435.45,501.18 436.01,507.42 436.56,502.13 437.11,512.26 437.67,513.32 438.22,511.08 438.77,511.01 439.33,509.31 439.88,512.33 440.44,512.75 440.99,518.2 441.54,509.23 442.1,515.69 442.65,513.77 443.2,514.68 443.76,508.76 444.31,522.24 444.87,516.87 445.42,512.25 445.97,525.91 446.53,520.19 447.08,519.23 447.63,518.94 448.19,524.11 448.74,517.39 449.3,524.82 449.85,516.35 450.4,521.7 450.96,525.95 451.51,517.15 452.06,521.49 452.62,520.78 453.17,519.96 453.73,524.65 454.28,525.49 454.83,521.73 455.39,517.62 455.94,520.5 456.5,523.46 457.05,514.79 457.6,523.04 458.16,521.17 458.71,520.41 459.26,519.66 459.82,517.68 460.37,517.26 460.92,522.05 461.48,521.86 462.03,516.03 462.59,516.14 463.14,522.23 463.69,515.19 464.25,519.52 464.8,517.67 465.35,517.94 465.91,517.84 466.46,520.44 467.02,518.64 467.57,520.82 468.12,518.58 468.68,520.16 469.23,520.75 469.78,519.8 470.34,517.52 470.89,518.43 471.45,519.48 472,520.3 472.55,517.51 473.11,513.24 473.66,518.35 474.21,517.35 474.77,521.79 475.32,520.53 475.88,519.86 476.43,513.07 476.98,516.2 477.54,516.37 478.09,519.16 478.64,518.37 479.2,516.6 479.75,518.6 480.31,522.91 480.86,519.17 481.41,519.13 481.97,524.36 482.52,525.91 483.07,519.59 483.63,519.98 484.18,519.61 484.74,518.72 485.29,517.91 485.84,515.86 486.4,523.68 486.95,518.42 487.5,515.23 488.06,515.81 488.61,523.91 489.17,519.24 489.72,519.43 490.27,522.53 490.83,525.35 491.38,522.64 491.93,517.88 492.49,523.49 493.04,523.2 493.6,524.11 494.15,519.61 494.7,522.62 495.26,528.7 495.81,530.01 496.36,521.53 496.92,522.55 497.47,522.12 498.03,514.54 498.58,514.91 499.13,518.08 499.69,515.67 500.24,513.73 500.79,518.2 501.35,519.97 501.9,523.76 502.46,515.69 503.01,512.91 503.56,521.46 504.12,519.52 504.67,520.33 505.22,515.46 505.78,518.75 506.33,513.31 506.89,522.22 507.44,508.83 507.99,513.17 508.55,519.38 509.1,521.22 509.65,522.18 510.21,517.44 510.76,518.47 511.32,519.88 511.87,520.19 512.42,519.22 512.98,519.79" fill="none" stroke="#ff1a1a" stroke-width="0.6" stroke-linejoin="round" opacity="0.9"/>
<polyline points="384.51,511.56 385.06,511.22 385.61,516.47 386.17,514.18 386.72,518.07 387.28,514.06 387.83,522.76 388.38,515.78 388.94,515.29 389.49,516.81 390.04,518.79 390.6,516.43 391.15,517.21 391.71,511.92 392.26,521.78 392.81,523.77 393.37,516.8 393.92,517.31 394.47,518.77 395.03,519.34 395.58,514.37 396.14,512.26 396.69,519.99 397.24,513.59 397.8,516.61 398.35,515.84 398.9,518.91 399.46,518.99 400.01,514.26 400.57,521.76 401.12,518.81 401.67,517.03 402.23,521.58 402.78,522.51 403.33,521.91 403.89,516.1 404.44,519.35 405,521.1 405.55,522.54 406.1,517.21 406.66,518.9 407.21,518.4 407.76,520.94 408.32,518.34 408.87,519.36 409.43,513.46 409.98,515.56 410.53,520 411.09,512.36 411.64,514.51 412.19,504.88 412.75,512.41 413.3,509.79 413.86,511.52 414.41,511 414.96,509.04 415.52,507.86 416.07,505.75 416.62,500.1 417.18,503.69 417.73,501.7 418.29,510.72 418.84,497.58 419.39,510.72 419.95,500.53 420.5,498.28 421.05,500.53 421.61,503.66 422.16,490.63 422.72,495.33 423.27,497.44 423.82,490.81 424.38,487.86 424.93,499.04 425.48,494.51 426.04,502.24 426.59,498.17 427.15,493.79 427.7,488.2 428.25,489.54 428.81,480.14 429.36,486.91 429.91,495.08 430.47,491.58 431.02,485.39 431.58,489.03 432.13,494.32 432.68,491.31 433.24,494.3 433.79,496.07 434.34,507.45 434.9,501.5 435.45,509.56 436.01,509.34 436.56,502.02 437.11,506.7 437.67,506.45 438.22,505.15 438.77,512.4 439.33,513.56 439.88,511.26 440.44,511.35 440.99,513.7 441.54,513.04 442.1,506.88 442.65,514.89 443.2,514.46 443.76,518.06 444.31,517.9 444.87,513.99 445.42,516.33 445.97,515.32 446.53,518.98 447.08,512.87 447.63,512.56 448.19,519.17 448.74,514.43 449.3,513.19 449.85,520.39 450.4,523.05 450.96,517.22 451.51,517.21 452.06,527.29 452.62,528.95 453.17,524.6 453.73,516.56 454.28,521.41 454.83,520.62 455.39,526.89 455.94,523.01 456.5,526.15 457.05,523.3 457.6,517.03 458.16,518.84 458.71,518.54 459.26,519.78 459.82,519.75 460.37,518.07 460.92,521.47 461.48,516.66 462.03,519.89 462.59,513.37 463.14,526.3 463.69,518.6 464.25,520.92 464.8,517.88 465.35,520.04 465.91,521.71 466.46,517.74 467.02,515.3 467.57,516.74 468.12,514.36 468.68,518.02 469.23,515.54 469.78,521.07 470.34,520.92 470.89,516.81 471.45,523.27 472,522.31 472.55,517.54 473.11,521.78 473.66,513.69 474.21,515.09 474.77,522.75 475.32,516.62 475.88,520.57 476.43,519.14 476.98,519.45 477.54,520.23 478.09,519.44 478.64,521.55 479.2,526.03 479.75,517.94 480.31,518.35 480.86,520.98 481.41,517.19 481.97,520.71 482.52,514.58 483.07,520.47 483.63,515.75 484.18,515.16 484.74,513.06 485.29,522.86 485.84,518.91 486.4,513.31 486.95,525.28 487.5,522.13 488.06,522.77 488.61,520.86 489.17,517.07 489.72,521.43 490.27,517.86 490.83,519.06 491.38,526.03 491.93,520.68 492.49,522.45 493.04,519.89 493.6,520.18 494.15,524.68 494.7,525.4 495.26,519.75 495.81,515.17 496.36,521.17 496.92,519.49 497.47,523.88 498.03,509.82 498.58,517.36 499.13,521.85 499.69,517.64 500.24,513.34 500.79,514.98 501.35,516.81 501.9,518.88 502.46,523.3 503.01,520.73 503.56,516.76 504.12,515.42 504.67,516.82 505.22,516.12 505.78,515.07 506.33,521.32 506.89,521.09 507.44,520.25 507.99,514.22 508.55,516.8 509.1,516.67 509.65,520.26 510.21,519.71 510.76,518.2 511.32,521.07 511.87,521.71 512.42,518.31 512.98,520.35" fill="none" stroke="#ff1a1a" stroke-width="0.6" stroke-linejoin="round" opacity="0.9"/>
<polyline points="384.51,511.13 385.06,512.6 385.61,518.16 386.17,515.99 386.72,516.11 387.28,518.03 387.83,514.85 388.38,517.14 388.94,518.91 389.49,514.83 390.04,519.61 390.6,520.06 391.15,513.95 391.71,516.94 392.26,519.05 392.81,514.78 393.37,520.02 393.92,517.61 394.47,517.96 395.03,517.76 395.58,520.07 396.14,516.81 396.69,510.5 397.24,514.48 397.8,515.97 398.35,518.7 398.9,522.68 399.46,511.32 400.01,521.35 400.57,515.56 401.12,515.3 401.67,516.6 402.23,521.12 402.78,529.63 403.33,524.49 403.89,523.06 404.44,522.58 405,514.81 405.55,515.46 406.1,516.91 406.66,512.5 407.21,515.96 407.76,517.67 408.32,518.08 408.87,517.22 409.43,517.29 409.98,512.29 410.53,510.36 411.09,516.02 411.64,511.19 412.19,514.87 412.75,507.61 413.3,515.75 413.86,509.57 414.41,510.14 414.96,514.78 415.52,515.38 416.07,512.85 416.62,508.56 417.18,505.95 417.73,501.21 418.29,502.09 418.84,506.66 419.39,500.63 419.95,495.04 420.5,501.52 421.05,501.45 421.61,502.33 422.16,501.05 422.72,494.95 423.27,502.13 423.82,495.14 424.38,494.43 424.93,497.97 425.48,486.52 426.04,496.48 426.59,499.41 427.15,491.95 427.7,498.6 428.25,491.03 428.81,491.98 429.36,489.23 429.91,484.74 430.47,488.69 431.02,489.22 431.58,494 432.13,493.74 432.68,498.71 433.24,499.06 433.79,498.58 434.34,496.14 434.9,499.53 435.45,501.91 436.01,503.42 436.56,509.48 437.11,504.34 437.67,504.6 438.22,501.57 438.77,509.06 439.33,516.2 439.88,509.64 440.44,506.78 440.99,515.57 441.54,512.54 442.1,511.06 442.65,514.45 443.2,510.87 443.76,513.75 444.31,511.81 444.87,522.37 445.42,514.76 445.97,516.6 446.53,515.9 447.08,520.28 447.63,515.62 448.19,521.87 448.74,514.99 449.3,521.96 449.85,516.68 450.4,521.83 450.96,520.16 451.51,521.66 452.06,521.32 452.62,520.13 453.17,528.04 453.73,516.24 454.28,521.1 454.83,521.73 455.39,522.31 455.94,525.87 456.5,525.02 457.05,521.23 457.6,521.79 458.16,517.27 458.71,515.26 459.26,515.63 459.82,518.28 460.37,520.98 460.92,517.58 461.48,515.12 462.03,520.57 462.59,513.26 463.14,516.75 463.69,519.36 464.25,517.91 464.8,518.59 465.35,515.7 465.91,524.14 466.46,514.75 467.02,521.79 467.57,511.76 468.12,518.94 468.68,524.4 469.23,511.56 469.78,522.78 470.34,523.55 470.89,520.22 471.45,515.78 472,517.33 472.55,515.26 473.11,517.63 473.66,513.94 474.21,514.99 474.77,514.33 475.32,513.29 475.88,521.94 476.43,515.71 476.98,517.05 477.54,518.28 478.09,520.36 478.64,517.82 479.2,516.96 479.75,526.96 480.31,517.62 480.86,518.11 481.41,518.65 481.97,518.67 482.52,521.15 483.07,520.87 483.63,521.21 484.18,525.02 484.74,521.13 485.29,517.35 485.84,516.06 486.4,521.27 486.95,523 487.5,525.14 488.06,516.74 488.61,517.84 489.17,518.33 489.72,524.6 490.27,518.55 490.83,520.44 491.38,520.5 491.93,520.44 492.49,518.51 493.04,528.5 493.6,524.49 494.15,518.55 494.7,526.69 495.26,519.66 495.81,525.67 496.36,525.02 496.92,522.68 497.47,519.13 498.03,511.84 498.58,517.22 499.13,519.69 499.69,521.7 500.24,519.1 500.79,520.27 501.35,519.74 501.9,515.69 502.46,519.84 503.01,516.79 503.56,519.59 504.12,512.26 504.67,513.17 505.22,516.69 505.78,522.59 506.33,522.45 506.89,520.03 507.44,519.48 507.99,510.34 508.55,515.57 509.1,517.72 509.65,515.63 510.21,513.33 510.76,519.59 511.32,520.81 511.87,514.92 512.42,517.16 512.98,525.75" fill="none" stroke="#ff1a1a" stroke-width="0.6" stroke-linejoin="round" opacity="0.9"/>
<polyline points="385.9,474.4 383.4,474.4 383.4,531.1 516.3,531.1" fill="none" stroke="#333" stroke-width="1"/>
<line x1="383.4" y1="518.2" x2="385.4" y2="518.2" stroke="#333" stroke-width="0.8" />
<text x="381.4" y="521.2" font-size="8.4" text-anchor="end" fill="#333" >0</text>
<line x1="383.4" y1="503.6" x2="385.4" y2="503.6" stroke="#333" stroke-width="0.8" />
<text x="381.4" y="506.6" font-size="8.4" text-anchor="end" fill="#333" >10</text>
<line x1="383.4" y1="489" x2="385.4" y2="489" stroke="#333" stroke-width="0.8" />
<text x="381.4" y="492" font-size="8.4" text-anchor="end" fill="#333" >20</text>
<line x1="383.4" y1="474.4" x2="385.4" y2="474.4" stroke="#333" stroke-width="0.8" />
<text x="381.4" y="477.4" font-size="8.4" text-anchor="end" fill="#333" >30</text>
<line x1="383.4" y1="531.1" x2="383.4" y2="529" stroke="#333" stroke-width="0.8" />
<text x="383.4" y="540.5" font-size="8.4" text-anchor="middle" fill="#333" >0</text>
<line x1="405.55" y1="531.1" x2="405.55" y2="529" stroke="#333" stroke-width="0.8" />
<text x="405.55" y="540.5" font-size="8.4" text-anchor="middle" fill="#333" >10</text>
<line x1="427.7" y1="531.1" x2="427.7" y2="529" stroke="#333" stroke-width="0.8" />
<text x="427.7" y="540.5" font-size="8.4" text-anchor="middle" fill="#333" >20</text>
<line x1="449.85" y1="531.1" x2="449.85" y2="529" stroke="#333" stroke-width="0.8" />
<text x="449.85" y="540.5" font-size="8.4" text-anchor="middle" fill="#333" >30</text>
<line x1="472" y1="531.1" x2="472" y2="529" stroke="#333" stroke-width="0.8" />
<text x="472" y="540.5" font-size="8.4" text-anchor="middle" fill="#333" >40</text>
<line x1="494.15" y1="531.1" x2="494.15" y2="529" stroke="#333" stroke-width="0.8" />
<text x="494.15" y="540.5" font-size="8.4" text-anchor="middle" fill="#333" >50</text>
<line x1="516.3" y1="531.1" x2="516.3" y2="529" stroke="#333" stroke-width="0.8" />
<text x="516.3" y="540.5" font-size="8.4" text-anchor="middle" fill="#333" >60</text>
<text x="450.2" y="546.6" font-size="7.4" text-anchor="middle" fill="#333" >Time (s)</text>
<text x="370.3" y="503" font-size="9.2" text-anchor="middle" fill="#333" transform="rotate(-90 370.3 503)" >ΔF/F %</text>
<rect x="405.55" y="564.3" width="22.15" height="56.1" fill="#e3e3e3"/>
<polyline points="384.51,604.22 384.95,607.02 385.39,607.88 385.84,604.84 386.28,604.65 386.72,606.94 387.17,606.5 387.61,602.31 388.05,607.14 388.49,606.53 388.94,604.44 389.38,605.03 389.82,603.97 390.27,605.01 390.71,606.6 391.15,605.97 391.6,606.85 392.04,605.18 392.48,605.59 392.92,607.82 393.37,605.69 393.81,607.38 394.25,606.29 394.7,606.9 395.14,606.1 395.58,609.77 396.03,605.97 396.47,608.37 396.91,605.13 397.35,608.14 397.8,607.33 398.24,607.61 398.68,606.43 399.13,605.46 399.57,606.56 400.01,606.9 400.46,606.7 400.9,607.07 401.34,606.91 401.78,607.95 402.23,607.22 402.67,605.23 403.11,605.72 403.56,609.32 404,607.47 404.44,606.98 404.89,607.73 405.33,607.73 405.77,606.79 406.21,605.29 406.66,605.03 407.1,605.2 407.54,603.07 407.99,603.13 408.43,601.39 408.87,601.03 409.32,601.57 409.76,599.38 410.2,596.91 410.64,594.79 411.09,595.05 411.53,592.05 411.97,592.71 412.42,593.02 412.86,592.85 413.3,588.62 413.75,590.98 414.19,591.32 414.63,588.6 415.07,589.06 415.52,586.84 415.96,588.81 416.4,584.95 416.85,584.09 417.29,585.05 417.73,585.07 418.18,582.92 418.62,580.86 419.06,582.3 419.5,580.94 419.95,578.38 420.39,578.25 420.83,578.33 421.28,576.9 421.72,576.26 422.16,576.18 422.61,575 423.05,577.5 423.49,573.43 423.93,571.92 424.38,571.65 424.82,572.51 425.26,569.3 425.71,569.14 426.15,571.2 426.59,569.29 427.04,568.91 427.48,568.5 427.92,565.22 428.36,564.35 428.81,565.6 429.25,564.99 429.69,565.3 430.14,567.23 430.58,566.63 431.02,568.45 431.47,569.46 431.91,572.86 432.35,570.6 432.79,576.35 433.24,574.94 433.68,574.8 434.12,577.43 434.57,579.91 435.01,580.84 435.45,583.23 435.9,581.42 436.34,583.5 436.78,585.93 437.22,583.22 437.67,586.91 438.11,586.47 438.55,590.02 439,588.51 439.44,588.35 439.88,589.75 440.33,591.64 440.77,590.03 441.21,593.45 441.65,590.57 442.1,592.73 442.54,592.81 442.98,592.46 443.43,592.61 443.87,590.82 444.31,593.32 444.76,595.74 445.2,593.53 445.64,595.42 446.08,594.99 446.53,595.19 446.97,594.7 447.41,593.49 447.86,595.09 448.3,595.9 448.74,596.58 449.19,596.68 449.63,596.42 450.07,595.71 450.51,596 450.96,595.3 451.4,599.16 451.84,595.66 452.29,595.92 452.73,599.86 453.17,595.64 453.62,597.27 454.06,599.33 454.5,597.38 454.94,599.57 455.39,598.54 455.83,597.81 456.27,597.38 456.72,597.75 457.16,599.53 457.6,602.31 458.05,600.66 458.49,599.68 458.93,599.32 459.37,600.37 459.82,602.14 460.26,601.53 460.7,602.69 461.15,601.61 461.59,604.1 462.03,602.07 462.48,601.13 462.92,603.69 463.36,601.01 463.8,605.77 464.25,601.98 464.69,604.5 465.13,603.53 465.58,602.9 466.02,602.63 466.46,605.88 466.91,603.49 467.35,606.19 467.79,603.94 468.23,604.64 468.68,604.01 469.12,605.93 469.56,605.19 470.01,606.44 470.45,605.08 470.89,604.32 471.34,604.71 471.78,605.85 472.22,604.21 472.66,604.99 473.11,604.14 473.55,605.26 473.99,606.15 474.44,605.19 474.88,604.37 475.32,606.14 475.77,605.47 476.21,606.94 476.65,604.64 477.09,606.83 477.54,608.48 477.98,605.01 478.42,607.85 478.87,604.45 479.31,607.04 479.75,607.87 480.2,607.53 480.64,605.51 481.08,607.02 481.52,605.52 481.97,607.75 482.41,605.38 482.85,606.37 483.3,606.46 483.74,602.4 484.18,608.41 484.63,605.74 485.07,608.85 485.51,607.41 485.95,608.35 486.4,607.78 486.84,607.02 487.28,608.74 487.73,606.49 488.17,608.44 488.61,606.25 489.06,608.25 489.5,607.71 489.94,607.49 490.38,607.82 490.83,606.37 491.27,603.87 491.71,607.75 492.16,608.57 492.6,607.83 493.04,607.38 493.49,608.66 493.93,604.76 494.37,609.52 494.81,607.73 495.26,609.78 495.7,607.14 496.14,606.29 496.59,608.96 497.03,608.07 497.47,609.26 497.92,606.47 498.36,607.71 498.8,608.49 499.24,608.84 499.69,607.59 500.13,609.37 500.57,608.57 501.02,610.79 501.46,608.92 501.9,608.22 502.35,610.31 502.79,607.94 503.23,610.36 503.67,610.25 504.12,609.95 504.56,608.5 505,609.27 505.45,607.53 505.89,612.89 506.33,609.84 506.78,607.63 507.22,610.42 507.66,607.71 508.1,610 508.55,606.32 508.99,612.57 509.43,608.27 509.88,608.02 510.32,608.48 510.76,612.11 511.21,608.84 511.65,613.2 512.09,610.21 512.53,608.83 512.98,609.35" fill="none" stroke="#1a2ee6" stroke-width="1.2" stroke-linejoin="round" />
<polyline points="384.51,608.28 384.95,605.07 385.39,604.92 385.84,605.16 386.28,604.26 386.72,602.88 387.17,603.42 387.61,604.08 388.05,601.89 388.49,602.57 388.94,603.37 389.38,602.66 389.82,604.62 390.27,603.46 390.71,603.5 391.15,603.92 391.6,604.78 392.04,604.9 392.48,604.47 392.92,602.73 393.37,603.95 393.81,607.09 394.25,606.33 394.7,610.27 395.14,607.55 395.58,607.27 396.03,606.19 396.47,606.83 396.91,605.44 397.35,607.27 397.8,606.84 398.24,609.67 398.68,608.27 399.13,609.07 399.57,606.81 400.01,610.2 400.46,610.7 400.9,610.05 401.34,608.34 401.78,608.75 402.23,606.92 402.67,604.26 403.11,607.79 403.56,609.05 404,606.98 404.44,605.8 404.89,604 405.33,607.31 405.77,603.1 406.21,605.52 406.66,606 407.1,604.92 407.54,604.86 407.99,604.55 408.43,606.4 408.87,604.58 409.32,605.35 409.76,602.51 410.2,602.59 410.64,599.98 411.09,600.5 411.53,601.24 411.97,599.93 412.42,598.69 412.86,598.46 413.3,595.08 413.75,597.66 414.19,597.04 414.63,594.9 415.07,595.83 415.52,593.16 415.96,593.28 416.4,591.96 416.85,591.57 417.29,590 417.73,590.53 418.18,588.55 418.62,589.32 419.06,588.99 419.5,586.47 419.95,584.58 420.39,586.33 420.83,585.56 421.28,585.03 421.72,583 422.16,583.43 422.61,581.35 423.05,581.1 423.49,578.28 423.93,578.23 424.38,578.73 424.82,576.85 425.26,575.06 425.71,573.39 426.15,572.08 426.59,574.32 427.04,571.62 427.48,571.13 427.92,567.21 428.36,566.7 428.81,568.45 429.25,566.83 429.69,565.66 430.14,566.96 430.58,567.8 431.02,571.23 431.47,574.32 431.91,575.42 432.35,578.2 432.79,583.48 433.24,585.35 433.68,587.15 434.12,591.14 434.57,588.11 435.01,588.83 435.45,591.86 435.9,590.11 436.34,591.39 436.78,595.04 437.22,593.08 437.67,591.23 438.11,593.12 438.55,593.83 439,592.61 439.44,593.25 439.88,593.7 440.33,596.47 440.77,595.79 441.21,596.46 441.65,598.15 442.1,601.07 442.54,600.71 442.98,600.84 443.43,606.03 443.87,600.14 444.31,603.33 444.76,603.15 445.2,602.66 445.64,604.91 446.08,606.93 446.53,602.87 446.97,607.04 447.41,603.58 447.86,604.68 448.3,607.93 448.74,605.63 449.19,608.37 449.63,606.76 450.07,608.47 450.51,607.2 450.96,609.58 451.4,609.76 451.84,607.45 452.29,612.21 452.73,608.92 453.17,611.78 453.62,610.45 454.06,612.82 454.5,609.72 454.94,608.3 455.39,609.9 455.83,608.19 456.27,607 456.72,608.85 457.16,608.67 457.6,608.19 458.05,608.26 458.49,607.79 458.93,608.25 459.37,605.23 459.82,607.15 460.26,606.94 460.7,606.6 461.15,605.48 461.59,602.84 462.03,606.36 462.48,606.12 462.92,606.84 463.36,606.43 463.8,605.21 464.25,605.74 464.69,606.64 465.13,606.34 465.58,606.1 466.02,607.18 466.46,608.06 466.91,606.75 467.35,605.85 467.79,608.71 468.23,604.91 468.68,606.26 469.12,607.26 469.56,605.34 470.01,606.73 470.45,606.96 470.89,607.38 471.34,609.27 471.78,607.96 472.22,609.64 472.66,605.49 473.11,605.99 473.55,605.56 473.99,605.01 474.44,606.37 474.88,608.76 475.32,605.3 475.77,606.53 476.21,606.37 476.65,604.65 477.09,605.09 477.54,606.87 477.98,607.7 478.42,607.13 478.87,610.18 479.31,607.98 479.75,605.03 480.2,608.63 480.64,606.6 481.08,605.59 481.52,605.86 481.97,605.65 482.41,606.11 482.85,605.32 483.3,605.1 483.74,606.85 484.18,605.53 484.63,606.09 485.07,605.49 485.51,606.16 485.95,605.49 486.4,606.49 486.84,607.4 487.28,606.24 487.73,606.89 488.17,604.61 488.61,606.29 489.06,603.59 489.5,606.8 489.94,604.41 490.38,609.27 490.83,605.31 491.27,605.98 491.71,606.72 492.16,604.55 492.6,607.48 493.04,603.87 493.49,606.5 493.93,606.36 494.37,607.98 494.81,605.7 495.26,606.86 495.7,605.93 496.14,606.08 496.59,605.49 497.03,607.49 497.47,606.55 497.92,605.61 498.36,605.28 498.8,606.27 499.24,606.14 499.69,606.12 500.13,606.51 500.57,604.23 501.02,603.07 501.46,605.4 501.9,605.01 502.35,608.73 502.79,602.57 503.23,603.91 503.67,607.89 504.12,602.11 504.56,604.07 505,604.39 505.45,606.58 505.89,604.46 506.33,607.29 506.78,604.23 507.22,602.32 507.66,604.45 508.1,606.48 508.55,602.44 508.99,605.99 509.43,603.49 509.88,603.55 510.32,601.52 510.76,603.34 511.21,602.7 511.65,605.98 512.09,603.35 512.53,603.81 512.98,605.8" fill="none" stroke="#ff1a1a" stroke-width="1.2" stroke-linejoin="round" />
<polyline points="384.51,606.4 384.95,606.4 385.39,606.4 385.84,606.4 386.28,606.4 386.72,606.4 387.17,606.4 387.61,606.4 388.05,606.4 388.49,606.4 388.94,606.4 389.38,606.4 389.82,606.4 390.27,606.4 390.71,606.4 391.15,606.4 391.6,606.4 392.04,606.4 392.48,606.4 392.92,606.4 393.37,606.4 393.81,606.4 394.25,606.4 394.7,606.4 395.14,606.4 395.58,606.4 396.03,606.4 396.47,606.4 396.91,606.4 397.35,606.4 397.8,606.4 398.24,606.4 398.68,606.4 399.13,606.4 399.57,606.4 400.01,606.4 400.46,606.4 400.9,606.4 401.34,606.4 401.78,606.39 402.23,606.39 402.67,606.37 403.11,606.35 403.56,606.3 404,606.2 404.44,606.01 404.89,605.64 405.33,604.95 405.77,603.66 406.21,601.38 406.66,597.62 407.1,592.12 407.54,585.35 407.99,578.58 408.43,573.08 408.87,569.32 409.32,567.04 409.76,565.75 410.2,565.06 410.64,564.69 411.09,564.5 411.53,564.4 411.97,564.35 412.42,564.33 412.86,564.31 413.3,564.31 413.75,564.3 414.19,564.3 414.63,564.3 415.07,564.3 415.52,564.3 415.96,564.3 416.4,564.3 416.85,564.3 417.29,564.3 417.73,564.3 418.18,564.3 418.62,564.3 419.06,564.3 419.5,564.3 419.95,564.3 420.39,564.3 420.83,564.3 421.28,564.3 421.72,564.3 422.16,564.3 422.61,564.3 423.05,564.3 423.49,564.31 423.93,564.31 424.38,564.33 424.82,564.35 425.26,564.4 425.71,564.5 426.15,564.69 426.59,565.06 427.04,565.75 427.48,567.04 427.92,569.32 428.36,573.08 428.81,578.58 429.25,585.35 429.69,592.12 430.14,597.62 430.58,601.38 431.02,603.66 431.47,604.95 431.91,605.64 432.35,606.01 432.79,606.2 433.24,606.3 433.68,606.35 434.12,606.37 434.57,606.39 435.01,606.39 435.45,606.4 435.9,606.4 436.34,606.4 436.78,606.4 437.22,606.4 437.67,606.4 438.11,606.4 438.55,606.4 439,606.4 439.44,606.4 439.88,606.4 440.33,606.4 440.77,606.4 441.21,606.4 441.65,606.4 442.1,606.4 442.54,606.4 442.98,606.4 443.43,606.4 443.87,606.4 444.31,606.4 444.76,606.4 445.2,606.4 445.64,606.4 446.08,606.4 446.53,606.4 446.97,606.4 447.41,606.4 447.86,606.4 448.3,606.4 448.74,606.4 449.19,606.4 449.63,606.4 450.07,606.4 450.51,606.4 450.96,606.4 451.4,606.4 451.84,606.4 452.29,606.4 452.73,606.4 453.17,606.4 453.62,606.4 454.06,606.4 454.5,606.4 454.94,606.4 455.39,606.4 455.83,606.4 456.27,606.4 456.72,606.4 457.16,606.4 457.6,606.4 458.05,606.4 458.49,606.4 458.93,606.4 459.37,606.4 459.82,606.4 460.26,606.4 460.7,606.4 461.15,606.4 461.59,606.4 462.03,606.4 462.48,606.4 462.92,606.4 463.36,606.4 463.8,606.4 464.25,606.4 464.69,606.4 465.13,606.4 465.58,606.4 466.02,606.4 466.46,606.4 466.91,606.4 467.35,606.4 467.79,606.4 468.23,606.4 468.68,606.4 469.12,606.4 469.56,606.4 470.01,606.4 470.45,606.4 470.89,606.4 471.34,606.4 471.78,606.4 472.22,606.4 472.66,606.4 473.11,606.4 473.55,606.4 473.99,606.4 474.44,606.4 474.88,606.4 475.32,606.4 475.77,606.4 476.21,606.4 476.65,606.4 477.09,606.4 477.54,606.4 477.98,606.4 478.42,606.4 478.87,606.4 479.31,606.4 479.75,606.4 480.2,606.4 480.64,606.4 481.08,606.4 481.52,606.4 481.97,606.4 482.41,606.4 482.85,606.4 483.3,606.4 483.74,606.4 484.18,606.4 484.63,606.4 485.07,606.4 485.51,606.4 485.95,606.4 486.4,606.4 486.84,606.4 487.28,606.4 487.73,606.4 488.17,606.4 488.61,606.4 489.06,606.4 489.5,606.4 489.94,606.4 490.38,606.4 490.83,606.4 491.27,606.4 491.71,606.4 492.16,606.4 492.6,606.4 493.04,606.4 493.49,606.4 493.93,606.4 494.37,606.4 494.81,606.4 495.26,606.4 495.7,606.4 496.14,606.4 496.59,606.4 497.03,606.4 497.47,606.4 497.92,606.4 498.36,606.4 498.8,606.4 499.24,606.4 499.69,606.4 500.13,606.4 500.57,606.4 501.02,606.4 501.46,606.4 501.9,606.4 502.35,606.4 502.79,606.4 503.23,606.4 503.67,606.4 504.12,606.4 504.56,606.4 505,606.4 505.45,606.4 505.89,606.4 506.33,606.4 506.78,606.4 507.22,606.4 507.66,606.4 508.1,606.4 508.55,606.4 508.99,606.4 509.43,606.4 509.88,606.4 510.32,606.4 510.76,606.4 511.21,606.4 511.65,606.4 512.09,606.4 512.53,606.4 512.98,606.4" fill="none" stroke="#111" stroke-width="1.2" stroke-linejoin="round" />
<polyline points="385.9,564.3 383.4,564.3 383.4,620.4 516.3,620.4" fill="none" stroke="#333" stroke-width="1"/>
<line x1="383.4" y1="606.4" x2="385.4" y2="606.4" stroke="#333" stroke-width="0.8" />
<text x="380.9" y="609.4" font-size="8.4" text-anchor="end" fill="#333" >0</text>
<line x1="383.4" y1="564.3" x2="385.4" y2="564.3" stroke="#333" stroke-width="0.8" />
<text x="380.9" y="567.3" font-size="8.4" text-anchor="end" fill="#333" >1</text>
<line x1="383.4" y1="620.4" x2="383.4" y2="618.3" stroke="#333" stroke-width="0.8" />
<text x="383.4" y="629.6" font-size="8.4" text-anchor="middle" fill="#333" >0</text>
<line x1="405.55" y1="620.4" x2="405.55" y2="618.3" stroke="#333" stroke-width="0.8" />
<text x="405.55" y="629.6" font-size="8.4" text-anchor="middle" fill="#333" >10</text>
<line x1="427.7" y1="620.4" x2="427.7" y2="618.3" stroke="#333" stroke-width="0.8" />
<text x="427.7" y="629.6" font-size="8.4" text-anchor="middle" fill="#333" >20</text>
<line x1="449.85" y1="620.4" x2="449.85" y2="618.3" stroke="#333" stroke-width="0.8" />
<text x="449.85" y="629.6" font-size="8.4" text-anchor="middle" fill="#333" >30</text>
<line x1="472" y1="620.4" x2="472" y2="618.3" stroke="#333" stroke-width="0.8" />
<text x="472" y="629.6" font-size="8.4" text-anchor="middle" fill="#333" >40</text>
<line x1="494.15" y1="620.4" x2="494.15" y2="618.3" stroke="#333" stroke-width="0.8" />
<text x="494.15" y="629.6" font-size="8.4" text-anchor="middle" fill="#333" >50</text>
<line x1="516.3" y1="620.4" x2="516.3" y2="618.3" stroke="#333" stroke-width="0.8" />
<text x="516.3" y="629.6" font-size="8.4" text-anchor="middle" fill="#333" >60</text>
<text x="450.5" y="637.9" font-size="7.4" text-anchor="middle" fill="#333" >Time (s)</text>
<text x="370.5" y="592.5" font-size="9.2" text-anchor="middle" fill="#333" transform="rotate(-90 370.5 592.5)" >Change (a.u.)</text>
<text x="445.3" y="570.2" font-size="7.9" fill="#222">CO<tspan font-size="4.6" dy="1.5">2</tspan></text>
<text x="445.3" y="577.7" font-size="7.95" text-anchor="start" fill="#1a2ee6" >Respiratory rate</text>
<text x="445.3" y="584.9" font-size="7.95" text-anchor="start" fill="#ff1a1a" >Ratio H-Ruby/AF488</text>
<rect x="571.17" y="496.2" width="21.67" height="105.8" fill="#e3e3e3"/>
<text x="570.6" y="492.9" font-size="12.6" fill="#333">CO<tspan font-size="7.4" dy="3">2</tspan></text>
<polygon points="550.58,513.69 551.3,510.11 552.01,511.61 552.73,514.2 553.44,514.91 554.16,513.4 554.87,516.25 555.59,516.21 556.3,515.87 557.02,515.64 557.73,515.05 558.45,516.63 559.16,515.69 559.88,515.84 560.6,516.54 561.31,516.83 562.03,514.88 562.74,516.79 563.46,516.74 564.17,515.77 564.89,516.66 565.6,516.6 566.32,516.21 567.03,514.62 567.75,516.49 568.46,515.67 569.18,515.92 569.89,516.66 570.61,514.12 571.32,516.46 572.04,515.65 572.75,516.32 573.47,515.6 574.18,515.28 574.9,515.86 575.61,517.37 576.33,516.23 577.04,514.84 577.76,514.19 578.47,518.9 579.19,523.33 579.9,524.08 580.62,532.48 581.33,536.22 582.05,536.45 582.76,539.74 583.48,543.15 584.19,546 584.91,549.95 585.62,551.74 586.34,555.18 587.05,552.97 587.77,556.24 588.48,560.93 589.2,562.8 589.91,565.14 590.63,565.11 591.34,565.6 592.06,566.2 592.77,570.78 593.49,573.37 594.21,574.37 594.92,573.18 595.64,560.14 596.35,563.9 597.07,556.55 597.78,549.29 598.5,545.3 599.21,542.82 599.93,539.39 600.64,537.85 601.36,534.54 602.07,529.62 602.79,530.38 603.5,527.67 604.22,527.43 604.93,526.62 605.65,525.53 606.36,520.74 607.08,518.06 607.79,520.17 608.51,516.56 609.22,519.22 609.94,513.95 610.65,517.63 611.37,514.38 612.08,514.77 612.8,515.17 613.51,512.54 614.23,512.39 614.94,512.58 615.66,511.38 616.37,512.45 617.09,513.97 617.8,506.87 618.52,512.29 619.23,508.59 619.95,512.34 620.66,509.08 621.38,510.8 622.09,504 622.81,504.17 623.52,503.66 624.24,505.46 624.95,512.48 625.67,509.4 626.39,500.55 627.1,511.05 627.82,511.47 628.53,506.43 629.25,509.56 629.96,509.61 630.68,509.49 631.39,509.88 632.11,506.22 632.82,511.18 633.54,511.07 634.25,503.63 634.97,507.95 635.68,508.07 636.4,506.85 637.11,504.64 637.83,509.12 638.54,506.32 639.26,508.9 639.97,509.7 640.69,509.34 641.4,510.04 642.12,512.2 642.83,506.69 643.55,511.07 644.26,509.75 644.98,504.54 645.69,509.14 646.41,512.05 647.12,511.02 647.84,512.09 648.55,512.61 649.27,510.67 649.98,512.57 650.7,511.53 651.41,509.77 652.13,511.62 652.84,510.53 653.56,512.97 654.27,511.09 654.99,511.59 655.7,508.02 656.42,512.07 657.13,513.21 657.85,513.48 658.57,512.96 659.28,511.53 660,511.51 660.71,504.74 661.43,510.64 662.14,513.17 662.86,513.53 663.57,511.53 664.29,512.04 665,514.09 665.72,514.45 666.43,510.31 667.15,510.41 667.86,508.67 668.58,514.62 669.29,511.67 670.01,511.86 670.72,513.66 671.44,508.96 672.15,511.63 672.87,515.18 673.58,510.29 674.3,511.53 675.01,512.05 675.73,516.36 676.44,512.84 676.44,524.39 675.73,533.33 675.01,529.17 674.3,524.73 673.58,527.93 672.87,527.55 672.15,526.19 671.44,533.87 670.72,528.16 670.01,523.27 669.29,522.87 668.58,525.37 667.86,522.62 667.15,527.72 666.43,523.98 665.72,522.35 665,526.22 664.29,532.03 663.57,523.77 662.86,521.94 662.14,527.67 661.43,521.26 660.71,527.63 660,522.03 659.28,525.66 658.57,521.02 657.85,522.63 657.13,524.12 656.42,525.15 655.7,528.33 654.99,525.1 654.27,525.27 653.56,522.29 652.84,521.56 652.13,522.42 651.41,529.37 650.7,523.03 649.98,520.8 649.27,520.52 648.55,521.56 647.84,526.4 647.12,522.27 646.41,520.31 645.69,520.57 644.98,525.91 644.26,522.86 643.55,523.72 642.83,521.18 642.12,521.24 641.4,521.74 640.69,521.14 639.97,522.19 639.26,527.46 638.54,522.87 637.83,523.9 637.11,522.19 636.4,520.6 635.68,522.62 634.97,524.5 634.25,521.64 633.54,521.65 632.82,520.61 632.11,526.65 631.39,525.71 630.68,523.37 629.96,521.3 629.25,520.37 628.53,521.08 627.82,521.13 627.1,519.65 626.39,521.03 625.67,521.47 624.95,522.43 624.24,525.05 623.52,524.43 622.81,523.87 622.09,523.38 621.38,522.79 620.66,521.07 619.95,524.1 619.23,523.4 618.52,524.07 617.8,525.32 617.09,522.96 616.37,529.23 615.66,528.37 614.94,524.2 614.23,524.81 613.51,528.66 612.8,526.23 612.08,529.11 611.37,528.31 610.65,534.63 609.94,536.17 609.22,532.11 608.51,533.13 607.79,541.39 607.08,535.86 606.36,537.33 605.65,542.56 604.93,540.67 604.22,547.25 603.5,548.07 602.79,552.47 602.07,551.77 601.36,554.7 600.64,560.2 599.93,562.39 599.21,571.56 598.5,576.35 597.78,581.47 597.07,583.99 596.35,588.49 595.64,590.74 594.92,593.77 594.21,588.02 593.49,585.54 592.77,584.15 592.06,582.3 591.34,582.22 590.63,580.71 589.91,576.9 589.2,575.98 588.48,574.54 587.77,572.46 587.05,571.94 586.34,570.02 585.62,569.47 584.91,568.91 584.19,565.25 583.48,563.84 582.76,559.59 582.05,557.31 581.33,554.13 580.62,556.14 579.9,547.27 579.19,548.21 578.47,543.78 577.76,538.73 577.04,536.69 576.33,531.14 575.61,526.97 574.9,527.47 574.18,522.8 573.47,521.49 572.75,522.97 572.04,519.95 571.32,520.46 570.61,521.8 569.89,522.24 569.18,520.69 568.46,522.16 567.75,519.85 567.03,520.15 566.32,523.92 565.6,520.01 564.89,522.9 564.17,521.97 563.46,522.02 562.74,520.39 562.03,520.29 561.31,520.6 560.6,520.06 559.88,520.38 559.16,520.73 558.45,521.12 557.73,521.3 557.02,520.27 556.3,523.06 555.59,520.33 554.87,522.16 554.16,520.53 553.44,519.7 552.73,520.01 552.01,521.62 551.3,522.09 550.58,518.55" fill="#f8c2c2" />
<polyline points="550.58,515.47 551.3,516.08 552.01,515.73 552.73,516.37 553.44,517.31 554.16,520.68 554.87,519.28 555.59,518.88 556.3,517.15 557.02,518.38 557.73,519.17 558.45,517.91 559.16,518.04 559.88,520.58 560.6,517.74 561.31,519.33 562.03,518.2 562.74,517.73 563.46,520.09 564.17,516.38 564.89,520.09 565.6,516.87 566.32,517.19 567.03,518.54 567.75,516.18 568.46,519.3 569.18,520.56 569.89,518.21 570.61,519.83 571.32,518.37 572.04,517.79 572.75,515.67 573.47,518.77 574.18,518.96 574.9,518.76 575.61,519.28 576.33,521.57 577.04,522.48 577.76,529.44 578.47,532.37 579.19,536.37 579.9,539.4 580.62,540.64 581.33,544.42 582.05,545.64 582.76,552.34 583.48,553.81 584.19,554.35 584.91,557.96 585.62,560.45 586.34,565.19 587.05,562.96 587.77,567.96 588.48,567.51 589.2,571.52 589.91,572.23 590.63,570.31 591.34,576.11 592.06,577.48 592.77,577.84 593.49,582.34 594.21,581.1 594.92,582.86 595.64,580.55 596.35,577.98 597.07,573.22 597.78,567.73 598.5,560.19 599.21,554 599.93,548.65 600.64,548.21 601.36,543.85 602.07,544.51 602.79,541.09 603.5,539.34 604.22,534.97 604.93,531.38 605.65,529.55 606.36,526.7 607.08,527.46 607.79,529.89 608.51,525.9 609.22,523.46 609.94,522.98 610.65,523.17 611.37,522.36 612.08,521.7 612.8,524.19 613.51,521.91 614.23,518.92 614.94,517.38 615.66,520.35 616.37,519.65 617.09,517.72 617.8,517.37 618.52,518.07 619.23,518.75 619.95,515.8 620.66,515.23 621.38,518.9 622.09,518.94 622.81,515.49 623.52,516.03 624.24,517.74 624.95,516.6 625.67,515.84 626.39,514.21 627.1,514.94 627.82,514.78 628.53,514.58 629.25,515.39 629.96,515.48 630.68,515.62 631.39,514.22 632.11,516.19 632.82,517.65 633.54,513.81 634.25,514.42 634.97,511.61 635.68,514.21 636.4,516.19 637.11,516.57 637.83,512.64 638.54,514.47 639.26,518.4 639.97,516.98 640.69,516.16 641.4,514.27 642.12,517.15 642.83,519.96 643.55,515.24 644.26,518.79 644.98,516.94 645.69,519.4 646.41,517.41 647.12,516.65 647.84,519.78 648.55,518.46 649.27,516.23 649.98,517.67 650.7,515.64 651.41,517.98 652.13,518.94 652.84,518.97 653.56,516.2 654.27,515.52 654.99,516.89 655.7,515.92 656.42,515.95 657.13,519.64 657.85,518.95 658.57,517.66 659.28,517.23 660,517.32 660.71,517.82 661.43,518.69 662.14,517.58 662.86,517.64 663.57,518.33 664.29,516.91 665,518.43 665.72,518.19 666.43,517.64 667.15,519.17 667.86,515.65 668.58,519.85 669.29,517.67 670.01,521.06 670.72,519.23 671.44,520.75 672.15,520.35 672.87,516.86 673.58,520.56 674.3,519.76 675.01,521.35 675.73,517.93 676.44,516.18" fill="none" stroke="#ee1111" stroke-width="1.4" stroke-linejoin="round" />
<polyline points="552,496.2 549.5,496.2 549.5,602 679.52,602" fill="none" stroke="#333" stroke-width="1"/>
<line x1="549.5" y1="602.2" x2="551.5" y2="602.2" stroke="#333" stroke-width="0.8" />
<text x="548.2" y="605.2" font-size="8.2" text-anchor="end" fill="#333" >7.20</text>
<line x1="549.5" y1="581" x2="551.5" y2="581" stroke="#333" stroke-width="0.8" />
<text x="548.2" y="584" font-size="8.2" text-anchor="end" fill="#333" >7.25</text>
<line x1="549.5" y1="559.8" x2="551.5" y2="559.8" stroke="#333" stroke-width="0.8" />
<text x="548.2" y="562.8" font-size="8.2" text-anchor="end" fill="#333" >7.30</text>
<line x1="549.5" y1="538.6" x2="551.5" y2="538.6" stroke="#333" stroke-width="0.8" />
<text x="548.2" y="541.6" font-size="8.2" text-anchor="end" fill="#333" >7.35</text>
<line x1="549.5" y1="517.4" x2="551.5" y2="517.4" stroke="#333" stroke-width="0.8" />
<text x="548.2" y="520.4" font-size="8.2" text-anchor="end" fill="#333" >7.40</text>
<line x1="549.5" y1="496.2" x2="551.5" y2="496.2" stroke="#333" stroke-width="0.8" />
<text x="548.2" y="499.2" font-size="8.2" text-anchor="end" fill="#333" >7.45</text>
<line x1="549.5" y1="602" x2="549.5" y2="600" stroke="#333" stroke-width="0.8" />
<text x="549.5" y="610.6" font-size="8.4" text-anchor="middle" fill="#333" >0</text>
<line x1="571.17" y1="602" x2="571.17" y2="600" stroke="#333" stroke-width="0.8" />
<text x="571.17" y="610.6" font-size="8.4" text-anchor="middle" fill="#333" >10</text>
<line x1="592.84" y1="602" x2="592.84" y2="600" stroke="#333" stroke-width="0.8" />
<text x="592.84" y="610.6" font-size="8.4" text-anchor="middle" fill="#333" >20</text>
<line x1="614.51" y1="602" x2="614.51" y2="600" stroke="#333" stroke-width="0.8" />
<text x="614.51" y="610.6" font-size="8.4" text-anchor="middle" fill="#333" >30</text>
<line x1="636.18" y1="602" x2="636.18" y2="600" stroke="#333" stroke-width="0.8" />
<text x="636.18" y="610.6" font-size="8.4" text-anchor="middle" fill="#333" >40</text>
<line x1="657.85" y1="602" x2="657.85" y2="600" stroke="#333" stroke-width="0.8" />
<text x="657.85" y="610.6" font-size="8.4" text-anchor="middle" fill="#333" >50</text>
<line x1="679.52" y1="602" x2="679.52" y2="600" stroke="#333" stroke-width="0.8" />
<text x="679.52" y="610.6" font-size="8.4" text-anchor="middle" fill="#333" >60</text>
<text x="616" y="618.8" font-size="7.4" text-anchor="middle" fill="#333" >Time (s)</text>
<text x="530" y="553" font-size="9.2" text-anchor="middle" fill="#333" transform="rotate(-90 530 553)" >pH</text>
</svg>
</body></html>
